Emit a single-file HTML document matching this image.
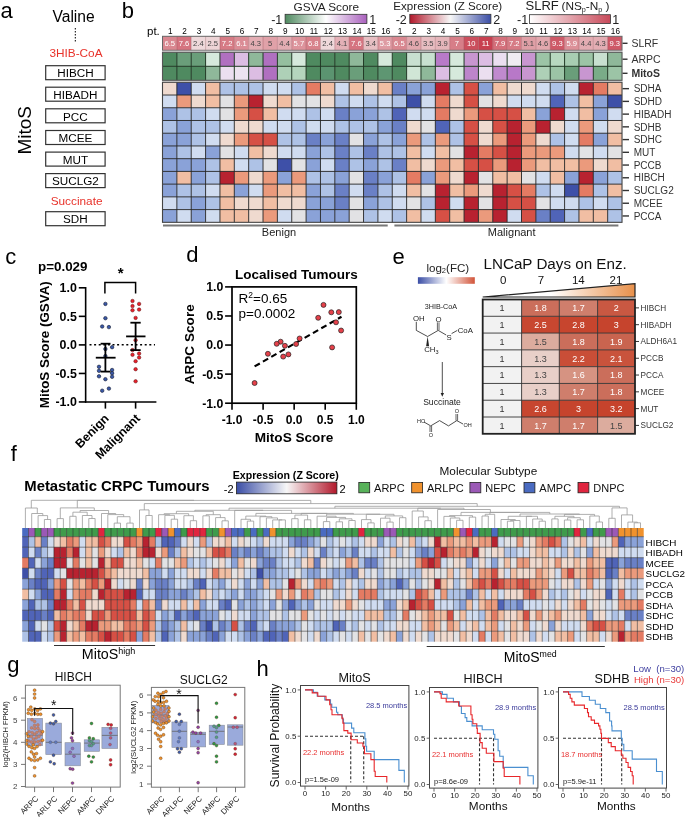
<!DOCTYPE html>
<html><head><meta charset="utf-8"><style>
html,body{margin:0;padding:0;background:#fff;}
svg{display:block;font-family:"Liberation Sans", sans-serif;will-change:transform;}
</style></head><body>
<svg width="685" height="817" viewBox="0 0 685 817">
<rect width="685" height="817" fill="#fff"/>
<defs>
<linearGradient id="gGSVA"><stop offset="0" stop-color="#4f8a60"/><stop offset="0.5" stop-color="#ffffff"/><stop offset="1" stop-color="#a960bd"/></linearGradient>
<linearGradient id="gEXPb"><stop offset="0" stop-color="#b2182b"/><stop offset="0.5" stop-color="#f7f7f7"/><stop offset="1" stop-color="#3b4ea6"/></linearGradient>
<linearGradient id="gEXPf"><stop offset="0" stop-color="#3b4ea6"/><stop offset="0.5" stop-color="#f7f7f7"/><stop offset="1" stop-color="#b2182b"/></linearGradient>
<linearGradient id="gSLRF"><stop offset="0" stop-color="#ffffff"/><stop offset="1" stop-color="#c84a5a"/></linearGradient>
<linearGradient id="gFC"><stop offset="0" stop-color="#3b4ea6"/><stop offset="0.5" stop-color="#ffffff"/><stop offset="1" stop-color="#d2553a"/></linearGradient>
<linearGradient id="gWedge"><stop offset="0" stop-color="#ffffff"/><stop offset="0.45" stop-color="#ffffff"/><stop offset="1" stop-color="#e8904a"/></linearGradient>
</defs>
<text x="0.6" y="18.2" font-size="22" text-anchor="start" fill="#000" >a</text>
<text x="73.6" y="22.0" font-size="15.6" text-anchor="middle" fill="#000" >Valine</text>
<line x1="75.30" y1="28.00" x2="75.30" y2="42.00" stroke="#000" stroke-width="1" stroke-dasharray="1.5 1.5"/>
<text x="76.0" y="56.9" font-size="11.8" text-anchor="middle" fill="#e8322a" >3HIB-CoA</text>
<rect x="45.70" y="65.70" width="59.40" height="14.00" fill="#fff" stroke="#333" stroke-width="1.2" />
<text x="75.4" y="77.4" font-size="11.7" text-anchor="middle" fill="#000" >HIBCH</text>
<rect x="45.70" y="87.20" width="59.40" height="14.00" fill="#fff" stroke="#333" stroke-width="1.2" />
<text x="75.4" y="98.9" font-size="11.7" text-anchor="middle" fill="#000" >HIBADH</text>
<rect x="45.70" y="108.80" width="59.40" height="14.00" fill="#fff" stroke="#333" stroke-width="1.2" />
<text x="75.4" y="120.5" font-size="11.7" text-anchor="middle" fill="#000" >PCC</text>
<rect x="45.70" y="130.50" width="59.40" height="14.00" fill="#fff" stroke="#333" stroke-width="1.2" />
<text x="75.4" y="142.2" font-size="11.7" text-anchor="middle" fill="#000" >MCEE</text>
<rect x="45.70" y="152.10" width="59.40" height="14.00" fill="#fff" stroke="#333" stroke-width="1.2" />
<text x="75.4" y="163.8" font-size="11.7" text-anchor="middle" fill="#000" >MUT</text>
<rect x="45.70" y="173.60" width="59.40" height="14.00" fill="#fff" stroke="#333" stroke-width="1.2" />
<text x="75.4" y="185.3" font-size="11.7" text-anchor="middle" fill="#000" >SUCLG2</text>
<rect x="45.70" y="211.70" width="59.40" height="14.00" fill="#fff" stroke="#333" stroke-width="1.2" />
<text x="75.4" y="223.4" font-size="11.7" text-anchor="middle" fill="#000" >SDH</text>
<text x="76.6" y="204.8" font-size="11.8" text-anchor="middle" fill="#e8322a" >Succinate</text>
<text x="0" y="0" font-size="19" text-anchor="middle" transform="translate(31.2,130.3) rotate(-90)">MitoS</text>
<text x="121.8" y="18.1" font-size="22" text-anchor="start" fill="#000" >b</text>
<text x="147.0" y="34.5" font-size="11.5" text-anchor="start" fill="#000" >pt.</text>
<text x="170.3" y="33.8" font-size="8.2" text-anchor="middle" fill="#000" >1</text>
<text x="184.6" y="33.8" font-size="8.2" text-anchor="middle" fill="#000" >2</text>
<text x="199.0" y="33.8" font-size="8.2" text-anchor="middle" fill="#000" >3</text>
<text x="213.4" y="33.8" font-size="8.2" text-anchor="middle" fill="#000" >4</text>
<text x="227.7" y="33.8" font-size="8.2" text-anchor="middle" fill="#000" >5</text>
<text x="242.1" y="33.8" font-size="8.2" text-anchor="middle" fill="#000" >6</text>
<text x="256.4" y="33.8" font-size="8.2" text-anchor="middle" fill="#000" >7</text>
<text x="270.8" y="33.8" font-size="8.2" text-anchor="middle" fill="#000" >8</text>
<text x="285.2" y="33.8" font-size="8.2" text-anchor="middle" fill="#000" >9</text>
<text x="299.5" y="33.8" font-size="8.2" text-anchor="middle" fill="#000" >10</text>
<text x="313.9" y="33.8" font-size="8.2" text-anchor="middle" fill="#000" >11</text>
<text x="328.2" y="33.8" font-size="8.2" text-anchor="middle" fill="#000" >12</text>
<text x="342.6" y="33.8" font-size="8.2" text-anchor="middle" fill="#000" >13</text>
<text x="357.0" y="33.8" font-size="8.2" text-anchor="middle" fill="#000" >14</text>
<text x="371.3" y="33.8" font-size="8.2" text-anchor="middle" fill="#000" >15</text>
<text x="385.7" y="33.8" font-size="8.2" text-anchor="middle" fill="#000" >16</text>
<text x="400.0" y="33.8" font-size="8.2" text-anchor="middle" fill="#000" >1</text>
<text x="414.4" y="33.8" font-size="8.2" text-anchor="middle" fill="#000" >2</text>
<text x="428.8" y="33.8" font-size="8.2" text-anchor="middle" fill="#000" >3</text>
<text x="443.1" y="33.8" font-size="8.2" text-anchor="middle" fill="#000" >4</text>
<text x="457.5" y="33.8" font-size="8.2" text-anchor="middle" fill="#000" >5</text>
<text x="471.8" y="33.8" font-size="8.2" text-anchor="middle" fill="#000" >6</text>
<text x="486.2" y="33.8" font-size="8.2" text-anchor="middle" fill="#000" >7</text>
<text x="500.6" y="33.8" font-size="8.2" text-anchor="middle" fill="#000" >8</text>
<text x="514.9" y="33.8" font-size="8.2" text-anchor="middle" fill="#000" >9</text>
<text x="529.3" y="33.8" font-size="8.2" text-anchor="middle" fill="#000" >10</text>
<text x="543.6" y="33.8" font-size="8.2" text-anchor="middle" fill="#000" >11</text>
<text x="558.0" y="33.8" font-size="8.2" text-anchor="middle" fill="#000" >12</text>
<text x="572.4" y="33.8" font-size="8.2" text-anchor="middle" fill="#000" >13</text>
<text x="586.7" y="33.8" font-size="8.2" text-anchor="middle" fill="#000" >14</text>
<text x="601.1" y="33.8" font-size="8.2" text-anchor="middle" fill="#000" >15</text>
<text x="615.4" y="33.8" font-size="8.2" text-anchor="middle" fill="#000" >16</text>
<rect x="162.50" y="36.30" width="14.36" height="14.00" fill="#d98790" />
<text x="169.7" y="46.2" font-size="7.6" text-anchor="middle" fill="#fff" >6.5</text>
<rect x="176.86" y="36.30" width="14.36" height="14.00" fill="#d57480" />
<text x="184.0" y="46.2" font-size="7.6" text-anchor="middle" fill="#fff" >7.6</text>
<rect x="191.22" y="36.30" width="14.36" height="14.00" fill="#eed8da" />
<text x="198.4" y="46.2" font-size="7.6" text-anchor="middle" fill="#444" >2.4</text>
<rect x="205.58" y="36.30" width="14.36" height="14.00" fill="#edd4d6" />
<text x="212.8" y="46.2" font-size="7.6" text-anchor="middle" fill="#444" >2.5</text>
<rect x="219.94" y="36.30" width="14.36" height="14.00" fill="#d67b85" />
<text x="227.1" y="46.2" font-size="7.6" text-anchor="middle" fill="#fff" >7.2</text>
<rect x="234.30" y="36.30" width="14.36" height="14.00" fill="#db8d96" />
<text x="241.5" y="46.2" font-size="7.6" text-anchor="middle" fill="#fff" >6.1</text>
<rect x="248.66" y="36.30" width="14.36" height="14.00" fill="#e3adb3" />
<text x="255.8" y="46.2" font-size="7.6" text-anchor="middle" fill="#444" >4.3</text>
<rect x="263.02" y="36.30" width="14.36" height="14.00" fill="#e0a1a8" />
<text x="270.2" y="46.2" font-size="7.6" text-anchor="middle" fill="#444" >5</text>
<rect x="277.38" y="36.30" width="14.36" height="14.00" fill="#e3acb2" />
<text x="284.6" y="46.2" font-size="7.6" text-anchor="middle" fill="#444" >4.4</text>
<rect x="291.74" y="36.30" width="14.36" height="14.00" fill="#dd949c" />
<text x="298.9" y="46.2" font-size="7.6" text-anchor="middle" fill="#fff" >5.7</text>
<rect x="306.10" y="36.30" width="14.36" height="14.00" fill="#d8828b" />
<text x="313.3" y="46.2" font-size="7.6" text-anchor="middle" fill="#fff" >6.8</text>
<rect x="320.46" y="36.30" width="14.36" height="14.00" fill="#eed8da" />
<text x="327.6" y="46.2" font-size="7.6" text-anchor="middle" fill="#444" >2.4</text>
<rect x="334.82" y="36.30" width="14.36" height="14.00" fill="#e4b1b7" />
<text x="342.0" y="46.2" font-size="7.6" text-anchor="middle" fill="#444" >4.1</text>
<rect x="349.18" y="36.30" width="14.36" height="14.00" fill="#d57480" />
<text x="356.4" y="46.2" font-size="7.6" text-anchor="middle" fill="#fff" >7.6</text>
<rect x="363.54" y="36.30" width="14.36" height="14.00" fill="#e7bfc3" />
<text x="370.7" y="46.2" font-size="7.6" text-anchor="middle" fill="#444" >3.4</text>
<rect x="377.90" y="36.30" width="14.36" height="14.00" fill="#de9ba3" />
<text x="385.1" y="46.2" font-size="7.6" text-anchor="middle" fill="#fff" >5.3</text>
<rect x="392.26" y="36.30" width="14.36" height="14.00" fill="#d98790" />
<text x="399.4" y="46.2" font-size="7.6" text-anchor="middle" fill="#fff" >6.5</text>
<rect x="406.62" y="36.30" width="14.36" height="14.00" fill="#e2a8ae" />
<text x="413.8" y="46.2" font-size="7.6" text-anchor="middle" fill="#444" >4.6</text>
<rect x="420.98" y="36.30" width="14.36" height="14.00" fill="#e7bdc1" />
<text x="428.2" y="46.2" font-size="7.6" text-anchor="middle" fill="#444" >3.5</text>
<rect x="435.34" y="36.30" width="14.36" height="14.00" fill="#e5b5ba" />
<text x="442.5" y="46.2" font-size="7.6" text-anchor="middle" fill="#444" >3.9</text>
<rect x="449.70" y="36.30" width="14.36" height="14.00" fill="#d77e88" />
<text x="456.9" y="46.2" font-size="7.6" text-anchor="middle" fill="#fff" >7</text>
<rect x="464.06" y="36.30" width="14.36" height="14.00" fill="#cb4f5d" />
<text x="471.2" y="46.2" font-size="7.6" text-anchor="middle" fill="#fff" >10</text>
<rect x="478.42" y="36.30" width="14.36" height="14.00" fill="#c84050" />
<text x="485.6" y="46.2" font-size="7.6" text-anchor="middle" fill="#fff" >11</text>
<rect x="492.78" y="36.30" width="14.36" height="14.00" fill="#d4707b" />
<text x="500.0" y="46.2" font-size="7.6" text-anchor="middle" fill="#fff" >7.9</text>
<rect x="507.14" y="36.30" width="14.36" height="14.00" fill="#d67b85" />
<text x="514.3" y="46.2" font-size="7.6" text-anchor="middle" fill="#fff" >7.2</text>
<rect x="521.50" y="36.30" width="14.36" height="14.00" fill="#df9fa6" />
<text x="528.7" y="46.2" font-size="7.6" text-anchor="middle" fill="#444" >5.1</text>
<rect x="535.86" y="36.30" width="14.36" height="14.00" fill="#e2a8ae" />
<text x="543.0" y="46.2" font-size="7.6" text-anchor="middle" fill="#444" >4.6</text>
<rect x="550.22" y="36.30" width="14.36" height="14.00" fill="#ce5967" />
<text x="557.4" y="46.2" font-size="7.6" text-anchor="middle" fill="#fff" >9.3</text>
<rect x="564.58" y="36.30" width="14.36" height="14.00" fill="#dc9199" />
<text x="571.8" y="46.2" font-size="7.6" text-anchor="middle" fill="#fff" >5.9</text>
<rect x="578.94" y="36.30" width="14.36" height="14.00" fill="#e3acb2" />
<text x="586.1" y="46.2" font-size="7.6" text-anchor="middle" fill="#444" >4.4</text>
<rect x="593.30" y="36.30" width="14.36" height="14.00" fill="#e3adb3" />
<text x="600.5" y="46.2" font-size="7.6" text-anchor="middle" fill="#444" >4.3</text>
<rect x="607.66" y="36.30" width="14.36" height="14.00" fill="#ce5967" />
<text x="614.8" y="46.2" font-size="7.6" text-anchor="middle" fill="#fff" >9.3</text>
<line x1="176.86" y1="36.30" x2="176.86" y2="50.30" stroke="rgba(120,40,50,0.35)" stroke-width="0.8" />
<line x1="191.22" y1="36.30" x2="191.22" y2="50.30" stroke="rgba(120,40,50,0.35)" stroke-width="0.8" />
<line x1="205.58" y1="36.30" x2="205.58" y2="50.30" stroke="rgba(120,40,50,0.35)" stroke-width="0.8" />
<line x1="219.94" y1="36.30" x2="219.94" y2="50.30" stroke="rgba(120,40,50,0.35)" stroke-width="0.8" />
<line x1="234.30" y1="36.30" x2="234.30" y2="50.30" stroke="rgba(120,40,50,0.35)" stroke-width="0.8" />
<line x1="248.66" y1="36.30" x2="248.66" y2="50.30" stroke="rgba(120,40,50,0.35)" stroke-width="0.8" />
<line x1="263.02" y1="36.30" x2="263.02" y2="50.30" stroke="rgba(120,40,50,0.35)" stroke-width="0.8" />
<line x1="277.38" y1="36.30" x2="277.38" y2="50.30" stroke="rgba(120,40,50,0.35)" stroke-width="0.8" />
<line x1="291.74" y1="36.30" x2="291.74" y2="50.30" stroke="rgba(120,40,50,0.35)" stroke-width="0.8" />
<line x1="306.10" y1="36.30" x2="306.10" y2="50.30" stroke="rgba(120,40,50,0.35)" stroke-width="0.8" />
<line x1="320.46" y1="36.30" x2="320.46" y2="50.30" stroke="rgba(120,40,50,0.35)" stroke-width="0.8" />
<line x1="334.82" y1="36.30" x2="334.82" y2="50.30" stroke="rgba(120,40,50,0.35)" stroke-width="0.8" />
<line x1="349.18" y1="36.30" x2="349.18" y2="50.30" stroke="rgba(120,40,50,0.35)" stroke-width="0.8" />
<line x1="363.54" y1="36.30" x2="363.54" y2="50.30" stroke="rgba(120,40,50,0.35)" stroke-width="0.8" />
<line x1="377.90" y1="36.30" x2="377.90" y2="50.30" stroke="rgba(120,40,50,0.35)" stroke-width="0.8" />
<line x1="392.26" y1="36.30" x2="392.26" y2="50.30" stroke="rgba(120,40,50,0.35)" stroke-width="0.8" />
<line x1="406.62" y1="36.30" x2="406.62" y2="50.30" stroke="rgba(120,40,50,0.35)" stroke-width="0.8" />
<line x1="420.98" y1="36.30" x2="420.98" y2="50.30" stroke="rgba(120,40,50,0.35)" stroke-width="0.8" />
<line x1="435.34" y1="36.30" x2="435.34" y2="50.30" stroke="rgba(120,40,50,0.35)" stroke-width="0.8" />
<line x1="449.70" y1="36.30" x2="449.70" y2="50.30" stroke="rgba(120,40,50,0.35)" stroke-width="0.8" />
<line x1="464.06" y1="36.30" x2="464.06" y2="50.30" stroke="rgba(120,40,50,0.35)" stroke-width="0.8" />
<line x1="478.42" y1="36.30" x2="478.42" y2="50.30" stroke="rgba(120,40,50,0.35)" stroke-width="0.8" />
<line x1="492.78" y1="36.30" x2="492.78" y2="50.30" stroke="rgba(120,40,50,0.35)" stroke-width="0.8" />
<line x1="507.14" y1="36.30" x2="507.14" y2="50.30" stroke="rgba(120,40,50,0.35)" stroke-width="0.8" />
<line x1="521.50" y1="36.30" x2="521.50" y2="50.30" stroke="rgba(120,40,50,0.35)" stroke-width="0.8" />
<line x1="535.86" y1="36.30" x2="535.86" y2="50.30" stroke="rgba(120,40,50,0.35)" stroke-width="0.8" />
<line x1="550.22" y1="36.30" x2="550.22" y2="50.30" stroke="rgba(120,40,50,0.35)" stroke-width="0.8" />
<line x1="564.58" y1="36.30" x2="564.58" y2="50.30" stroke="rgba(120,40,50,0.35)" stroke-width="0.8" />
<line x1="578.94" y1="36.30" x2="578.94" y2="50.30" stroke="rgba(120,40,50,0.35)" stroke-width="0.8" />
<line x1="593.30" y1="36.30" x2="593.30" y2="50.30" stroke="rgba(120,40,50,0.35)" stroke-width="0.8" />
<line x1="607.66" y1="36.30" x2="607.66" y2="50.30" stroke="rgba(120,40,50,0.35)" stroke-width="0.8" />
<rect x="162.50" y="36.30" width="459.52" height="14.00" fill="none" stroke="#666" stroke-width="1" />
<rect x="162.00" y="50.80" width="460.52" height="1.10" fill="#dcdcdc" />
<rect x="162.00" y="80.60" width="460.52" height="1.10" fill="#dcdcdc" />
<rect x="162.50" y="52.30" width="14.36" height="14.00" fill="#4f8a60" />
<rect x="162.50" y="66.30" width="14.36" height="14.00" fill="#4f8a60" />
<rect x="176.86" y="52.30" width="14.36" height="14.00" fill="#6a9e7a" />
<rect x="176.86" y="66.30" width="14.36" height="14.00" fill="#4f8a60" />
<rect x="191.22" y="52.30" width="14.36" height="14.00" fill="#6a9e7a" />
<rect x="191.22" y="66.30" width="14.36" height="14.00" fill="#4f8a60" />
<rect x="205.58" y="52.30" width="14.36" height="14.00" fill="#d6e9dc" />
<rect x="205.58" y="66.30" width="14.36" height="14.00" fill="#8fb89a" />
<rect x="219.94" y="52.30" width="14.36" height="14.00" fill="#b070c0" />
<rect x="219.94" y="66.30" width="14.36" height="14.00" fill="#ebdff0" />
<rect x="234.30" y="52.30" width="14.36" height="14.00" fill="#dcbde3" />
<rect x="234.30" y="66.30" width="14.36" height="14.00" fill="#ece3f0" />
<rect x="248.66" y="52.30" width="14.36" height="14.00" fill="#8fb89a" />
<rect x="248.66" y="66.30" width="14.36" height="14.00" fill="#dcbde3" />
<rect x="263.02" y="52.30" width="14.36" height="14.00" fill="#b070c0" />
<rect x="263.02" y="66.30" width="14.36" height="14.00" fill="#b070c0" />
<rect x="277.38" y="52.30" width="14.36" height="14.00" fill="#95bf9f" />
<rect x="277.38" y="66.30" width="14.36" height="14.00" fill="#aed0b7" />
<rect x="291.74" y="52.30" width="14.36" height="14.00" fill="#d6e9dc" />
<rect x="291.74" y="66.30" width="14.36" height="14.00" fill="#b5d5bd" />
<rect x="306.10" y="52.30" width="14.36" height="14.00" fill="#4f8a60" />
<rect x="306.10" y="66.30" width="14.36" height="14.00" fill="#4f8a60" />
<rect x="320.46" y="52.30" width="14.36" height="14.00" fill="#4f8a60" />
<rect x="320.46" y="66.30" width="14.36" height="14.00" fill="#5b9470" />
<rect x="334.82" y="52.30" width="14.36" height="14.00" fill="#4f8a60" />
<rect x="334.82" y="66.30" width="14.36" height="14.00" fill="#4f8a60" />
<rect x="349.18" y="52.30" width="14.36" height="14.00" fill="#8fb89a" />
<rect x="349.18" y="66.30" width="14.36" height="14.00" fill="#6a9e7a" />
<rect x="363.54" y="52.30" width="14.36" height="14.00" fill="#4f8a60" />
<rect x="363.54" y="66.30" width="14.36" height="14.00" fill="#4f8a60" />
<rect x="377.90" y="52.30" width="14.36" height="14.00" fill="#d6e9dc" />
<rect x="377.90" y="66.30" width="14.36" height="14.00" fill="#5e9672" />
<rect x="392.26" y="52.30" width="14.36" height="14.00" fill="#4f8a60" />
<rect x="392.26" y="66.30" width="14.36" height="14.00" fill="#4f8a60" />
<rect x="406.62" y="52.30" width="14.36" height="14.00" fill="#c8e0d0" />
<rect x="406.62" y="66.30" width="14.36" height="14.00" fill="#d0e6d6" />
<rect x="420.98" y="52.30" width="14.36" height="14.00" fill="#c8e0d0" />
<rect x="420.98" y="66.30" width="14.36" height="14.00" fill="#8fb89a" />
<rect x="435.34" y="52.30" width="14.36" height="14.00" fill="#b87ac8" />
<rect x="435.34" y="66.30" width="14.36" height="14.00" fill="#dcbde3" />
<rect x="449.70" y="52.30" width="14.36" height="14.00" fill="#d6e9dc" />
<rect x="449.70" y="66.30" width="14.36" height="14.00" fill="#d6e9dc" />
<rect x="464.06" y="52.30" width="14.36" height="14.00" fill="#c896d0" />
<rect x="464.06" y="66.30" width="14.36" height="14.00" fill="#bd85cb" />
<rect x="478.42" y="52.30" width="14.36" height="14.00" fill="#dcbde3" />
<rect x="478.42" y="66.30" width="14.36" height="14.00" fill="#ebdff0" />
<rect x="492.78" y="52.30" width="14.36" height="14.00" fill="#ebdff0" />
<rect x="492.78" y="66.30" width="14.36" height="14.00" fill="#c08ace" />
<rect x="507.14" y="52.30" width="14.36" height="14.00" fill="#f0ecf2" />
<rect x="507.14" y="66.30" width="14.36" height="14.00" fill="#b878c8" />
<rect x="521.50" y="52.30" width="14.36" height="14.00" fill="#c896d0" />
<rect x="521.50" y="66.30" width="14.36" height="14.00" fill="#c896d0" />
<rect x="535.86" y="52.30" width="14.36" height="14.00" fill="#9cc4a6" />
<rect x="535.86" y="66.30" width="14.36" height="14.00" fill="#aed0b7" />
<rect x="550.22" y="52.30" width="14.36" height="14.00" fill="#b8d8c0" />
<rect x="550.22" y="66.30" width="14.36" height="14.00" fill="#9cc4a6" />
<rect x="564.58" y="52.30" width="14.36" height="14.00" fill="#a8cdb2" />
<rect x="564.58" y="66.30" width="14.36" height="14.00" fill="#6a9e7a" />
<rect x="578.94" y="52.30" width="14.36" height="14.00" fill="#9cc4a6" />
<rect x="578.94" y="66.30" width="14.36" height="14.00" fill="#c896d0" />
<rect x="593.30" y="52.30" width="14.36" height="14.00" fill="#c8e0d0" />
<rect x="593.30" y="66.30" width="14.36" height="14.00" fill="#7aac88" />
<rect x="607.66" y="52.30" width="14.36" height="14.00" fill="#8fb89a" />
<rect x="607.66" y="66.30" width="14.36" height="14.00" fill="#9cc4a6" />
<line x1="176.86" y1="52.30" x2="176.86" y2="80.30" stroke="#203824" stroke-width="1" />
<line x1="191.22" y1="52.30" x2="191.22" y2="80.30" stroke="#203824" stroke-width="1" />
<line x1="205.58" y1="52.30" x2="205.58" y2="80.30" stroke="#203824" stroke-width="1" />
<line x1="219.94" y1="52.30" x2="219.94" y2="80.30" stroke="#203824" stroke-width="1" />
<line x1="234.30" y1="52.30" x2="234.30" y2="80.30" stroke="#203824" stroke-width="1" />
<line x1="248.66" y1="52.30" x2="248.66" y2="80.30" stroke="#203824" stroke-width="1" />
<line x1="263.02" y1="52.30" x2="263.02" y2="80.30" stroke="#203824" stroke-width="1" />
<line x1="277.38" y1="52.30" x2="277.38" y2="80.30" stroke="#203824" stroke-width="1" />
<line x1="291.74" y1="52.30" x2="291.74" y2="80.30" stroke="#203824" stroke-width="1" />
<line x1="306.10" y1="52.30" x2="306.10" y2="80.30" stroke="#203824" stroke-width="1" />
<line x1="320.46" y1="52.30" x2="320.46" y2="80.30" stroke="#203824" stroke-width="1" />
<line x1="334.82" y1="52.30" x2="334.82" y2="80.30" stroke="#203824" stroke-width="1" />
<line x1="349.18" y1="52.30" x2="349.18" y2="80.30" stroke="#203824" stroke-width="1" />
<line x1="363.54" y1="52.30" x2="363.54" y2="80.30" stroke="#203824" stroke-width="1" />
<line x1="377.90" y1="52.30" x2="377.90" y2="80.30" stroke="#203824" stroke-width="1" />
<line x1="392.26" y1="52.30" x2="392.26" y2="80.30" stroke="#203824" stroke-width="1" />
<line x1="406.62" y1="52.30" x2="406.62" y2="80.30" stroke="#203824" stroke-width="1" />
<line x1="420.98" y1="52.30" x2="420.98" y2="80.30" stroke="#203824" stroke-width="1" />
<line x1="435.34" y1="52.30" x2="435.34" y2="80.30" stroke="#203824" stroke-width="1" />
<line x1="449.70" y1="52.30" x2="449.70" y2="80.30" stroke="#203824" stroke-width="1" />
<line x1="464.06" y1="52.30" x2="464.06" y2="80.30" stroke="#203824" stroke-width="1" />
<line x1="478.42" y1="52.30" x2="478.42" y2="80.30" stroke="#203824" stroke-width="1" />
<line x1="492.78" y1="52.30" x2="492.78" y2="80.30" stroke="#203824" stroke-width="1" />
<line x1="507.14" y1="52.30" x2="507.14" y2="80.30" stroke="#203824" stroke-width="1" />
<line x1="521.50" y1="52.30" x2="521.50" y2="80.30" stroke="#203824" stroke-width="1" />
<line x1="535.86" y1="52.30" x2="535.86" y2="80.30" stroke="#203824" stroke-width="1" />
<line x1="550.22" y1="52.30" x2="550.22" y2="80.30" stroke="#203824" stroke-width="1" />
<line x1="564.58" y1="52.30" x2="564.58" y2="80.30" stroke="#203824" stroke-width="1" />
<line x1="578.94" y1="52.30" x2="578.94" y2="80.30" stroke="#203824" stroke-width="1" />
<line x1="593.30" y1="52.30" x2="593.30" y2="80.30" stroke="#203824" stroke-width="1" />
<line x1="607.66" y1="52.30" x2="607.66" y2="80.30" stroke="#203824" stroke-width="1" />
<line x1="162.50" y1="66.30" x2="622.02" y2="66.30" stroke="#203824" stroke-width="1" />
<rect x="162.50" y="52.30" width="459.52" height="28.00" fill="none" stroke="#555" stroke-width="1.1" />
<rect x="162.50" y="82.30" width="14.36" height="12.73" fill="#efdacf" />
<rect x="176.86" y="82.30" width="14.36" height="12.73" fill="#3e50a8" />
<rect x="191.22" y="82.30" width="14.36" height="12.73" fill="#d0dcf0" />
<rect x="205.58" y="82.30" width="14.36" height="12.73" fill="#f1bea3" />
<rect x="219.94" y="82.30" width="14.36" height="12.73" fill="#aec2e6" />
<rect x="234.30" y="82.30" width="14.36" height="12.73" fill="#aec2e6" />
<rect x="248.66" y="82.30" width="14.36" height="12.73" fill="#aec2e6" />
<rect x="263.02" y="82.30" width="14.36" height="12.73" fill="#d0dcf0" />
<rect x="277.38" y="82.30" width="14.36" height="12.73" fill="#d0dcf0" />
<rect x="291.74" y="82.30" width="14.36" height="12.73" fill="#aec2e6" />
<rect x="306.10" y="82.30" width="14.36" height="12.73" fill="#e47b63" />
<rect x="320.46" y="82.30" width="14.36" height="12.73" fill="#f1bea3" />
<rect x="334.82" y="82.30" width="14.36" height="12.73" fill="#d0dcf0" />
<rect x="349.18" y="82.30" width="14.36" height="12.73" fill="#f1bea3" />
<rect x="363.54" y="82.30" width="14.36" height="12.73" fill="#efdacf" />
<rect x="377.90" y="82.30" width="14.36" height="12.73" fill="#f1bea3" />
<rect x="392.26" y="82.30" width="14.36" height="12.73" fill="#6a80c6" />
<rect x="406.62" y="82.30" width="14.36" height="12.73" fill="#8aa2d8" />
<rect x="420.98" y="82.30" width="14.36" height="12.73" fill="#8aa2d8" />
<rect x="435.34" y="82.30" width="14.36" height="12.73" fill="#b82230" />
<rect x="449.70" y="82.30" width="14.36" height="12.73" fill="#aec2e6" />
<rect x="464.06" y="82.30" width="14.36" height="12.73" fill="#d65045" />
<rect x="478.42" y="82.30" width="14.36" height="12.73" fill="#8aa2d8" />
<rect x="492.78" y="82.30" width="14.36" height="12.73" fill="#f1bea3" />
<rect x="507.14" y="82.30" width="14.36" height="12.73" fill="#efdacf" />
<rect x="521.50" y="82.30" width="14.36" height="12.73" fill="#efdacf" />
<rect x="535.86" y="82.30" width="14.36" height="12.73" fill="#d0dcf0" />
<rect x="550.22" y="82.30" width="14.36" height="12.73" fill="#aec2e6" />
<rect x="564.58" y="82.30" width="14.36" height="12.73" fill="#d0dcf0" />
<rect x="578.94" y="82.30" width="14.36" height="12.73" fill="#b82230" />
<rect x="593.30" y="82.30" width="14.36" height="12.73" fill="#e47b63" />
<rect x="607.66" y="82.30" width="14.36" height="12.73" fill="#f1bea3" />
<rect x="162.50" y="95.03" width="14.36" height="12.73" fill="#d0dcf0" />
<rect x="176.86" y="95.03" width="14.36" height="12.73" fill="#eb9a7c" />
<rect x="191.22" y="95.03" width="14.36" height="12.73" fill="#efdacf" />
<rect x="205.58" y="95.03" width="14.36" height="12.73" fill="#f1bea3" />
<rect x="219.94" y="95.03" width="14.36" height="12.73" fill="#e2e2e4" />
<rect x="234.30" y="95.03" width="14.36" height="12.73" fill="#eb9a7c" />
<rect x="248.66" y="95.03" width="14.36" height="12.73" fill="#b82230" />
<rect x="263.02" y="95.03" width="14.36" height="12.73" fill="#efdacf" />
<rect x="277.38" y="95.03" width="14.36" height="12.73" fill="#f1bea3" />
<rect x="291.74" y="95.03" width="14.36" height="12.73" fill="#e2e2e4" />
<rect x="306.10" y="95.03" width="14.36" height="12.73" fill="#e2e2e4" />
<rect x="320.46" y="95.03" width="14.36" height="12.73" fill="#efdacf" />
<rect x="334.82" y="95.03" width="14.36" height="12.73" fill="#aec2e6" />
<rect x="349.18" y="95.03" width="14.36" height="12.73" fill="#d0dcf0" />
<rect x="363.54" y="95.03" width="14.36" height="12.73" fill="#aec2e6" />
<rect x="377.90" y="95.03" width="14.36" height="12.73" fill="#d0dcf0" />
<rect x="392.26" y="95.03" width="14.36" height="12.73" fill="#aec2e6" />
<rect x="406.62" y="95.03" width="14.36" height="12.73" fill="#3e50a8" />
<rect x="420.98" y="95.03" width="14.36" height="12.73" fill="#d0dcf0" />
<rect x="435.34" y="95.03" width="14.36" height="12.73" fill="#e47b63" />
<rect x="449.70" y="95.03" width="14.36" height="12.73" fill="#efdacf" />
<rect x="464.06" y="95.03" width="14.36" height="12.73" fill="#d65045" />
<rect x="478.42" y="95.03" width="14.36" height="12.73" fill="#e2e2e4" />
<rect x="492.78" y="95.03" width="14.36" height="12.73" fill="#efdacf" />
<rect x="507.14" y="95.03" width="14.36" height="12.73" fill="#d0dcf0" />
<rect x="521.50" y="95.03" width="14.36" height="12.73" fill="#d0dcf0" />
<rect x="535.86" y="95.03" width="14.36" height="12.73" fill="#d0dcf0" />
<rect x="550.22" y="95.03" width="14.36" height="12.73" fill="#5064b8" />
<rect x="564.58" y="95.03" width="14.36" height="12.73" fill="#aec2e6" />
<rect x="578.94" y="95.03" width="14.36" height="12.73" fill="#f1bea3" />
<rect x="593.30" y="95.03" width="14.36" height="12.73" fill="#8aa2d8" />
<rect x="607.66" y="95.03" width="14.36" height="12.73" fill="#3e50a8" />
<rect x="162.50" y="107.76" width="14.36" height="12.73" fill="#8aa2d8" />
<rect x="176.86" y="107.76" width="14.36" height="12.73" fill="#aec2e6" />
<rect x="191.22" y="107.76" width="14.36" height="12.73" fill="#aec2e6" />
<rect x="205.58" y="107.76" width="14.36" height="12.73" fill="#d0dcf0" />
<rect x="219.94" y="107.76" width="14.36" height="12.73" fill="#e2e2e4" />
<rect x="234.30" y="107.76" width="14.36" height="12.73" fill="#eb9a7c" />
<rect x="248.66" y="107.76" width="14.36" height="12.73" fill="#d65045" />
<rect x="263.02" y="107.76" width="14.36" height="12.73" fill="#f1bea3" />
<rect x="277.38" y="107.76" width="14.36" height="12.73" fill="#d0dcf0" />
<rect x="291.74" y="107.76" width="14.36" height="12.73" fill="#d0dcf0" />
<rect x="306.10" y="107.76" width="14.36" height="12.73" fill="#aec2e6" />
<rect x="320.46" y="107.76" width="14.36" height="12.73" fill="#d0dcf0" />
<rect x="334.82" y="107.76" width="14.36" height="12.73" fill="#6a80c6" />
<rect x="349.18" y="107.76" width="14.36" height="12.73" fill="#8aa2d8" />
<rect x="363.54" y="107.76" width="14.36" height="12.73" fill="#8aa2d8" />
<rect x="377.90" y="107.76" width="14.36" height="12.73" fill="#aec2e6" />
<rect x="392.26" y="107.76" width="14.36" height="12.73" fill="#5064b8" />
<rect x="406.62" y="107.76" width="14.36" height="12.73" fill="#d0dcf0" />
<rect x="420.98" y="107.76" width="14.36" height="12.73" fill="#d0dcf0" />
<rect x="435.34" y="107.76" width="14.36" height="12.73" fill="#e47b63" />
<rect x="449.70" y="107.76" width="14.36" height="12.73" fill="#efdacf" />
<rect x="464.06" y="107.76" width="14.36" height="12.73" fill="#eb9a7c" />
<rect x="478.42" y="107.76" width="14.36" height="12.73" fill="#d65045" />
<rect x="492.78" y="107.76" width="14.36" height="12.73" fill="#d65045" />
<rect x="507.14" y="107.76" width="14.36" height="12.73" fill="#d65045" />
<rect x="521.50" y="107.76" width="14.36" height="12.73" fill="#f1bea3" />
<rect x="535.86" y="107.76" width="14.36" height="12.73" fill="#8aa2d8" />
<rect x="550.22" y="107.76" width="14.36" height="12.73" fill="#b82230" />
<rect x="564.58" y="107.76" width="14.36" height="12.73" fill="#d0dcf0" />
<rect x="578.94" y="107.76" width="14.36" height="12.73" fill="#f1bea3" />
<rect x="593.30" y="107.76" width="14.36" height="12.73" fill="#8aa2d8" />
<rect x="607.66" y="107.76" width="14.36" height="12.73" fill="#d0dcf0" />
<rect x="162.50" y="120.49" width="14.36" height="12.73" fill="#aec2e6" />
<rect x="176.86" y="120.49" width="14.36" height="12.73" fill="#8aa2d8" />
<rect x="191.22" y="120.49" width="14.36" height="12.73" fill="#aec2e6" />
<rect x="205.58" y="120.49" width="14.36" height="12.73" fill="#aec2e6" />
<rect x="219.94" y="120.49" width="14.36" height="12.73" fill="#d0dcf0" />
<rect x="234.30" y="120.49" width="14.36" height="12.73" fill="#efdacf" />
<rect x="248.66" y="120.49" width="14.36" height="12.73" fill="#efdacf" />
<rect x="263.02" y="120.49" width="14.36" height="12.73" fill="#d0dcf0" />
<rect x="277.38" y="120.49" width="14.36" height="12.73" fill="#d0dcf0" />
<rect x="291.74" y="120.49" width="14.36" height="12.73" fill="#aec2e6" />
<rect x="306.10" y="120.49" width="14.36" height="12.73" fill="#d0dcf0" />
<rect x="320.46" y="120.49" width="14.36" height="12.73" fill="#d0dcf0" />
<rect x="334.82" y="120.49" width="14.36" height="12.73" fill="#aec2e6" />
<rect x="349.18" y="120.49" width="14.36" height="12.73" fill="#aec2e6" />
<rect x="363.54" y="120.49" width="14.36" height="12.73" fill="#aec2e6" />
<rect x="377.90" y="120.49" width="14.36" height="12.73" fill="#8aa2d8" />
<rect x="392.26" y="120.49" width="14.36" height="12.73" fill="#6a80c6" />
<rect x="406.62" y="120.49" width="14.36" height="12.73" fill="#efdacf" />
<rect x="420.98" y="120.49" width="14.36" height="12.73" fill="#e2e2e4" />
<rect x="435.34" y="120.49" width="14.36" height="12.73" fill="#5064b8" />
<rect x="449.70" y="120.49" width="14.36" height="12.73" fill="#aec2e6" />
<rect x="464.06" y="120.49" width="14.36" height="12.73" fill="#d65045" />
<rect x="478.42" y="120.49" width="14.36" height="12.73" fill="#efdacf" />
<rect x="492.78" y="120.49" width="14.36" height="12.73" fill="#d65045" />
<rect x="507.14" y="120.49" width="14.36" height="12.73" fill="#b82230" />
<rect x="521.50" y="120.49" width="14.36" height="12.73" fill="#eb9a7c" />
<rect x="535.86" y="120.49" width="14.36" height="12.73" fill="#b82230" />
<rect x="550.22" y="120.49" width="14.36" height="12.73" fill="#efdacf" />
<rect x="564.58" y="120.49" width="14.36" height="12.73" fill="#d0dcf0" />
<rect x="578.94" y="120.49" width="14.36" height="12.73" fill="#eb9a7c" />
<rect x="593.30" y="120.49" width="14.36" height="12.73" fill="#d0dcf0" />
<rect x="607.66" y="120.49" width="14.36" height="12.73" fill="#efdacf" />
<rect x="162.50" y="133.22" width="14.36" height="12.73" fill="#8aa2d8" />
<rect x="176.86" y="133.22" width="14.36" height="12.73" fill="#8aa2d8" />
<rect x="191.22" y="133.22" width="14.36" height="12.73" fill="#aec2e6" />
<rect x="205.58" y="133.22" width="14.36" height="12.73" fill="#d0dcf0" />
<rect x="219.94" y="133.22" width="14.36" height="12.73" fill="#efdacf" />
<rect x="234.30" y="133.22" width="14.36" height="12.73" fill="#eb9a7c" />
<rect x="248.66" y="133.22" width="14.36" height="12.73" fill="#d65045" />
<rect x="263.02" y="133.22" width="14.36" height="12.73" fill="#d65045" />
<rect x="277.38" y="133.22" width="14.36" height="12.73" fill="#aec2e6" />
<rect x="291.74" y="133.22" width="14.36" height="12.73" fill="#aec2e6" />
<rect x="306.10" y="133.22" width="14.36" height="12.73" fill="#6a80c6" />
<rect x="320.46" y="133.22" width="14.36" height="12.73" fill="#8aa2d8" />
<rect x="334.82" y="133.22" width="14.36" height="12.73" fill="#6a80c6" />
<rect x="349.18" y="133.22" width="14.36" height="12.73" fill="#e2e2e4" />
<rect x="363.54" y="133.22" width="14.36" height="12.73" fill="#8aa2d8" />
<rect x="377.90" y="133.22" width="14.36" height="12.73" fill="#aec2e6" />
<rect x="392.26" y="133.22" width="14.36" height="12.73" fill="#8aa2d8" />
<rect x="406.62" y="133.22" width="14.36" height="12.73" fill="#eb9a7c" />
<rect x="420.98" y="133.22" width="14.36" height="12.73" fill="#aec2e6" />
<rect x="435.34" y="133.22" width="14.36" height="12.73" fill="#eb9a7c" />
<rect x="449.70" y="133.22" width="14.36" height="12.73" fill="#aec2e6" />
<rect x="464.06" y="133.22" width="14.36" height="12.73" fill="#d65045" />
<rect x="478.42" y="133.22" width="14.36" height="12.73" fill="#efdacf" />
<rect x="492.78" y="133.22" width="14.36" height="12.73" fill="#eb9a7c" />
<rect x="507.14" y="133.22" width="14.36" height="12.73" fill="#b82230" />
<rect x="521.50" y="133.22" width="14.36" height="12.73" fill="#eb9a7c" />
<rect x="535.86" y="133.22" width="14.36" height="12.73" fill="#efdacf" />
<rect x="550.22" y="133.22" width="14.36" height="12.73" fill="#aec2e6" />
<rect x="564.58" y="133.22" width="14.36" height="12.73" fill="#d0dcf0" />
<rect x="578.94" y="133.22" width="14.36" height="12.73" fill="#e47b63" />
<rect x="593.30" y="133.22" width="14.36" height="12.73" fill="#8aa2d8" />
<rect x="607.66" y="133.22" width="14.36" height="12.73" fill="#f1bea3" />
<rect x="162.50" y="145.95" width="14.36" height="12.73" fill="#8aa2d8" />
<rect x="176.86" y="145.95" width="14.36" height="12.73" fill="#aec2e6" />
<rect x="191.22" y="145.95" width="14.36" height="12.73" fill="#d0dcf0" />
<rect x="205.58" y="145.95" width="14.36" height="12.73" fill="#8aa2d8" />
<rect x="219.94" y="145.95" width="14.36" height="12.73" fill="#e2e2e4" />
<rect x="234.30" y="145.95" width="14.36" height="12.73" fill="#d0dcf0" />
<rect x="248.66" y="145.95" width="14.36" height="12.73" fill="#f1bea3" />
<rect x="263.02" y="145.95" width="14.36" height="12.73" fill="#efdacf" />
<rect x="277.38" y="145.95" width="14.36" height="12.73" fill="#d0dcf0" />
<rect x="291.74" y="145.95" width="14.36" height="12.73" fill="#d0dcf0" />
<rect x="306.10" y="145.95" width="14.36" height="12.73" fill="#8aa2d8" />
<rect x="320.46" y="145.95" width="14.36" height="12.73" fill="#aec2e6" />
<rect x="334.82" y="145.95" width="14.36" height="12.73" fill="#6a80c6" />
<rect x="349.18" y="145.95" width="14.36" height="12.73" fill="#aec2e6" />
<rect x="363.54" y="145.95" width="14.36" height="12.73" fill="#6a80c6" />
<rect x="377.90" y="145.95" width="14.36" height="12.73" fill="#aec2e6" />
<rect x="392.26" y="145.95" width="14.36" height="12.73" fill="#aec2e6" />
<rect x="406.62" y="145.95" width="14.36" height="12.73" fill="#f1bea3" />
<rect x="420.98" y="145.95" width="14.36" height="12.73" fill="#d0dcf0" />
<rect x="435.34" y="145.95" width="14.36" height="12.73" fill="#f1bea3" />
<rect x="449.70" y="145.95" width="14.36" height="12.73" fill="#e2e2e4" />
<rect x="464.06" y="145.95" width="14.36" height="12.73" fill="#b82230" />
<rect x="478.42" y="145.95" width="14.36" height="12.73" fill="#e47b63" />
<rect x="492.78" y="145.95" width="14.36" height="12.73" fill="#d65045" />
<rect x="507.14" y="145.95" width="14.36" height="12.73" fill="#b82230" />
<rect x="521.50" y="145.95" width="14.36" height="12.73" fill="#eb9a7c" />
<rect x="535.86" y="145.95" width="14.36" height="12.73" fill="#eb9a7c" />
<rect x="550.22" y="145.95" width="14.36" height="12.73" fill="#eb9a7c" />
<rect x="564.58" y="145.95" width="14.36" height="12.73" fill="#d0dcf0" />
<rect x="578.94" y="145.95" width="14.36" height="12.73" fill="#e2e2e4" />
<rect x="593.30" y="145.95" width="14.36" height="12.73" fill="#d0dcf0" />
<rect x="607.66" y="145.95" width="14.36" height="12.73" fill="#e2e2e4" />
<rect x="162.50" y="158.68" width="14.36" height="12.73" fill="#8aa2d8" />
<rect x="176.86" y="158.68" width="14.36" height="12.73" fill="#8aa2d8" />
<rect x="191.22" y="158.68" width="14.36" height="12.73" fill="#8aa2d8" />
<rect x="205.58" y="158.68" width="14.36" height="12.73" fill="#aec2e6" />
<rect x="219.94" y="158.68" width="14.36" height="12.73" fill="#f1bea3" />
<rect x="234.30" y="158.68" width="14.36" height="12.73" fill="#d0dcf0" />
<rect x="248.66" y="158.68" width="14.36" height="12.73" fill="#aec2e6" />
<rect x="263.02" y="158.68" width="14.36" height="12.73" fill="#e2e2e4" />
<rect x="277.38" y="158.68" width="14.36" height="12.73" fill="#3e50a8" />
<rect x="291.74" y="158.68" width="14.36" height="12.73" fill="#e2e2e4" />
<rect x="306.10" y="158.68" width="14.36" height="12.73" fill="#8aa2d8" />
<rect x="320.46" y="158.68" width="14.36" height="12.73" fill="#d0dcf0" />
<rect x="334.82" y="158.68" width="14.36" height="12.73" fill="#6a80c6" />
<rect x="349.18" y="158.68" width="14.36" height="12.73" fill="#aec2e6" />
<rect x="363.54" y="158.68" width="14.36" height="12.73" fill="#8aa2d8" />
<rect x="377.90" y="158.68" width="14.36" height="12.73" fill="#aec2e6" />
<rect x="392.26" y="158.68" width="14.36" height="12.73" fill="#6a80c6" />
<rect x="406.62" y="158.68" width="14.36" height="12.73" fill="#f1bea3" />
<rect x="420.98" y="158.68" width="14.36" height="12.73" fill="#efdacf" />
<rect x="435.34" y="158.68" width="14.36" height="12.73" fill="#eb9a7c" />
<rect x="449.70" y="158.68" width="14.36" height="12.73" fill="#f1bea3" />
<rect x="464.06" y="158.68" width="14.36" height="12.73" fill="#d65045" />
<rect x="478.42" y="158.68" width="14.36" height="12.73" fill="#d65045" />
<rect x="492.78" y="158.68" width="14.36" height="12.73" fill="#eb9a7c" />
<rect x="507.14" y="158.68" width="14.36" height="12.73" fill="#b82230" />
<rect x="521.50" y="158.68" width="14.36" height="12.73" fill="#eb9a7c" />
<rect x="535.86" y="158.68" width="14.36" height="12.73" fill="#f1bea3" />
<rect x="550.22" y="158.68" width="14.36" height="12.73" fill="#f1bea3" />
<rect x="564.58" y="158.68" width="14.36" height="12.73" fill="#f1bea3" />
<rect x="578.94" y="158.68" width="14.36" height="12.73" fill="#eb9a7c" />
<rect x="593.30" y="158.68" width="14.36" height="12.73" fill="#efdacf" />
<rect x="607.66" y="158.68" width="14.36" height="12.73" fill="#f1bea3" />
<rect x="162.50" y="171.41" width="14.36" height="12.73" fill="#8aa2d8" />
<rect x="176.86" y="171.41" width="14.36" height="12.73" fill="#f1bea3" />
<rect x="191.22" y="171.41" width="14.36" height="12.73" fill="#8aa2d8" />
<rect x="205.58" y="171.41" width="14.36" height="12.73" fill="#aec2e6" />
<rect x="219.94" y="171.41" width="14.36" height="12.73" fill="#b82230" />
<rect x="234.30" y="171.41" width="14.36" height="12.73" fill="#eb9a7c" />
<rect x="248.66" y="171.41" width="14.36" height="12.73" fill="#efdacf" />
<rect x="263.02" y="171.41" width="14.36" height="12.73" fill="#eb9a7c" />
<rect x="277.38" y="171.41" width="14.36" height="12.73" fill="#8aa2d8" />
<rect x="291.74" y="171.41" width="14.36" height="12.73" fill="#eb9a7c" />
<rect x="306.10" y="171.41" width="14.36" height="12.73" fill="#aec2e6" />
<rect x="320.46" y="171.41" width="14.36" height="12.73" fill="#aec2e6" />
<rect x="334.82" y="171.41" width="14.36" height="12.73" fill="#8aa2d8" />
<rect x="349.18" y="171.41" width="14.36" height="12.73" fill="#e2e2e4" />
<rect x="363.54" y="171.41" width="14.36" height="12.73" fill="#6a80c6" />
<rect x="377.90" y="171.41" width="14.36" height="12.73" fill="#8aa2d8" />
<rect x="392.26" y="171.41" width="14.36" height="12.73" fill="#aec2e6" />
<rect x="406.62" y="171.41" width="14.36" height="12.73" fill="#e47b63" />
<rect x="420.98" y="171.41" width="14.36" height="12.73" fill="#8aa2d8" />
<rect x="435.34" y="171.41" width="14.36" height="12.73" fill="#eb9a7c" />
<rect x="449.70" y="171.41" width="14.36" height="12.73" fill="#efdacf" />
<rect x="464.06" y="171.41" width="14.36" height="12.73" fill="#b82230" />
<rect x="478.42" y="171.41" width="14.36" height="12.73" fill="#e2e2e4" />
<rect x="492.78" y="171.41" width="14.36" height="12.73" fill="#f1bea3" />
<rect x="507.14" y="171.41" width="14.36" height="12.73" fill="#f1bea3" />
<rect x="521.50" y="171.41" width="14.36" height="12.73" fill="#e2e2e4" />
<rect x="535.86" y="171.41" width="14.36" height="12.73" fill="#d0dcf0" />
<rect x="550.22" y="171.41" width="14.36" height="12.73" fill="#f1bea3" />
<rect x="564.58" y="171.41" width="14.36" height="12.73" fill="#8aa2d8" />
<rect x="578.94" y="171.41" width="14.36" height="12.73" fill="#b82230" />
<rect x="593.30" y="171.41" width="14.36" height="12.73" fill="#8aa2d8" />
<rect x="607.66" y="171.41" width="14.36" height="12.73" fill="#aec2e6" />
<rect x="162.50" y="184.14" width="14.36" height="12.73" fill="#8aa2d8" />
<rect x="176.86" y="184.14" width="14.36" height="12.73" fill="#aec2e6" />
<rect x="191.22" y="184.14" width="14.36" height="12.73" fill="#aec2e6" />
<rect x="205.58" y="184.14" width="14.36" height="12.73" fill="#d0dcf0" />
<rect x="219.94" y="184.14" width="14.36" height="12.73" fill="#f1bea3" />
<rect x="234.30" y="184.14" width="14.36" height="12.73" fill="#8aa2d8" />
<rect x="248.66" y="184.14" width="14.36" height="12.73" fill="#d0dcf0" />
<rect x="263.02" y="184.14" width="14.36" height="12.73" fill="#eb9a7c" />
<rect x="277.38" y="184.14" width="14.36" height="12.73" fill="#f1bea3" />
<rect x="291.74" y="184.14" width="14.36" height="12.73" fill="#f1bea3" />
<rect x="306.10" y="184.14" width="14.36" height="12.73" fill="#8aa2d8" />
<rect x="320.46" y="184.14" width="14.36" height="12.73" fill="#aec2e6" />
<rect x="334.82" y="184.14" width="14.36" height="12.73" fill="#6a80c6" />
<rect x="349.18" y="184.14" width="14.36" height="12.73" fill="#d0dcf0" />
<rect x="363.54" y="184.14" width="14.36" height="12.73" fill="#6a80c6" />
<rect x="377.90" y="184.14" width="14.36" height="12.73" fill="#aec2e6" />
<rect x="392.26" y="184.14" width="14.36" height="12.73" fill="#d0dcf0" />
<rect x="406.62" y="184.14" width="14.36" height="12.73" fill="#f1bea3" />
<rect x="420.98" y="184.14" width="14.36" height="12.73" fill="#e2e2e4" />
<rect x="435.34" y="184.14" width="14.36" height="12.73" fill="#b82230" />
<rect x="449.70" y="184.14" width="14.36" height="12.73" fill="#f1bea3" />
<rect x="464.06" y="184.14" width="14.36" height="12.73" fill="#eb9a7c" />
<rect x="478.42" y="184.14" width="14.36" height="12.73" fill="#efdacf" />
<rect x="492.78" y="184.14" width="14.36" height="12.73" fill="#b82230" />
<rect x="507.14" y="184.14" width="14.36" height="12.73" fill="#d65045" />
<rect x="521.50" y="184.14" width="14.36" height="12.73" fill="#e47b63" />
<rect x="535.86" y="184.14" width="14.36" height="12.73" fill="#aec2e6" />
<rect x="550.22" y="184.14" width="14.36" height="12.73" fill="#d0dcf0" />
<rect x="564.58" y="184.14" width="14.36" height="12.73" fill="#3e50a8" />
<rect x="578.94" y="184.14" width="14.36" height="12.73" fill="#e47b63" />
<rect x="593.30" y="184.14" width="14.36" height="12.73" fill="#aec2e6" />
<rect x="607.66" y="184.14" width="14.36" height="12.73" fill="#f1bea3" />
<rect x="162.50" y="196.87" width="14.36" height="12.73" fill="#d0dcf0" />
<rect x="176.86" y="196.87" width="14.36" height="12.73" fill="#aec2e6" />
<rect x="191.22" y="196.87" width="14.36" height="12.73" fill="#8aa2d8" />
<rect x="205.58" y="196.87" width="14.36" height="12.73" fill="#aec2e6" />
<rect x="219.94" y="196.87" width="14.36" height="12.73" fill="#f1bea3" />
<rect x="234.30" y="196.87" width="14.36" height="12.73" fill="#efdacf" />
<rect x="248.66" y="196.87" width="14.36" height="12.73" fill="#efdacf" />
<rect x="263.02" y="196.87" width="14.36" height="12.73" fill="#f1bea3" />
<rect x="277.38" y="196.87" width="14.36" height="12.73" fill="#efdacf" />
<rect x="291.74" y="196.87" width="14.36" height="12.73" fill="#efdacf" />
<rect x="306.10" y="196.87" width="14.36" height="12.73" fill="#8aa2d8" />
<rect x="320.46" y="196.87" width="14.36" height="12.73" fill="#8aa2d8" />
<rect x="334.82" y="196.87" width="14.36" height="12.73" fill="#6a80c6" />
<rect x="349.18" y="196.87" width="14.36" height="12.73" fill="#e2e2e4" />
<rect x="363.54" y="196.87" width="14.36" height="12.73" fill="#8aa2d8" />
<rect x="377.90" y="196.87" width="14.36" height="12.73" fill="#aec2e6" />
<rect x="392.26" y="196.87" width="14.36" height="12.73" fill="#d0dcf0" />
<rect x="406.62" y="196.87" width="14.36" height="12.73" fill="#e2e2e4" />
<rect x="420.98" y="196.87" width="14.36" height="12.73" fill="#aec2e6" />
<rect x="435.34" y="196.87" width="14.36" height="12.73" fill="#b82230" />
<rect x="449.70" y="196.87" width="14.36" height="12.73" fill="#d0dcf0" />
<rect x="464.06" y="196.87" width="14.36" height="12.73" fill="#b82230" />
<rect x="478.42" y="196.87" width="14.36" height="12.73" fill="#e2e2e4" />
<rect x="492.78" y="196.87" width="14.36" height="12.73" fill="#b82230" />
<rect x="507.14" y="196.87" width="14.36" height="12.73" fill="#d65045" />
<rect x="521.50" y="196.87" width="14.36" height="12.73" fill="#d65045" />
<rect x="535.86" y="196.87" width="14.36" height="12.73" fill="#e2e2e4" />
<rect x="550.22" y="196.87" width="14.36" height="12.73" fill="#d0dcf0" />
<rect x="564.58" y="196.87" width="14.36" height="12.73" fill="#d0dcf0" />
<rect x="578.94" y="196.87" width="14.36" height="12.73" fill="#aec2e6" />
<rect x="593.30" y="196.87" width="14.36" height="12.73" fill="#d0dcf0" />
<rect x="607.66" y="196.87" width="14.36" height="12.73" fill="#aec2e6" />
<rect x="162.50" y="209.60" width="14.36" height="12.73" fill="#8aa2d8" />
<rect x="176.86" y="209.60" width="14.36" height="12.73" fill="#d0dcf0" />
<rect x="191.22" y="209.60" width="14.36" height="12.73" fill="#8aa2d8" />
<rect x="205.58" y="209.60" width="14.36" height="12.73" fill="#d0dcf0" />
<rect x="219.94" y="209.60" width="14.36" height="12.73" fill="#f1bea3" />
<rect x="234.30" y="209.60" width="14.36" height="12.73" fill="#f1bea3" />
<rect x="248.66" y="209.60" width="14.36" height="12.73" fill="#efdacf" />
<rect x="263.02" y="209.60" width="14.36" height="12.73" fill="#eb9a7c" />
<rect x="277.38" y="209.60" width="14.36" height="12.73" fill="#d0dcf0" />
<rect x="291.74" y="209.60" width="14.36" height="12.73" fill="#e2e2e4" />
<rect x="306.10" y="209.60" width="14.36" height="12.73" fill="#8aa2d8" />
<rect x="320.46" y="209.60" width="14.36" height="12.73" fill="#8aa2d8" />
<rect x="334.82" y="209.60" width="14.36" height="12.73" fill="#8aa2d8" />
<rect x="349.18" y="209.60" width="14.36" height="12.73" fill="#e2e2e4" />
<rect x="363.54" y="209.60" width="14.36" height="12.73" fill="#aec2e6" />
<rect x="377.90" y="209.60" width="14.36" height="12.73" fill="#d0dcf0" />
<rect x="392.26" y="209.60" width="14.36" height="12.73" fill="#aec2e6" />
<rect x="406.62" y="209.60" width="14.36" height="12.73" fill="#f1bea3" />
<rect x="420.98" y="209.60" width="14.36" height="12.73" fill="#d0dcf0" />
<rect x="435.34" y="209.60" width="14.36" height="12.73" fill="#d65045" />
<rect x="449.70" y="209.60" width="14.36" height="12.73" fill="#f1bea3" />
<rect x="464.06" y="209.60" width="14.36" height="12.73" fill="#b82230" />
<rect x="478.42" y="209.60" width="14.36" height="12.73" fill="#eb9a7c" />
<rect x="492.78" y="209.60" width="14.36" height="12.73" fill="#b82230" />
<rect x="507.14" y="209.60" width="14.36" height="12.73" fill="#d0dcf0" />
<rect x="521.50" y="209.60" width="14.36" height="12.73" fill="#d65045" />
<rect x="535.86" y="209.60" width="14.36" height="12.73" fill="#6a80c6" />
<rect x="550.22" y="209.60" width="14.36" height="12.73" fill="#5064b8" />
<rect x="564.58" y="209.60" width="14.36" height="12.73" fill="#aec2e6" />
<rect x="578.94" y="209.60" width="14.36" height="12.73" fill="#f1bea3" />
<rect x="593.30" y="209.60" width="14.36" height="12.73" fill="#f1bea3" />
<rect x="607.66" y="209.60" width="14.36" height="12.73" fill="#aec2e6" />
<line x1="176.86" y1="82.30" x2="176.86" y2="222.33" stroke="#222" stroke-width="0.9" />
<line x1="191.22" y1="82.30" x2="191.22" y2="222.33" stroke="#222" stroke-width="0.9" />
<line x1="205.58" y1="82.30" x2="205.58" y2="222.33" stroke="#222" stroke-width="0.9" />
<line x1="219.94" y1="82.30" x2="219.94" y2="222.33" stroke="#222" stroke-width="0.9" />
<line x1="234.30" y1="82.30" x2="234.30" y2="222.33" stroke="#222" stroke-width="0.9" />
<line x1="248.66" y1="82.30" x2="248.66" y2="222.33" stroke="#222" stroke-width="0.9" />
<line x1="263.02" y1="82.30" x2="263.02" y2="222.33" stroke="#222" stroke-width="0.9" />
<line x1="277.38" y1="82.30" x2="277.38" y2="222.33" stroke="#222" stroke-width="0.9" />
<line x1="291.74" y1="82.30" x2="291.74" y2="222.33" stroke="#222" stroke-width="0.9" />
<line x1="306.10" y1="82.30" x2="306.10" y2="222.33" stroke="#222" stroke-width="0.9" />
<line x1="320.46" y1="82.30" x2="320.46" y2="222.33" stroke="#222" stroke-width="0.9" />
<line x1="334.82" y1="82.30" x2="334.82" y2="222.33" stroke="#222" stroke-width="0.9" />
<line x1="349.18" y1="82.30" x2="349.18" y2="222.33" stroke="#222" stroke-width="0.9" />
<line x1="363.54" y1="82.30" x2="363.54" y2="222.33" stroke="#222" stroke-width="0.9" />
<line x1="377.90" y1="82.30" x2="377.90" y2="222.33" stroke="#222" stroke-width="0.9" />
<line x1="392.26" y1="82.30" x2="392.26" y2="222.33" stroke="#222" stroke-width="0.9" />
<line x1="406.62" y1="82.30" x2="406.62" y2="222.33" stroke="#222" stroke-width="0.9" />
<line x1="420.98" y1="82.30" x2="420.98" y2="222.33" stroke="#222" stroke-width="0.9" />
<line x1="435.34" y1="82.30" x2="435.34" y2="222.33" stroke="#222" stroke-width="0.9" />
<line x1="449.70" y1="82.30" x2="449.70" y2="222.33" stroke="#222" stroke-width="0.9" />
<line x1="464.06" y1="82.30" x2="464.06" y2="222.33" stroke="#222" stroke-width="0.9" />
<line x1="478.42" y1="82.30" x2="478.42" y2="222.33" stroke="#222" stroke-width="0.9" />
<line x1="492.78" y1="82.30" x2="492.78" y2="222.33" stroke="#222" stroke-width="0.9" />
<line x1="507.14" y1="82.30" x2="507.14" y2="222.33" stroke="#222" stroke-width="0.9" />
<line x1="521.50" y1="82.30" x2="521.50" y2="222.33" stroke="#222" stroke-width="0.9" />
<line x1="535.86" y1="82.30" x2="535.86" y2="222.33" stroke="#222" stroke-width="0.9" />
<line x1="550.22" y1="82.30" x2="550.22" y2="222.33" stroke="#222" stroke-width="0.9" />
<line x1="564.58" y1="82.30" x2="564.58" y2="222.33" stroke="#222" stroke-width="0.9" />
<line x1="578.94" y1="82.30" x2="578.94" y2="222.33" stroke="#222" stroke-width="0.9" />
<line x1="593.30" y1="82.30" x2="593.30" y2="222.33" stroke="#222" stroke-width="0.9" />
<line x1="607.66" y1="82.30" x2="607.66" y2="222.33" stroke="#222" stroke-width="0.9" />
<line x1="162.50" y1="95.03" x2="622.02" y2="95.03" stroke="#222" stroke-width="0.9" />
<line x1="162.50" y1="107.76" x2="622.02" y2="107.76" stroke="#222" stroke-width="0.9" />
<line x1="162.50" y1="120.49" x2="622.02" y2="120.49" stroke="#222" stroke-width="0.9" />
<line x1="162.50" y1="133.22" x2="622.02" y2="133.22" stroke="#222" stroke-width="0.9" />
<line x1="162.50" y1="145.95" x2="622.02" y2="145.95" stroke="#222" stroke-width="0.9" />
<line x1="162.50" y1="158.68" x2="622.02" y2="158.68" stroke="#222" stroke-width="0.9" />
<line x1="162.50" y1="171.41" x2="622.02" y2="171.41" stroke="#222" stroke-width="0.9" />
<line x1="162.50" y1="184.14" x2="622.02" y2="184.14" stroke="#222" stroke-width="0.9" />
<line x1="162.50" y1="196.87" x2="622.02" y2="196.87" stroke="#222" stroke-width="0.9" />
<line x1="162.50" y1="209.60" x2="622.02" y2="209.60" stroke="#222" stroke-width="0.9" />
<rect x="162.50" y="82.30" width="459.52" height="140.03" fill="none" stroke="#444" stroke-width="1.1" />
<line x1="622.52" y1="43.30" x2="627.52" y2="43.30" stroke="#333" stroke-width="1.4" />
<text x="631.4" y="46.9" font-size="10.5" text-anchor="start" fill="#333" >SLRF</text>
<line x1="622.52" y1="59.20" x2="627.52" y2="59.20" stroke="#333" stroke-width="1.4" />
<text x="631.4" y="62.8" font-size="10.5" text-anchor="start" fill="#333" >ARPC</text>
<line x1="622.52" y1="73.30" x2="627.52" y2="73.30" stroke="#333" stroke-width="1.4" />
<text x="631.4" y="76.9" font-size="10.5" text-anchor="start" font-weight="bold" fill="#333" >MitoS</text>
<line x1="622.52" y1="88.66" x2="629.02" y2="88.66" stroke="#333" stroke-width="1.4" />
<text x="633.7" y="92.3" font-size="10" text-anchor="start" fill="#333" >SDHA</text>
<line x1="622.52" y1="101.39" x2="629.02" y2="101.39" stroke="#333" stroke-width="1.4" />
<text x="633.7" y="105.0" font-size="10" text-anchor="start" fill="#333" >SDHD</text>
<line x1="622.52" y1="114.12" x2="629.02" y2="114.12" stroke="#333" stroke-width="1.4" />
<text x="633.7" y="117.7" font-size="10" text-anchor="start" fill="#333" >HIBADH</text>
<line x1="622.52" y1="126.85" x2="629.02" y2="126.85" stroke="#333" stroke-width="1.4" />
<text x="633.7" y="130.5" font-size="10" text-anchor="start" fill="#333" >SDHB</text>
<line x1="622.52" y1="139.59" x2="629.02" y2="139.59" stroke="#333" stroke-width="1.4" />
<text x="633.7" y="143.2" font-size="10" text-anchor="start" fill="#333" >SDHC</text>
<line x1="622.52" y1="152.31" x2="629.02" y2="152.31" stroke="#333" stroke-width="1.4" />
<text x="633.7" y="155.9" font-size="10" text-anchor="start" fill="#333" >MUT</text>
<line x1="622.52" y1="165.05" x2="629.02" y2="165.05" stroke="#333" stroke-width="1.4" />
<text x="633.7" y="168.6" font-size="10" text-anchor="start" fill="#333" >PCCB</text>
<line x1="622.52" y1="177.78" x2="629.02" y2="177.78" stroke="#333" stroke-width="1.4" />
<text x="633.7" y="181.4" font-size="10" text-anchor="start" fill="#333" >HIBCH</text>
<line x1="622.52" y1="190.50" x2="629.02" y2="190.50" stroke="#333" stroke-width="1.4" />
<text x="633.7" y="194.1" font-size="10" text-anchor="start" fill="#333" >SUCLG2</text>
<line x1="622.52" y1="203.24" x2="629.02" y2="203.24" stroke="#333" stroke-width="1.4" />
<text x="633.7" y="206.8" font-size="10" text-anchor="start" fill="#333" >MCEE</text>
<line x1="622.52" y1="215.96" x2="629.02" y2="215.96" stroke="#333" stroke-width="1.4" />
<text x="633.7" y="219.6" font-size="10" text-anchor="start" fill="#333" >PCCA</text>
<rect x="163.00" y="224.50" width="224.70" height="2.00" fill="#777" />
<rect x="394.40" y="224.50" width="224.00" height="2.00" fill="#777" />
<text x="279.0" y="236.3" font-size="11" text-anchor="middle" fill="#222" >Benign</text>
<text x="511.7" y="236.3" font-size="11" text-anchor="middle" fill="#222" >Malignant</text>
<text x="326.3" y="10.8" font-size="11.8" text-anchor="middle" fill="#222" >GSVA Score</text>
<rect x="285.10" y="14.30" width="81.80" height="9.20" fill="url(#gGSVA)" stroke="#333" stroke-width="0.8" />
<text x="282.3" y="23.6" font-size="12.5" text-anchor="end" fill="#222" >-1</text>
<text x="369.2" y="23.6" font-size="12.5" text-anchor="start" fill="#222" >1</text>
<text x="447.8" y="9.8" font-size="11.6" text-anchor="middle" fill="#222" >Expression (Z Score)</text>
<rect x="409.80" y="14.30" width="81.10" height="9.20" fill="url(#gEXPb)" stroke="#333" stroke-width="0.8" />
<text x="406.8" y="23.6" font-size="12.5" text-anchor="end" fill="#222" >-2</text>
<text x="493.3" y="23.6" font-size="12.5" text-anchor="start" fill="#222" >2</text>
<text x="525.5" y="10.2" font-size="13" text-anchor="start" fill="#222" >SLRF</text>
<text x="561.5" y="10.2" font-size="11.8" fill="#222">(NS<tspan font-size="7.2" dy="2">p</tspan><tspan dy="-2">-N</tspan><tspan font-size="7.2" dy="2">p</tspan><tspan dy="-2"> )</tspan></text>
<rect x="529.60" y="14.70" width="80.80" height="8.80" fill="url(#gSLRF)" stroke="#333" stroke-width="0.8" />
<text x="528.2" y="23.6" font-size="12.5" text-anchor="end" fill="#222" >-1</text>
<text x="612.3" y="23.6" font-size="12.5" text-anchor="start" fill="#222" >1</text>
<text x="5.2" y="264.1" font-size="22" text-anchor="start" fill="#000" >c</text>
<text x="38.0" y="270.6" font-size="13.4" text-anchor="start" font-weight="bold" fill="#000" >p=0.029</text>
<line x1="85.65" y1="287.00" x2="85.65" y2="402.70" stroke="#000" stroke-width="1.6" />
<line x1="85.00" y1="401.95" x2="156.40" y2="401.95" stroke="#000" stroke-width="1.6" />
<line x1="78.80" y1="287.80" x2="85.65" y2="287.80" stroke="#000" stroke-width="1.6" />
<text x="76.8" y="292.2" font-size="12.4" text-anchor="end" font-weight="bold" fill="#000" >1.0</text>
<line x1="78.80" y1="316.35" x2="85.65" y2="316.35" stroke="#000" stroke-width="1.6" />
<text x="76.8" y="320.8" font-size="12.4" text-anchor="end" font-weight="bold" fill="#000" >0.5</text>
<line x1="78.80" y1="344.90" x2="85.65" y2="344.90" stroke="#000" stroke-width="1.6" />
<text x="76.8" y="349.3" font-size="12.4" text-anchor="end" font-weight="bold" fill="#000" >0.0</text>
<line x1="78.80" y1="373.45" x2="85.65" y2="373.45" stroke="#000" stroke-width="1.6" />
<text x="76.8" y="377.8" font-size="12.4" text-anchor="end" font-weight="bold" fill="#000" >-0.5</text>
<line x1="78.80" y1="401.95" x2="85.65" y2="401.95" stroke="#000" stroke-width="1.6" />
<text x="76.8" y="406.3" font-size="12.4" text-anchor="end" font-weight="bold" fill="#000" >-1.0</text>
<line x1="105.40" y1="401.95" x2="105.40" y2="408.60" stroke="#000" stroke-width="1.6" />
<line x1="135.60" y1="401.95" x2="135.60" y2="408.60" stroke="#000" stroke-width="1.6" />
<text x="0" y="0" font-size="13.4" font-weight="bold" text-anchor="middle" transform="translate(49.2,344.7) rotate(-90)">MitoS Score (GSVA)</text>
<line x1="89.50" y1="344.80" x2="155.00" y2="344.80" stroke="#000" stroke-width="1.5" stroke-dasharray="2 2.6"/>
<path d="M104.9 293.5 V282.4 H135.6 V293.5" stroke="#000" stroke-width="1.5" fill="none" />
<text x="120.6" y="277.8" font-size="15" text-anchor="middle" font-weight="bold" fill="#000" >*</text>
<circle cx="105.4" cy="303.9" r="1.75" fill="#3a58a8" stroke="#161c30" stroke-width="0.6"/>
<circle cx="105.4" cy="318.2" r="1.75" fill="#3a58a8" stroke="#161c30" stroke-width="0.6"/>
<circle cx="102.2" cy="326.5" r="1.75" fill="#3a58a8" stroke="#161c30" stroke-width="0.6"/>
<circle cx="108.9" cy="327.1" r="1.75" fill="#3a58a8" stroke="#161c30" stroke-width="0.6"/>
<circle cx="105.4" cy="349.0" r="1.75" fill="#3a58a8" stroke="#161c30" stroke-width="0.6"/>
<circle cx="112.1" cy="347.2" r="1.75" fill="#3a58a8" stroke="#161c30" stroke-width="0.6"/>
<circle cx="105.4" cy="356.1" r="1.75" fill="#3a58a8" stroke="#161c30" stroke-width="0.6"/>
<circle cx="99.0" cy="366.8" r="1.75" fill="#3a58a8" stroke="#161c30" stroke-width="0.6"/>
<circle cx="99.0" cy="370.8" r="1.75" fill="#3a58a8" stroke="#161c30" stroke-width="0.6"/>
<circle cx="112.1" cy="370.0" r="1.75" fill="#3a58a8" stroke="#161c30" stroke-width="0.6"/>
<circle cx="112.1" cy="373.2" r="1.75" fill="#3a58a8" stroke="#161c30" stroke-width="0.6"/>
<circle cx="99.0" cy="376.3" r="1.75" fill="#3a58a8" stroke="#161c30" stroke-width="0.6"/>
<circle cx="112.1" cy="376.8" r="1.75" fill="#3a58a8" stroke="#161c30" stroke-width="0.6"/>
<circle cx="105.4" cy="379.2" r="1.75" fill="#3a58a8" stroke="#161c30" stroke-width="0.6"/>
<circle cx="108.9" cy="388.6" r="1.75" fill="#3a58a8" stroke="#161c30" stroke-width="0.6"/>
<circle cx="102.2" cy="390.7" r="1.75" fill="#3a58a8" stroke="#161c30" stroke-width="0.6"/>
<circle cx="132.5" cy="301.0" r="1.75" fill="#e8222c" stroke="#5a1010" stroke-width="0.5"/>
<circle cx="132.5" cy="306.1" r="1.75" fill="#e8222c" stroke="#5a1010" stroke-width="0.5"/>
<circle cx="139.1" cy="303.9" r="1.75" fill="#e8222c" stroke="#5a1010" stroke-width="0.5"/>
<circle cx="132.5" cy="310.3" r="1.75" fill="#e8222c" stroke="#5a1010" stroke-width="0.5"/>
<circle cx="139.1" cy="309.6" r="1.75" fill="#e8222c" stroke="#5a1010" stroke-width="0.5"/>
<circle cx="135.6" cy="317.9" r="1.75" fill="#e8222c" stroke="#5a1010" stroke-width="0.5"/>
<circle cx="135.6" cy="340.2" r="1.75" fill="#e8222c" stroke="#5a1010" stroke-width="0.5"/>
<circle cx="132.5" cy="350.1" r="1.75" fill="#e8222c" stroke="#5a1010" stroke-width="0.5"/>
<circle cx="139.1" cy="353.6" r="1.75" fill="#e8222c" stroke="#5a1010" stroke-width="0.5"/>
<circle cx="132.5" cy="354.8" r="1.75" fill="#e8222c" stroke="#5a1010" stroke-width="0.5"/>
<circle cx="139.1" cy="357.5" r="1.75" fill="#e8222c" stroke="#5a1010" stroke-width="0.5"/>
<circle cx="135.6" cy="361.2" r="1.75" fill="#e8222c" stroke="#5a1010" stroke-width="0.5"/>
<circle cx="135.6" cy="369.2" r="1.75" fill="#e8222c" stroke="#5a1010" stroke-width="0.5"/>
<circle cx="135.6" cy="381.3" r="1.75" fill="#e8222c" stroke="#5a1010" stroke-width="0.5"/>
<line x1="95.80" y1="357.70" x2="115.60" y2="357.70" stroke="#000" stroke-width="1.8" />
<line x1="100.60" y1="343.70" x2="110.50" y2="343.70" stroke="#000" stroke-width="1.8" />
<line x1="100.60" y1="371.60" x2="110.50" y2="371.60" stroke="#000" stroke-width="1.8" />
<line x1="105.40" y1="343.70" x2="105.40" y2="371.60" stroke="#000" stroke-width="1.8" />
<line x1="126.10" y1="336.40" x2="145.50" y2="336.40" stroke="#000" stroke-width="1.8" />
<line x1="130.40" y1="322.70" x2="140.70" y2="322.70" stroke="#000" stroke-width="1.8" />
<line x1="130.40" y1="350.10" x2="140.70" y2="350.10" stroke="#000" stroke-width="1.8" />
<line x1="135.60" y1="322.70" x2="135.60" y2="350.10" stroke="#000" stroke-width="1.8" />
<text x="0" y="0" font-size="12.3" font-weight="bold" text-anchor="end" transform="translate(109.6,419.2) rotate(-45)">Benign</text>
<text x="0" y="0" font-size="12.3" font-weight="bold" text-anchor="end" transform="translate(140.8,419.1) rotate(-45)">Malignant</text>
<text x="186.2" y="262.1" font-size="22" text-anchor="start" fill="#000" >d</text>
<text x="296.3" y="278.5" font-size="13.5" text-anchor="middle" font-weight="bold" fill="#000" >Localised Tumours</text>
<rect x="232.00" y="286.90" width="124.30" height="116.30" fill="none" stroke="#000" stroke-width="1.7" />
<line x1="225.10" y1="286.90" x2="232.00" y2="286.90" stroke="#000" stroke-width="1.6" />
<text x="223.4" y="291.3" font-size="12.3" text-anchor="end" font-weight="bold" fill="#000" >1.0</text>
<line x1="225.10" y1="315.98" x2="232.00" y2="315.98" stroke="#000" stroke-width="1.6" />
<text x="223.4" y="320.4" font-size="12.3" text-anchor="end" font-weight="bold" fill="#000" >0.5</text>
<line x1="225.10" y1="345.05" x2="232.00" y2="345.05" stroke="#000" stroke-width="1.6" />
<text x="223.4" y="349.4" font-size="12.3" text-anchor="end" font-weight="bold" fill="#000" >0.0</text>
<line x1="225.10" y1="374.13" x2="232.00" y2="374.13" stroke="#000" stroke-width="1.6" />
<text x="223.4" y="378.5" font-size="12.3" text-anchor="end" font-weight="bold" fill="#000" >-0.5</text>
<line x1="225.10" y1="403.20" x2="232.00" y2="403.20" stroke="#000" stroke-width="1.6" />
<text x="223.4" y="407.6" font-size="12.3" text-anchor="end" font-weight="bold" fill="#000" >-1.0</text>
<line x1="232.00" y1="403.20" x2="232.00" y2="409.80" stroke="#000" stroke-width="1.6" />
<text x="232.0" y="423.9" font-size="12" text-anchor="middle" font-weight="bold" fill="#000" >-1.0</text>
<line x1="263.10" y1="403.20" x2="263.10" y2="409.80" stroke="#000" stroke-width="1.6" />
<text x="263.1" y="423.9" font-size="12" text-anchor="middle" font-weight="bold" fill="#000" >-0.5</text>
<line x1="294.15" y1="403.20" x2="294.15" y2="409.80" stroke="#000" stroke-width="1.6" />
<text x="294.1" y="423.9" font-size="12" text-anchor="middle" font-weight="bold" fill="#000" >0.0</text>
<line x1="325.20" y1="403.20" x2="325.20" y2="409.80" stroke="#000" stroke-width="1.6" />
<text x="325.2" y="423.9" font-size="12" text-anchor="middle" font-weight="bold" fill="#000" >0.5</text>
<line x1="356.30" y1="403.20" x2="356.30" y2="409.80" stroke="#000" stroke-width="1.6" />
<text x="356.3" y="423.9" font-size="12" text-anchor="middle" font-weight="bold" fill="#000" >1.0</text>
<text x="0" y="0" font-size="13.6" font-weight="bold" text-anchor="middle" transform="translate(194.4,344.3) rotate(-90)">ARPC Score</text>
<text x="294.0" y="441.9" font-size="13.6" text-anchor="middle" font-weight="bold" fill="#000" >MitoS Score</text>
<text x="238.6" y="302.9" font-size="13.5">R<tspan font-size="8.5" dy="-5">2</tspan><tspan dy="5">=0.65</tspan></text>
<text x="238.6" y="317.8" font-size="13.5" text-anchor="start" fill="#000" >p=0.0002</text>
<line x1="254.60" y1="366.40" x2="341.50" y2="316.80" stroke="#000" stroke-width="2.2" stroke-dasharray="6 3.6"/>
<circle cx="323.5" cy="304.9" r="2.5" fill="#e5414a" stroke="#222" stroke-width="0.7"/>
<circle cx="318.2" cy="317.8" r="2.5" fill="#e5414a" stroke="#222" stroke-width="0.7"/>
<circle cx="331.3" cy="312.3" r="2.5" fill="#e5414a" stroke="#222" stroke-width="0.7"/>
<circle cx="338.8" cy="312.1" r="2.5" fill="#e5414a" stroke="#222" stroke-width="0.7"/>
<circle cx="336.0" cy="322.3" r="2.5" fill="#e5414a" stroke="#222" stroke-width="0.7"/>
<circle cx="341.1" cy="330.5" r="2.5" fill="#e5414a" stroke="#222" stroke-width="0.7"/>
<circle cx="332.1" cy="347.4" r="2.5" fill="#e5414a" stroke="#222" stroke-width="0.7"/>
<circle cx="299.6" cy="338.5" r="2.5" fill="#e5414a" stroke="#222" stroke-width="0.7"/>
<circle cx="296.1" cy="344.0" r="2.5" fill="#e5414a" stroke="#222" stroke-width="0.7"/>
<circle cx="280.6" cy="341.7" r="2.5" fill="#e5414a" stroke="#222" stroke-width="0.7"/>
<circle cx="276.7" cy="343.8" r="2.5" fill="#e5414a" stroke="#222" stroke-width="0.7"/>
<circle cx="284.9" cy="345.8" r="2.5" fill="#e5414a" stroke="#222" stroke-width="0.7"/>
<circle cx="267.9" cy="353.8" r="2.5" fill="#e5414a" stroke="#222" stroke-width="0.7"/>
<circle cx="288.4" cy="354.4" r="2.5" fill="#e5414a" stroke="#222" stroke-width="0.7"/>
<circle cx="283.2" cy="356.6" r="2.5" fill="#e5414a" stroke="#222" stroke-width="0.7"/>
<circle cx="254.6" cy="383.0" r="2.5" fill="#e5414a" stroke="#222" stroke-width="0.7"/>
<text x="392.6" y="263.8" font-size="22" text-anchor="start" fill="#000" >e</text>
<text x="447.8" y="271.7" font-size="11.6" text-anchor="middle" fill="#222">log<tspan font-size="7.5" dy="1.2">2</tspan><tspan dy="-1.2">(FC)</tspan></text>
<rect x="417.90" y="277.20" width="56.90" height="6.60" fill="url(#gFC)" />
<text x="483.5" y="268.5" font-size="15.2" text-anchor="start" fill="#111" >LNCaP Days on Enz.</text>
<text x="503.2" y="283.8" font-size="11.5" text-anchor="middle" fill="#111" >0</text>
<text x="540.9" y="283.8" font-size="11.5" text-anchor="middle" fill="#111" >7</text>
<text x="578.3" y="283.8" font-size="11.5" text-anchor="middle" fill="#111" >14</text>
<text x="616.0" y="283.8" font-size="11.5" text-anchor="middle" fill="#111" >21</text>
<polygon points="482.7,297 635,283.6 635,297" fill="url(#gWedge)" stroke="#222" stroke-width="1.2"/>
<rect x="482.70" y="299.50" width="38.90" height="16.79" fill="#f2f2f2" />
<text x="502.1" y="311.1" font-size="9" text-anchor="middle" fill="#333" >1</text>
<rect x="521.60" y="299.50" width="37.70" height="16.79" fill="#cb6e5b" />
<text x="540.5" y="311.1" font-size="9" text-anchor="middle" fill="#fff" >1.8</text>
<rect x="559.30" y="299.50" width="38.30" height="16.79" fill="#cf7e6c" />
<text x="578.5" y="311.1" font-size="9" text-anchor="middle" fill="#fff" >1.7</text>
<rect x="597.60" y="299.50" width="37.40" height="16.79" fill="#c95842" />
<text x="616.3" y="311.1" font-size="9" text-anchor="middle" fill="#fff" >2</text>
<line x1="635.00" y1="307.89" x2="639.00" y2="307.89" stroke="#333" stroke-width="1" />
<text x="640.6" y="310.8" font-size="8.2" text-anchor="start" fill="#333" >HIBCH</text>
<rect x="482.70" y="316.29" width="38.90" height="16.79" fill="#f2f2f2" />
<text x="502.1" y="327.9" font-size="9" text-anchor="middle" fill="#333" >1</text>
<rect x="521.60" y="316.29" width="37.70" height="16.79" fill="#c84730" />
<text x="540.5" y="327.9" font-size="9" text-anchor="middle" fill="#fff" >2.5</text>
<rect x="559.30" y="316.29" width="38.30" height="16.79" fill="#c7452e" />
<text x="578.5" y="327.9" font-size="9" text-anchor="middle" fill="#fff" >2.8</text>
<rect x="597.60" y="316.29" width="37.40" height="16.79" fill="#c6442d" />
<text x="616.3" y="327.9" font-size="9" text-anchor="middle" fill="#fff" >3</text>
<line x1="635.00" y1="324.68" x2="639.00" y2="324.68" stroke="#333" stroke-width="1" />
<text x="640.6" y="327.6" font-size="8.2" text-anchor="start" fill="#333" >HIBADH</text>
<rect x="482.70" y="333.07" width="38.90" height="16.79" fill="#f2f2f2" />
<text x="502.1" y="344.7" font-size="9" text-anchor="middle" fill="#333" >1</text>
<rect x="521.60" y="333.07" width="37.70" height="16.79" fill="#dcac9e" />
<text x="540.5" y="344.7" font-size="9" text-anchor="middle" fill="#444" >1.5</text>
<rect x="559.30" y="333.07" width="38.30" height="16.79" fill="#cb6e5b" />
<text x="578.5" y="344.7" font-size="9" text-anchor="middle" fill="#fff" >1.8</text>
<rect x="597.60" y="333.07" width="37.40" height="16.79" fill="#c9644f" />
<text x="616.3" y="344.7" font-size="9" text-anchor="middle" fill="#fff" >1.9</text>
<line x1="635.00" y1="341.47" x2="639.00" y2="341.47" stroke="#333" stroke-width="1" />
<text x="640.6" y="344.4" font-size="8.2" text-anchor="start" fill="#333" >ALDH6A1</text>
<rect x="482.70" y="349.86" width="38.90" height="16.79" fill="#f2f2f2" />
<text x="502.1" y="361.5" font-size="9" text-anchor="middle" fill="#333" >1</text>
<rect x="521.60" y="349.86" width="37.70" height="16.79" fill="#e8cfc8" />
<text x="540.5" y="361.5" font-size="9" text-anchor="middle" fill="#444" >1.3</text>
<rect x="559.30" y="349.86" width="38.30" height="16.79" fill="#c94e37" />
<text x="578.5" y="361.5" font-size="9" text-anchor="middle" fill="#fff" >2.2</text>
<rect x="597.60" y="349.86" width="37.40" height="16.79" fill="#c9533c" />
<text x="616.3" y="361.5" font-size="9" text-anchor="middle" fill="#fff" >2.1</text>
<line x1="635.00" y1="358.26" x2="639.00" y2="358.26" stroke="#333" stroke-width="1" />
<text x="640.6" y="361.2" font-size="8.2" text-anchor="start" fill="#333" >PCCB</text>
<rect x="482.70" y="366.65" width="38.90" height="16.79" fill="#f2f2f2" />
<text x="502.1" y="378.2" font-size="9" text-anchor="middle" fill="#333" >1</text>
<rect x="521.60" y="366.65" width="37.70" height="16.79" fill="#e8cfc8" />
<text x="540.5" y="378.2" font-size="9" text-anchor="middle" fill="#444" >1.3</text>
<rect x="559.30" y="366.65" width="38.30" height="16.79" fill="#d69382" />
<text x="578.5" y="378.2" font-size="9" text-anchor="middle" fill="#fff" >1.6</text>
<rect x="597.60" y="366.65" width="37.40" height="16.79" fill="#cb6e5b" />
<text x="616.3" y="378.2" font-size="9" text-anchor="middle" fill="#fff" >1.8</text>
<line x1="635.00" y1="375.04" x2="639.00" y2="375.04" stroke="#333" stroke-width="1" />
<text x="640.6" y="377.9" font-size="8.2" text-anchor="start" fill="#333" >PCCA</text>
<rect x="482.70" y="383.44" width="38.90" height="16.79" fill="#f2f2f2" />
<text x="502.1" y="395.0" font-size="9" text-anchor="middle" fill="#333" >1</text>
<rect x="521.60" y="383.44" width="37.70" height="16.79" fill="#e8cfc8" />
<text x="540.5" y="395.0" font-size="9" text-anchor="middle" fill="#444" >1.3</text>
<rect x="559.30" y="383.44" width="38.30" height="16.79" fill="#cf7e6c" />
<text x="578.5" y="395.0" font-size="9" text-anchor="middle" fill="#fff" >1.7</text>
<rect x="597.60" y="383.44" width="37.40" height="16.79" fill="#cb6e5b" />
<text x="616.3" y="395.0" font-size="9" text-anchor="middle" fill="#fff" >1.8</text>
<line x1="635.00" y1="391.83" x2="639.00" y2="391.83" stroke="#333" stroke-width="1" />
<text x="640.6" y="394.7" font-size="8.2" text-anchor="start" fill="#333" >MCEE</text>
<rect x="482.70" y="400.23" width="38.90" height="16.79" fill="#f2f2f2" />
<text x="502.1" y="411.8" font-size="9" text-anchor="middle" fill="#333" >1</text>
<rect x="521.60" y="400.23" width="37.70" height="16.79" fill="#c7462f" />
<text x="540.5" y="411.8" font-size="9" text-anchor="middle" fill="#fff" >2.6</text>
<rect x="559.30" y="400.23" width="38.30" height="16.79" fill="#c6442d" />
<text x="578.5" y="411.8" font-size="9" text-anchor="middle" fill="#fff" >3</text>
<rect x="597.60" y="400.23" width="37.40" height="16.79" fill="#c6432c" />
<text x="616.3" y="411.8" font-size="9" text-anchor="middle" fill="#fff" >3.2</text>
<line x1="635.00" y1="408.62" x2="639.00" y2="408.62" stroke="#333" stroke-width="1" />
<text x="640.6" y="411.5" font-size="8.2" text-anchor="start" fill="#333" >MUT</text>
<rect x="482.70" y="417.01" width="38.90" height="16.79" fill="#f2f2f2" />
<text x="502.1" y="428.6" font-size="9" text-anchor="middle" fill="#333" >1</text>
<rect x="521.60" y="417.01" width="37.70" height="16.79" fill="#cf7e6c" />
<text x="540.5" y="428.6" font-size="9" text-anchor="middle" fill="#fff" >1.7</text>
<rect x="559.30" y="417.01" width="38.30" height="16.79" fill="#cf7e6c" />
<text x="578.5" y="428.6" font-size="9" text-anchor="middle" fill="#fff" >1.7</text>
<rect x="597.60" y="417.01" width="37.40" height="16.79" fill="#dcac9e" />
<text x="616.3" y="428.6" font-size="9" text-anchor="middle" fill="#444" >1.5</text>
<line x1="635.00" y1="425.41" x2="639.00" y2="425.41" stroke="#333" stroke-width="1" />
<text x="640.6" y="428.3" font-size="8.2" text-anchor="start" fill="#333" >SUCLG2</text>
<line x1="482.70" y1="316.29" x2="635.00" y2="316.29" stroke="#333" stroke-width="0.9" />
<line x1="482.70" y1="333.07" x2="635.00" y2="333.07" stroke="#333" stroke-width="0.9" />
<line x1="482.70" y1="349.86" x2="635.00" y2="349.86" stroke="#333" stroke-width="0.9" />
<line x1="482.70" y1="366.65" x2="635.00" y2="366.65" stroke="#333" stroke-width="0.9" />
<line x1="482.70" y1="383.44" x2="635.00" y2="383.44" stroke="#333" stroke-width="0.9" />
<line x1="482.70" y1="400.23" x2="635.00" y2="400.23" stroke="#333" stroke-width="0.9" />
<line x1="482.70" y1="417.01" x2="635.00" y2="417.01" stroke="#333" stroke-width="0.9" />
<line x1="521.60" y1="299.50" x2="521.60" y2="433.80" stroke="#333" stroke-width="0.9" />
<line x1="559.30" y1="299.50" x2="559.30" y2="433.80" stroke="#333" stroke-width="0.9" />
<line x1="597.60" y1="299.50" x2="597.60" y2="433.80" stroke="#333" stroke-width="0.9" />
<rect x="482.70" y="299.50" width="152.30" height="134.30" fill="none" stroke="#222" stroke-width="1.8" />
<text x="440.9" y="309.2" font-size="7.2" text-anchor="middle" fill="#222" >3HIB-CoA</text>
<text x="413.0" y="320.6" font-size="7.8" text-anchor="start" fill="#222" >OH</text>
<path d="M416.3 321.8 V330.4 L427.6 336.5 L438.2 330.4 L446.2 335.0 M451.6 333.6 L457.3 330.4" stroke="#222" stroke-width="0.8" fill="none" />
<path d="M437.4 330.2 V322.3 M439.0 330.2 V322.3" stroke="#222" stroke-width="0.7" fill="none" />
<text x="438.6" y="321.6" font-size="7.8" text-anchor="middle" fill="#222" >O</text>
<text x="449.0" y="339.9" font-size="7.8" text-anchor="middle" fill="#222" >S</text>
<text x="457.7" y="333.2" font-size="7.8" text-anchor="start" fill="#222" >CoA</text>
<polygon points="427.6,336.5 426.1,346.3 429.1,346.3" fill="#222"/>
<text x="424.2" y="352.2" font-size="7.8" fill="#222">CH<tspan font-size="5.5" dy="1.5">3</tspan></text>
<line x1="442.30" y1="362.00" x2="442.30" y2="394.00" stroke="#222" stroke-width="0.8" />
<polygon points="440.6,393 444,393 442.3,396.8" fill="#222"/>
<text x="442.0" y="404.5" font-size="8.6" text-anchor="middle" fill="#222" >Succinate</text>
<text x="417.0" y="423.0" font-size="5.5" text-anchor="start" fill="#222" >HO</text>
<path d="M424 422 L430.7 425.9 L439.6 420.6 L448.5 425.9 L456.8 420.6 L463 424" stroke="#222" stroke-width="0.8" fill="none" />
<path d="M430 426 L430 432 M431.6 426 L431.6 432" stroke="#222" stroke-width="0.7" fill="none" />
<path d="M456 420.6 L456 414 M457.6 420.6 L457.6 414" stroke="#222" stroke-width="0.7" fill="none" />
<text x="430.8" y="437.3" font-size="5.5" text-anchor="middle" fill="#222" >O</text>
<text x="456.8" y="413.2" font-size="5.5" text-anchor="middle" fill="#222" >O</text>
<text x="463.5" y="427.0" font-size="5.5" text-anchor="start" fill="#222" >OH</text>
<text x="10.7" y="460.5" font-size="22" text-anchor="start" fill="#000" >f</text>
<text x="24.3" y="491.1" font-size="14.85" text-anchor="start" font-weight="bold" fill="#000" >Metastatic CRPC Tumours</text>
<text x="232.8" y="479.2" font-size="10.6" text-anchor="start" font-weight="bold" fill="#000" >Expression (Z Score)</text>
<rect x="236.50" y="482.10" width="100.40" height="11.70" fill="url(#gEXPf)" stroke="#222" stroke-width="0.8" />
<text x="233.6" y="493.0" font-size="11" text-anchor="end" fill="#000" >-2</text>
<text x="339.4" y="493.0" font-size="11" text-anchor="start" fill="#000" >2</text>
<text x="439.5" y="475.0" font-size="11.8" text-anchor="start" fill="#111" >Molecular Subtype</text>
<rect x="358.80" y="482.40" width="10.90" height="10.40" fill="#58b25a" stroke="#222" stroke-width="0.8" />
<text x="374.1" y="491.6" font-size="11" text-anchor="start" fill="#111" >ARPC</text>
<rect x="411.70" y="482.40" width="10.90" height="10.40" fill="#f0922e" stroke="#222" stroke-width="0.8" />
<text x="427.0" y="491.6" font-size="11" text-anchor="start" fill="#111" >ARLPC</text>
<rect x="469.90" y="482.40" width="10.90" height="10.40" fill="#9b59b6" stroke="#222" stroke-width="0.8" />
<text x="485.2" y="491.6" font-size="11" text-anchor="start" fill="#111" >NEPC</text>
<rect x="524.00" y="482.40" width="10.90" height="10.40" fill="#4a6bc1" stroke="#222" stroke-width="0.8" />
<text x="539.3" y="491.6" font-size="11" text-anchor="start" fill="#111" >AMPC</text>
<rect x="578.00" y="482.40" width="10.90" height="10.40" fill="#e0253f" stroke="#222" stroke-width="0.8" />
<text x="593.3" y="491.6" font-size="11" text-anchor="start" fill="#111" >DNPC</text>
<rect x="22.20" y="528.00" width="6.34" height="8.70" fill="#4a6bc1" />
<rect x="28.54" y="528.00" width="6.34" height="8.70" fill="#9b59b6" />
<rect x="34.88" y="528.00" width="6.34" height="8.70" fill="#3f9b4b" />
<rect x="41.23" y="528.00" width="6.34" height="8.70" fill="#9b59b6" />
<rect x="47.57" y="528.00" width="6.34" height="8.70" fill="#9b59b6" />
<rect x="53.91" y="528.00" width="6.34" height="8.70" fill="#3f9b4b" />
<rect x="60.25" y="528.00" width="6.34" height="8.70" fill="#3f9b4b" />
<rect x="66.59" y="528.00" width="6.34" height="8.70" fill="#3f9b4b" />
<rect x="72.94" y="528.00" width="6.34" height="8.70" fill="#3f9b4b" />
<rect x="79.28" y="528.00" width="6.34" height="8.70" fill="#3f9b4b" />
<rect x="85.62" y="528.00" width="6.34" height="8.70" fill="#3f9b4b" />
<rect x="91.96" y="528.00" width="6.34" height="8.70" fill="#3f9b4b" />
<rect x="98.30" y="528.00" width="6.34" height="8.70" fill="#e0253f" />
<rect x="104.65" y="528.00" width="6.34" height="8.70" fill="#3f9b4b" />
<rect x="110.99" y="528.00" width="6.34" height="8.70" fill="#3f9b4b" />
<rect x="117.33" y="528.00" width="6.34" height="8.70" fill="#3f9b4b" />
<rect x="123.67" y="528.00" width="6.34" height="8.70" fill="#3f9b4b" />
<rect x="130.01" y="528.00" width="6.34" height="8.70" fill="#3f9b4b" />
<rect x="136.36" y="528.00" width="6.34" height="8.70" fill="#f0922e" />
<rect x="142.70" y="528.00" width="6.34" height="8.70" fill="#3f9b4b" />
<rect x="149.04" y="528.00" width="6.34" height="8.70" fill="#3f9b4b" />
<rect x="155.38" y="528.00" width="6.34" height="8.70" fill="#e0253f" />
<rect x="161.72" y="528.00" width="6.34" height="8.70" fill="#9b59b6" />
<rect x="168.07" y="528.00" width="6.34" height="8.70" fill="#f0922e" />
<rect x="174.41" y="528.00" width="6.34" height="8.70" fill="#4a6bc1" />
<rect x="180.75" y="528.00" width="6.34" height="8.70" fill="#3f9b4b" />
<rect x="187.09" y="528.00" width="6.34" height="8.70" fill="#e0253f" />
<rect x="193.43" y="528.00" width="6.34" height="8.70" fill="#e0253f" />
<rect x="199.78" y="528.00" width="6.34" height="8.70" fill="#e0253f" />
<rect x="206.12" y="528.00" width="6.34" height="8.70" fill="#3f9b4b" />
<rect x="212.46" y="528.00" width="6.34" height="8.70" fill="#3f9b4b" />
<rect x="218.80" y="528.00" width="6.34" height="8.70" fill="#f0922e" />
<rect x="225.14" y="528.00" width="6.34" height="8.70" fill="#9b59b6" />
<rect x="231.49" y="528.00" width="6.34" height="8.70" fill="#4a6bc1" />
<rect x="237.83" y="528.00" width="6.34" height="8.70" fill="#4a6bc1" />
<rect x="244.17" y="528.00" width="6.34" height="8.70" fill="#3f9b4b" />
<rect x="250.51" y="528.00" width="6.34" height="8.70" fill="#4a6bc1" />
<rect x="256.85" y="528.00" width="6.34" height="8.70" fill="#3f9b4b" />
<rect x="263.20" y="528.00" width="6.34" height="8.70" fill="#4a6bc1" />
<rect x="269.54" y="528.00" width="6.34" height="8.70" fill="#f0922e" />
<rect x="275.88" y="528.00" width="6.34" height="8.70" fill="#3f9b4b" />
<rect x="282.22" y="528.00" width="6.34" height="8.70" fill="#3f9b4b" />
<rect x="288.56" y="528.00" width="6.34" height="8.70" fill="#3f9b4b" />
<rect x="294.91" y="528.00" width="6.34" height="8.70" fill="#3f9b4b" />
<rect x="301.25" y="528.00" width="6.34" height="8.70" fill="#3f9b4b" />
<rect x="307.59" y="528.00" width="6.34" height="8.70" fill="#3f9b4b" />
<rect x="313.93" y="528.00" width="6.34" height="8.70" fill="#3f9b4b" />
<rect x="320.27" y="528.00" width="6.34" height="8.70" fill="#4a6bc1" />
<rect x="326.62" y="528.00" width="6.34" height="8.70" fill="#4a6bc1" />
<rect x="332.96" y="528.00" width="6.34" height="8.70" fill="#3f9b4b" />
<rect x="339.30" y="528.00" width="6.34" height="8.70" fill="#3f9b4b" />
<rect x="345.64" y="528.00" width="6.34" height="8.70" fill="#3f9b4b" />
<rect x="351.98" y="528.00" width="6.34" height="8.70" fill="#3f9b4b" />
<rect x="358.33" y="528.00" width="6.34" height="8.70" fill="#e0253f" />
<rect x="364.67" y="528.00" width="6.34" height="8.70" fill="#3f9b4b" />
<rect x="371.01" y="528.00" width="6.34" height="8.70" fill="#3f9b4b" />
<rect x="377.35" y="528.00" width="6.34" height="8.70" fill="#3f9b4b" />
<rect x="383.69" y="528.00" width="6.34" height="8.70" fill="#9b59b6" />
<rect x="390.04" y="528.00" width="6.34" height="8.70" fill="#9b59b6" />
<rect x="396.38" y="528.00" width="6.34" height="8.70" fill="#3f9b4b" />
<rect x="402.72" y="528.00" width="6.34" height="8.70" fill="#3f9b4b" />
<rect x="409.06" y="528.00" width="6.34" height="8.70" fill="#3f9b4b" />
<rect x="415.40" y="528.00" width="6.34" height="8.70" fill="#3f9b4b" />
<rect x="421.75" y="528.00" width="6.34" height="8.70" fill="#3f9b4b" />
<rect x="428.09" y="528.00" width="6.34" height="8.70" fill="#3f9b4b" />
<rect x="434.43" y="528.00" width="6.34" height="8.70" fill="#3f9b4b" />
<rect x="440.77" y="528.00" width="6.34" height="8.70" fill="#3f9b4b" />
<rect x="447.11" y="528.00" width="6.34" height="8.70" fill="#3f9b4b" />
<rect x="453.46" y="528.00" width="6.34" height="8.70" fill="#f0922e" />
<rect x="459.80" y="528.00" width="6.34" height="8.70" fill="#9b59b6" />
<rect x="466.14" y="528.00" width="6.34" height="8.70" fill="#e0253f" />
<rect x="472.48" y="528.00" width="6.34" height="8.70" fill="#4a6bc1" />
<rect x="478.82" y="528.00" width="6.34" height="8.70" fill="#3f9b4b" />
<rect x="485.17" y="528.00" width="6.34" height="8.70" fill="#3f9b4b" />
<rect x="491.51" y="528.00" width="6.34" height="8.70" fill="#4a6bc1" />
<rect x="497.85" y="528.00" width="6.34" height="8.70" fill="#3f9b4b" />
<rect x="504.19" y="528.00" width="6.34" height="8.70" fill="#3f9b4b" />
<rect x="510.53" y="528.00" width="6.34" height="8.70" fill="#3f9b4b" />
<rect x="516.88" y="528.00" width="6.34" height="8.70" fill="#3f9b4b" />
<rect x="523.22" y="528.00" width="6.34" height="8.70" fill="#3f9b4b" />
<rect x="529.56" y="528.00" width="6.34" height="8.70" fill="#3f9b4b" />
<rect x="535.90" y="528.00" width="6.34" height="8.70" fill="#3f9b4b" />
<rect x="542.24" y="528.00" width="6.34" height="8.70" fill="#3f9b4b" />
<rect x="548.59" y="528.00" width="6.34" height="8.70" fill="#3f9b4b" />
<rect x="554.93" y="528.00" width="6.34" height="8.70" fill="#3f9b4b" />
<rect x="561.27" y="528.00" width="6.34" height="8.70" fill="#3f9b4b" />
<rect x="567.61" y="528.00" width="6.34" height="8.70" fill="#3f9b4b" />
<rect x="573.95" y="528.00" width="6.34" height="8.70" fill="#e0253f" />
<rect x="580.30" y="528.00" width="6.34" height="8.70" fill="#3f9b4b" />
<rect x="586.64" y="528.00" width="6.34" height="8.70" fill="#4a6bc1" />
<rect x="592.98" y="528.00" width="6.34" height="8.70" fill="#3f9b4b" />
<rect x="599.32" y="528.00" width="6.34" height="8.70" fill="#3f9b4b" />
<rect x="605.66" y="528.00" width="6.34" height="8.70" fill="#9b59b6" />
<rect x="612.01" y="528.00" width="6.34" height="8.70" fill="#9b59b6" />
<rect x="618.35" y="528.00" width="6.34" height="8.70" fill="#f0922e" />
<rect x="624.69" y="528.00" width="6.34" height="8.70" fill="#f0922e" />
<rect x="631.03" y="528.00" width="6.34" height="8.70" fill="#f0922e" />
<rect x="637.37" y="528.00" width="6.34" height="8.70" fill="#f0922e" />
<rect x="22.20" y="536.70" width="6.34" height="10.50" fill="#5064b8" />
<rect x="28.54" y="536.70" width="6.34" height="10.50" fill="#aec2e6" />
<rect x="34.88" y="536.70" width="6.34" height="10.50" fill="#f1bea3" />
<rect x="41.23" y="536.70" width="6.34" height="10.50" fill="#6a80c6" />
<rect x="47.57" y="536.70" width="6.34" height="10.50" fill="#d0dcf0" />
<rect x="53.91" y="536.70" width="6.34" height="10.50" fill="#efdacf" />
<rect x="60.25" y="536.70" width="6.34" height="10.50" fill="#f1bea3" />
<rect x="66.59" y="536.70" width="6.34" height="10.50" fill="#e47b63" />
<rect x="72.94" y="536.70" width="6.34" height="10.50" fill="#eb9a7c" />
<rect x="79.28" y="536.70" width="6.34" height="10.50" fill="#d0dcf0" />
<rect x="85.62" y="536.70" width="6.34" height="10.50" fill="#f1bea3" />
<rect x="91.96" y="536.70" width="6.34" height="10.50" fill="#f1bea3" />
<rect x="98.30" y="536.70" width="6.34" height="10.50" fill="#d65045" />
<rect x="104.65" y="536.70" width="6.34" height="10.50" fill="#e47b63" />
<rect x="110.99" y="536.70" width="6.34" height="10.50" fill="#efdacf" />
<rect x="117.33" y="536.70" width="6.34" height="10.50" fill="#efdacf" />
<rect x="123.67" y="536.70" width="6.34" height="10.50" fill="#d65045" />
<rect x="130.01" y="536.70" width="6.34" height="10.50" fill="#e47b63" />
<rect x="136.36" y="536.70" width="6.34" height="10.50" fill="#eb9a7c" />
<rect x="142.70" y="536.70" width="6.34" height="10.50" fill="#b82230" />
<rect x="149.04" y="536.70" width="6.34" height="10.50" fill="#e47b63" />
<rect x="155.38" y="536.70" width="6.34" height="10.50" fill="#aec2e6" />
<rect x="161.72" y="536.70" width="6.34" height="10.50" fill="#5064b8" />
<rect x="168.07" y="536.70" width="6.34" height="10.50" fill="#5064b8" />
<rect x="174.41" y="536.70" width="6.34" height="10.50" fill="#6a80c6" />
<rect x="180.75" y="536.70" width="6.34" height="10.50" fill="#d0dcf0" />
<rect x="187.09" y="536.70" width="6.34" height="10.50" fill="#efdacf" />
<rect x="193.43" y="536.70" width="6.34" height="10.50" fill="#d0dcf0" />
<rect x="199.78" y="536.70" width="6.34" height="10.50" fill="#eb9a7c" />
<rect x="206.12" y="536.70" width="6.34" height="10.50" fill="#aec2e6" />
<rect x="212.46" y="536.70" width="6.34" height="10.50" fill="#efdacf" />
<rect x="218.80" y="536.70" width="6.34" height="10.50" fill="#efdacf" />
<rect x="225.14" y="536.70" width="6.34" height="10.50" fill="#f1bea3" />
<rect x="231.49" y="536.70" width="6.34" height="10.50" fill="#d0dcf0" />
<rect x="237.83" y="536.70" width="6.34" height="10.50" fill="#efdacf" />
<rect x="244.17" y="536.70" width="6.34" height="10.50" fill="#e2e2e4" />
<rect x="250.51" y="536.70" width="6.34" height="10.50" fill="#d0dcf0" />
<rect x="256.85" y="536.70" width="6.34" height="10.50" fill="#aec2e6" />
<rect x="263.20" y="536.70" width="6.34" height="10.50" fill="#efdacf" />
<rect x="269.54" y="536.70" width="6.34" height="10.50" fill="#d0dcf0" />
<rect x="275.88" y="536.70" width="6.34" height="10.50" fill="#d0dcf0" />
<rect x="282.22" y="536.70" width="6.34" height="10.50" fill="#d0dcf0" />
<rect x="288.56" y="536.70" width="6.34" height="10.50" fill="#8aa2d8" />
<rect x="294.91" y="536.70" width="6.34" height="10.50" fill="#6a80c6" />
<rect x="301.25" y="536.70" width="6.34" height="10.50" fill="#6a80c6" />
<rect x="307.59" y="536.70" width="6.34" height="10.50" fill="#8aa2d8" />
<rect x="313.93" y="536.70" width="6.34" height="10.50" fill="#aec2e6" />
<rect x="320.27" y="536.70" width="6.34" height="10.50" fill="#e2e2e4" />
<rect x="326.62" y="536.70" width="6.34" height="10.50" fill="#aec2e6" />
<rect x="332.96" y="536.70" width="6.34" height="10.50" fill="#d0dcf0" />
<rect x="339.30" y="536.70" width="6.34" height="10.50" fill="#e2e2e4" />
<rect x="345.64" y="536.70" width="6.34" height="10.50" fill="#d0dcf0" />
<rect x="351.98" y="536.70" width="6.34" height="10.50" fill="#aec2e6" />
<rect x="358.33" y="536.70" width="6.34" height="10.50" fill="#d0dcf0" />
<rect x="364.67" y="536.70" width="6.34" height="10.50" fill="#efdacf" />
<rect x="371.01" y="536.70" width="6.34" height="10.50" fill="#efdacf" />
<rect x="377.35" y="536.70" width="6.34" height="10.50" fill="#8aa2d8" />
<rect x="383.69" y="536.70" width="6.34" height="10.50" fill="#d0dcf0" />
<rect x="390.04" y="536.70" width="6.34" height="10.50" fill="#aec2e6" />
<rect x="396.38" y="536.70" width="6.34" height="10.50" fill="#efdacf" />
<rect x="402.72" y="536.70" width="6.34" height="10.50" fill="#e2e2e4" />
<rect x="409.06" y="536.70" width="6.34" height="10.50" fill="#f1bea3" />
<rect x="415.40" y="536.70" width="6.34" height="10.50" fill="#aec2e6" />
<rect x="421.75" y="536.70" width="6.34" height="10.50" fill="#d0dcf0" />
<rect x="428.09" y="536.70" width="6.34" height="10.50" fill="#efdacf" />
<rect x="434.43" y="536.70" width="6.34" height="10.50" fill="#b82230" />
<rect x="440.77" y="536.70" width="6.34" height="10.50" fill="#f1bea3" />
<rect x="447.11" y="536.70" width="6.34" height="10.50" fill="#eb9a7c" />
<rect x="453.46" y="536.70" width="6.34" height="10.50" fill="#f1bea3" />
<rect x="459.80" y="536.70" width="6.34" height="10.50" fill="#f1bea3" />
<rect x="466.14" y="536.70" width="6.34" height="10.50" fill="#eb9a7c" />
<rect x="472.48" y="536.70" width="6.34" height="10.50" fill="#f1bea3" />
<rect x="478.82" y="536.70" width="6.34" height="10.50" fill="#eb9a7c" />
<rect x="485.17" y="536.70" width="6.34" height="10.50" fill="#eb9a7c" />
<rect x="491.51" y="536.70" width="6.34" height="10.50" fill="#b82230" />
<rect x="497.85" y="536.70" width="6.34" height="10.50" fill="#d0dcf0" />
<rect x="504.19" y="536.70" width="6.34" height="10.50" fill="#e2e2e4" />
<rect x="510.53" y="536.70" width="6.34" height="10.50" fill="#e2e2e4" />
<rect x="516.88" y="536.70" width="6.34" height="10.50" fill="#eb9a7c" />
<rect x="523.22" y="536.70" width="6.34" height="10.50" fill="#e2e2e4" />
<rect x="529.56" y="536.70" width="6.34" height="10.50" fill="#efdacf" />
<rect x="535.90" y="536.70" width="6.34" height="10.50" fill="#eb9a7c" />
<rect x="542.24" y="536.70" width="6.34" height="10.50" fill="#e47b63" />
<rect x="548.59" y="536.70" width="6.34" height="10.50" fill="#d65045" />
<rect x="554.93" y="536.70" width="6.34" height="10.50" fill="#e47b63" />
<rect x="561.27" y="536.70" width="6.34" height="10.50" fill="#aec2e6" />
<rect x="567.61" y="536.70" width="6.34" height="10.50" fill="#e2e2e4" />
<rect x="573.95" y="536.70" width="6.34" height="10.50" fill="#efdacf" />
<rect x="580.30" y="536.70" width="6.34" height="10.50" fill="#f1bea3" />
<rect x="586.64" y="536.70" width="6.34" height="10.50" fill="#d0dcf0" />
<rect x="592.98" y="536.70" width="6.34" height="10.50" fill="#efdacf" />
<rect x="599.32" y="536.70" width="6.34" height="10.50" fill="#e2e2e4" />
<rect x="605.66" y="536.70" width="6.34" height="10.50" fill="#e2e2e4" />
<rect x="612.01" y="536.70" width="6.34" height="10.50" fill="#eb9a7c" />
<rect x="618.35" y="536.70" width="6.34" height="10.50" fill="#5064b8" />
<rect x="624.69" y="536.70" width="6.34" height="10.50" fill="#8aa2d8" />
<rect x="631.03" y="536.70" width="6.34" height="10.50" fill="#8aa2d8" />
<rect x="637.37" y="536.70" width="6.34" height="10.50" fill="#8aa2d8" />
<rect x="22.20" y="547.20" width="6.34" height="10.50" fill="#5064b8" />
<rect x="28.54" y="547.20" width="6.34" height="10.50" fill="#d0dcf0" />
<rect x="34.88" y="547.20" width="6.34" height="10.50" fill="#6a80c6" />
<rect x="41.23" y="547.20" width="6.34" height="10.50" fill="#aec2e6" />
<rect x="47.57" y="547.20" width="6.34" height="10.50" fill="#d0dcf0" />
<rect x="53.91" y="547.20" width="6.34" height="10.50" fill="#b82230" />
<rect x="60.25" y="547.20" width="6.34" height="10.50" fill="#b82230" />
<rect x="66.59" y="547.20" width="6.34" height="10.50" fill="#e47b63" />
<rect x="72.94" y="547.20" width="6.34" height="10.50" fill="#b82230" />
<rect x="79.28" y="547.20" width="6.34" height="10.50" fill="#d0dcf0" />
<rect x="85.62" y="547.20" width="6.34" height="10.50" fill="#f1bea3" />
<rect x="91.96" y="547.20" width="6.34" height="10.50" fill="#e2e2e4" />
<rect x="98.30" y="547.20" width="6.34" height="10.50" fill="#eb9a7c" />
<rect x="104.65" y="547.20" width="6.34" height="10.50" fill="#efdacf" />
<rect x="110.99" y="547.20" width="6.34" height="10.50" fill="#d0dcf0" />
<rect x="117.33" y="547.20" width="6.34" height="10.50" fill="#aec2e6" />
<rect x="123.67" y="547.20" width="6.34" height="10.50" fill="#f1bea3" />
<rect x="130.01" y="547.20" width="6.34" height="10.50" fill="#efdacf" />
<rect x="136.36" y="547.20" width="6.34" height="10.50" fill="#e47b63" />
<rect x="142.70" y="547.20" width="6.34" height="10.50" fill="#b82230" />
<rect x="149.04" y="547.20" width="6.34" height="10.50" fill="#b82230" />
<rect x="155.38" y="547.20" width="6.34" height="10.50" fill="#efdacf" />
<rect x="161.72" y="547.20" width="6.34" height="10.50" fill="#eb9a7c" />
<rect x="168.07" y="547.20" width="6.34" height="10.50" fill="#6a80c6" />
<rect x="174.41" y="547.20" width="6.34" height="10.50" fill="#aec2e6" />
<rect x="180.75" y="547.20" width="6.34" height="10.50" fill="#f1bea3" />
<rect x="187.09" y="547.20" width="6.34" height="10.50" fill="#efdacf" />
<rect x="193.43" y="547.20" width="6.34" height="10.50" fill="#e2e2e4" />
<rect x="199.78" y="547.20" width="6.34" height="10.50" fill="#e2e2e4" />
<rect x="206.12" y="547.20" width="6.34" height="10.50" fill="#f1bea3" />
<rect x="212.46" y="547.20" width="6.34" height="10.50" fill="#d65045" />
<rect x="218.80" y="547.20" width="6.34" height="10.50" fill="#d65045" />
<rect x="225.14" y="547.20" width="6.34" height="10.50" fill="#e47b63" />
<rect x="231.49" y="547.20" width="6.34" height="10.50" fill="#6a80c6" />
<rect x="237.83" y="547.20" width="6.34" height="10.50" fill="#8aa2d8" />
<rect x="244.17" y="547.20" width="6.34" height="10.50" fill="#6a80c6" />
<rect x="250.51" y="547.20" width="6.34" height="10.50" fill="#8aa2d8" />
<rect x="256.85" y="547.20" width="6.34" height="10.50" fill="#6a80c6" />
<rect x="263.20" y="547.20" width="6.34" height="10.50" fill="#8aa2d8" />
<rect x="269.54" y="547.20" width="6.34" height="10.50" fill="#aec2e6" />
<rect x="275.88" y="547.20" width="6.34" height="10.50" fill="#aec2e6" />
<rect x="282.22" y="547.20" width="6.34" height="10.50" fill="#d0dcf0" />
<rect x="288.56" y="547.20" width="6.34" height="10.50" fill="#efdacf" />
<rect x="294.91" y="547.20" width="6.34" height="10.50" fill="#d0dcf0" />
<rect x="301.25" y="547.20" width="6.34" height="10.50" fill="#aec2e6" />
<rect x="307.59" y="547.20" width="6.34" height="10.50" fill="#efdacf" />
<rect x="313.93" y="547.20" width="6.34" height="10.50" fill="#d0dcf0" />
<rect x="320.27" y="547.20" width="6.34" height="10.50" fill="#6a80c6" />
<rect x="326.62" y="547.20" width="6.34" height="10.50" fill="#aec2e6" />
<rect x="332.96" y="547.20" width="6.34" height="10.50" fill="#d0dcf0" />
<rect x="339.30" y="547.20" width="6.34" height="10.50" fill="#8aa2d8" />
<rect x="345.64" y="547.20" width="6.34" height="10.50" fill="#aec2e6" />
<rect x="351.98" y="547.20" width="6.34" height="10.50" fill="#6a80c6" />
<rect x="358.33" y="547.20" width="6.34" height="10.50" fill="#d0dcf0" />
<rect x="364.67" y="547.20" width="6.34" height="10.50" fill="#d0dcf0" />
<rect x="371.01" y="547.20" width="6.34" height="10.50" fill="#aec2e6" />
<rect x="377.35" y="547.20" width="6.34" height="10.50" fill="#d0dcf0" />
<rect x="383.69" y="547.20" width="6.34" height="10.50" fill="#d0dcf0" />
<rect x="390.04" y="547.20" width="6.34" height="10.50" fill="#f1bea3" />
<rect x="396.38" y="547.20" width="6.34" height="10.50" fill="#aec2e6" />
<rect x="402.72" y="547.20" width="6.34" height="10.50" fill="#e2e2e4" />
<rect x="409.06" y="547.20" width="6.34" height="10.50" fill="#d0dcf0" />
<rect x="415.40" y="547.20" width="6.34" height="10.50" fill="#8aa2d8" />
<rect x="421.75" y="547.20" width="6.34" height="10.50" fill="#6a80c6" />
<rect x="428.09" y="547.20" width="6.34" height="10.50" fill="#8aa2d8" />
<rect x="434.43" y="547.20" width="6.34" height="10.50" fill="#d65045" />
<rect x="440.77" y="547.20" width="6.34" height="10.50" fill="#b82230" />
<rect x="447.11" y="547.20" width="6.34" height="10.50" fill="#e47b63" />
<rect x="453.46" y="547.20" width="6.34" height="10.50" fill="#eb9a7c" />
<rect x="459.80" y="547.20" width="6.34" height="10.50" fill="#e47b63" />
<rect x="466.14" y="547.20" width="6.34" height="10.50" fill="#eb9a7c" />
<rect x="472.48" y="547.20" width="6.34" height="10.50" fill="#b82230" />
<rect x="478.82" y="547.20" width="6.34" height="10.50" fill="#efdacf" />
<rect x="485.17" y="547.20" width="6.34" height="10.50" fill="#e2e2e4" />
<rect x="491.51" y="547.20" width="6.34" height="10.50" fill="#efdacf" />
<rect x="497.85" y="547.20" width="6.34" height="10.50" fill="#efdacf" />
<rect x="504.19" y="547.20" width="6.34" height="10.50" fill="#aec2e6" />
<rect x="510.53" y="547.20" width="6.34" height="10.50" fill="#aec2e6" />
<rect x="516.88" y="547.20" width="6.34" height="10.50" fill="#d0dcf0" />
<rect x="523.22" y="547.20" width="6.34" height="10.50" fill="#d0dcf0" />
<rect x="529.56" y="547.20" width="6.34" height="10.50" fill="#efdacf" />
<rect x="535.90" y="547.20" width="6.34" height="10.50" fill="#f1bea3" />
<rect x="542.24" y="547.20" width="6.34" height="10.50" fill="#f1bea3" />
<rect x="548.59" y="547.20" width="6.34" height="10.50" fill="#d0dcf0" />
<rect x="554.93" y="547.20" width="6.34" height="10.50" fill="#d0dcf0" />
<rect x="561.27" y="547.20" width="6.34" height="10.50" fill="#aec2e6" />
<rect x="567.61" y="547.20" width="6.34" height="10.50" fill="#efdacf" />
<rect x="573.95" y="547.20" width="6.34" height="10.50" fill="#aec2e6" />
<rect x="580.30" y="547.20" width="6.34" height="10.50" fill="#e2e2e4" />
<rect x="586.64" y="547.20" width="6.34" height="10.50" fill="#8aa2d8" />
<rect x="592.98" y="547.20" width="6.34" height="10.50" fill="#f1bea3" />
<rect x="599.32" y="547.20" width="6.34" height="10.50" fill="#efdacf" />
<rect x="605.66" y="547.20" width="6.34" height="10.50" fill="#efdacf" />
<rect x="612.01" y="547.20" width="6.34" height="10.50" fill="#efdacf" />
<rect x="618.35" y="547.20" width="6.34" height="10.50" fill="#d0dcf0" />
<rect x="624.69" y="547.20" width="6.34" height="10.50" fill="#d0dcf0" />
<rect x="631.03" y="547.20" width="6.34" height="10.50" fill="#d0dcf0" />
<rect x="637.37" y="547.20" width="6.34" height="10.50" fill="#d0dcf0" />
<rect x="22.20" y="557.70" width="6.34" height="10.50" fill="#e47b63" />
<rect x="28.54" y="557.70" width="6.34" height="10.50" fill="#5064b8" />
<rect x="34.88" y="557.70" width="6.34" height="10.50" fill="#d0dcf0" />
<rect x="41.23" y="557.70" width="6.34" height="10.50" fill="#8aa2d8" />
<rect x="47.57" y="557.70" width="6.34" height="10.50" fill="#6a80c6" />
<rect x="53.91" y="557.70" width="6.34" height="10.50" fill="#b82230" />
<rect x="60.25" y="557.70" width="6.34" height="10.50" fill="#b82230" />
<rect x="66.59" y="557.70" width="6.34" height="10.50" fill="#e2e2e4" />
<rect x="72.94" y="557.70" width="6.34" height="10.50" fill="#e47b63" />
<rect x="79.28" y="557.70" width="6.34" height="10.50" fill="#e2e2e4" />
<rect x="85.62" y="557.70" width="6.34" height="10.50" fill="#f1bea3" />
<rect x="91.96" y="557.70" width="6.34" height="10.50" fill="#e2e2e4" />
<rect x="98.30" y="557.70" width="6.34" height="10.50" fill="#b82230" />
<rect x="104.65" y="557.70" width="6.34" height="10.50" fill="#f1bea3" />
<rect x="110.99" y="557.70" width="6.34" height="10.50" fill="#d65045" />
<rect x="117.33" y="557.70" width="6.34" height="10.50" fill="#d65045" />
<rect x="123.67" y="557.70" width="6.34" height="10.50" fill="#efdacf" />
<rect x="130.01" y="557.70" width="6.34" height="10.50" fill="#efdacf" />
<rect x="136.36" y="557.70" width="6.34" height="10.50" fill="#f1bea3" />
<rect x="142.70" y="557.70" width="6.34" height="10.50" fill="#e2e2e4" />
<rect x="149.04" y="557.70" width="6.34" height="10.50" fill="#d0dcf0" />
<rect x="155.38" y="557.70" width="6.34" height="10.50" fill="#e47b63" />
<rect x="161.72" y="557.70" width="6.34" height="10.50" fill="#e2e2e4" />
<rect x="168.07" y="557.70" width="6.34" height="10.50" fill="#e2e2e4" />
<rect x="174.41" y="557.70" width="6.34" height="10.50" fill="#f1bea3" />
<rect x="180.75" y="557.70" width="6.34" height="10.50" fill="#eb9a7c" />
<rect x="187.09" y="557.70" width="6.34" height="10.50" fill="#aec2e6" />
<rect x="193.43" y="557.70" width="6.34" height="10.50" fill="#d0dcf0" />
<rect x="199.78" y="557.70" width="6.34" height="10.50" fill="#aec2e6" />
<rect x="206.12" y="557.70" width="6.34" height="10.50" fill="#d0dcf0" />
<rect x="212.46" y="557.70" width="6.34" height="10.50" fill="#e2e2e4" />
<rect x="218.80" y="557.70" width="6.34" height="10.50" fill="#efdacf" />
<rect x="225.14" y="557.70" width="6.34" height="10.50" fill="#d0dcf0" />
<rect x="231.49" y="557.70" width="6.34" height="10.50" fill="#8aa2d8" />
<rect x="237.83" y="557.70" width="6.34" height="10.50" fill="#f1bea3" />
<rect x="244.17" y="557.70" width="6.34" height="10.50" fill="#e2e2e4" />
<rect x="250.51" y="557.70" width="6.34" height="10.50" fill="#efdacf" />
<rect x="256.85" y="557.70" width="6.34" height="10.50" fill="#8aa2d8" />
<rect x="263.20" y="557.70" width="6.34" height="10.50" fill="#6a80c6" />
<rect x="269.54" y="557.70" width="6.34" height="10.50" fill="#6a80c6" />
<rect x="275.88" y="557.70" width="6.34" height="10.50" fill="#aec2e6" />
<rect x="282.22" y="557.70" width="6.34" height="10.50" fill="#d0dcf0" />
<rect x="288.56" y="557.70" width="6.34" height="10.50" fill="#d0dcf0" />
<rect x="294.91" y="557.70" width="6.34" height="10.50" fill="#aec2e6" />
<rect x="301.25" y="557.70" width="6.34" height="10.50" fill="#efdacf" />
<rect x="307.59" y="557.70" width="6.34" height="10.50" fill="#f1bea3" />
<rect x="313.93" y="557.70" width="6.34" height="10.50" fill="#6a80c6" />
<rect x="320.27" y="557.70" width="6.34" height="10.50" fill="#efdacf" />
<rect x="326.62" y="557.70" width="6.34" height="10.50" fill="#e2e2e4" />
<rect x="332.96" y="557.70" width="6.34" height="10.50" fill="#d0dcf0" />
<rect x="339.30" y="557.70" width="6.34" height="10.50" fill="#e2e2e4" />
<rect x="345.64" y="557.70" width="6.34" height="10.50" fill="#eb9a7c" />
<rect x="351.98" y="557.70" width="6.34" height="10.50" fill="#f1bea3" />
<rect x="358.33" y="557.70" width="6.34" height="10.50" fill="#aec2e6" />
<rect x="364.67" y="557.70" width="6.34" height="10.50" fill="#6a80c6" />
<rect x="371.01" y="557.70" width="6.34" height="10.50" fill="#6a80c6" />
<rect x="377.35" y="557.70" width="6.34" height="10.50" fill="#aec2e6" />
<rect x="383.69" y="557.70" width="6.34" height="10.50" fill="#e2e2e4" />
<rect x="390.04" y="557.70" width="6.34" height="10.50" fill="#e2e2e4" />
<rect x="396.38" y="557.70" width="6.34" height="10.50" fill="#e2e2e4" />
<rect x="402.72" y="557.70" width="6.34" height="10.50" fill="#e2e2e4" />
<rect x="409.06" y="557.70" width="6.34" height="10.50" fill="#d0dcf0" />
<rect x="415.40" y="557.70" width="6.34" height="10.50" fill="#eb9a7c" />
<rect x="421.75" y="557.70" width="6.34" height="10.50" fill="#d65045" />
<rect x="428.09" y="557.70" width="6.34" height="10.50" fill="#b82230" />
<rect x="434.43" y="557.70" width="6.34" height="10.50" fill="#d65045" />
<rect x="440.77" y="557.70" width="6.34" height="10.50" fill="#d0dcf0" />
<rect x="447.11" y="557.70" width="6.34" height="10.50" fill="#e2e2e4" />
<rect x="453.46" y="557.70" width="6.34" height="10.50" fill="#efdacf" />
<rect x="459.80" y="557.70" width="6.34" height="10.50" fill="#efdacf" />
<rect x="466.14" y="557.70" width="6.34" height="10.50" fill="#8aa2d8" />
<rect x="472.48" y="557.70" width="6.34" height="10.50" fill="#d0dcf0" />
<rect x="478.82" y="557.70" width="6.34" height="10.50" fill="#efdacf" />
<rect x="485.17" y="557.70" width="6.34" height="10.50" fill="#d0dcf0" />
<rect x="491.51" y="557.70" width="6.34" height="10.50" fill="#8aa2d8" />
<rect x="497.85" y="557.70" width="6.34" height="10.50" fill="#e2e2e4" />
<rect x="504.19" y="557.70" width="6.34" height="10.50" fill="#f1bea3" />
<rect x="510.53" y="557.70" width="6.34" height="10.50" fill="#e2e2e4" />
<rect x="516.88" y="557.70" width="6.34" height="10.50" fill="#eb9a7c" />
<rect x="523.22" y="557.70" width="6.34" height="10.50" fill="#eb9a7c" />
<rect x="529.56" y="557.70" width="6.34" height="10.50" fill="#efdacf" />
<rect x="535.90" y="557.70" width="6.34" height="10.50" fill="#efdacf" />
<rect x="542.24" y="557.70" width="6.34" height="10.50" fill="#f1bea3" />
<rect x="548.59" y="557.70" width="6.34" height="10.50" fill="#efdacf" />
<rect x="554.93" y="557.70" width="6.34" height="10.50" fill="#eb9a7c" />
<rect x="561.27" y="557.70" width="6.34" height="10.50" fill="#efdacf" />
<rect x="567.61" y="557.70" width="6.34" height="10.50" fill="#efdacf" />
<rect x="573.95" y="557.70" width="6.34" height="10.50" fill="#f1bea3" />
<rect x="580.30" y="557.70" width="6.34" height="10.50" fill="#efdacf" />
<rect x="586.64" y="557.70" width="6.34" height="10.50" fill="#eb9a7c" />
<rect x="592.98" y="557.70" width="6.34" height="10.50" fill="#f1bea3" />
<rect x="599.32" y="557.70" width="6.34" height="10.50" fill="#f1bea3" />
<rect x="605.66" y="557.70" width="6.34" height="10.50" fill="#5064b8" />
<rect x="612.01" y="557.70" width="6.34" height="10.50" fill="#5064b8" />
<rect x="618.35" y="557.70" width="6.34" height="10.50" fill="#8aa2d8" />
<rect x="624.69" y="557.70" width="6.34" height="10.50" fill="#6a80c6" />
<rect x="631.03" y="557.70" width="6.34" height="10.50" fill="#6a80c6" />
<rect x="637.37" y="557.70" width="6.34" height="10.50" fill="#6a80c6" />
<rect x="22.20" y="568.20" width="6.34" height="10.50" fill="#3e50a8" />
<rect x="28.54" y="568.20" width="6.34" height="10.50" fill="#d0dcf0" />
<rect x="34.88" y="568.20" width="6.34" height="10.50" fill="#6a80c6" />
<rect x="41.23" y="568.20" width="6.34" height="10.50" fill="#5064b8" />
<rect x="47.57" y="568.20" width="6.34" height="10.50" fill="#5064b8" />
<rect x="53.91" y="568.20" width="6.34" height="10.50" fill="#d0dcf0" />
<rect x="60.25" y="568.20" width="6.34" height="10.50" fill="#e2e2e4" />
<rect x="66.59" y="568.20" width="6.34" height="10.50" fill="#b82230" />
<rect x="72.94" y="568.20" width="6.34" height="10.50" fill="#b82230" />
<rect x="79.28" y="568.20" width="6.34" height="10.50" fill="#b82230" />
<rect x="85.62" y="568.20" width="6.34" height="10.50" fill="#b82230" />
<rect x="91.96" y="568.20" width="6.34" height="10.50" fill="#b82230" />
<rect x="98.30" y="568.20" width="6.34" height="10.50" fill="#d65045" />
<rect x="104.65" y="568.20" width="6.34" height="10.50" fill="#eb9a7c" />
<rect x="110.99" y="568.20" width="6.34" height="10.50" fill="#f1bea3" />
<rect x="117.33" y="568.20" width="6.34" height="10.50" fill="#efdacf" />
<rect x="123.67" y="568.20" width="6.34" height="10.50" fill="#efdacf" />
<rect x="130.01" y="568.20" width="6.34" height="10.50" fill="#efdacf" />
<rect x="136.36" y="568.20" width="6.34" height="10.50" fill="#efdacf" />
<rect x="142.70" y="568.20" width="6.34" height="10.50" fill="#f1bea3" />
<rect x="149.04" y="568.20" width="6.34" height="10.50" fill="#8aa2d8" />
<rect x="155.38" y="568.20" width="6.34" height="10.50" fill="#8aa2d8" />
<rect x="161.72" y="568.20" width="6.34" height="10.50" fill="#d0dcf0" />
<rect x="168.07" y="568.20" width="6.34" height="10.50" fill="#8aa2d8" />
<rect x="174.41" y="568.20" width="6.34" height="10.50" fill="#d0dcf0" />
<rect x="180.75" y="568.20" width="6.34" height="10.50" fill="#d0dcf0" />
<rect x="187.09" y="568.20" width="6.34" height="10.50" fill="#efdacf" />
<rect x="193.43" y="568.20" width="6.34" height="10.50" fill="#efdacf" />
<rect x="199.78" y="568.20" width="6.34" height="10.50" fill="#d0dcf0" />
<rect x="206.12" y="568.20" width="6.34" height="10.50" fill="#efdacf" />
<rect x="212.46" y="568.20" width="6.34" height="10.50" fill="#e47b63" />
<rect x="218.80" y="568.20" width="6.34" height="10.50" fill="#f1bea3" />
<rect x="225.14" y="568.20" width="6.34" height="10.50" fill="#f1bea3" />
<rect x="231.49" y="568.20" width="6.34" height="10.50" fill="#e2e2e4" />
<rect x="237.83" y="568.20" width="6.34" height="10.50" fill="#efdacf" />
<rect x="244.17" y="568.20" width="6.34" height="10.50" fill="#d0dcf0" />
<rect x="250.51" y="568.20" width="6.34" height="10.50" fill="#aec2e6" />
<rect x="256.85" y="568.20" width="6.34" height="10.50" fill="#3e50a8" />
<rect x="263.20" y="568.20" width="6.34" height="10.50" fill="#8aa2d8" />
<rect x="269.54" y="568.20" width="6.34" height="10.50" fill="#8aa2d8" />
<rect x="275.88" y="568.20" width="6.34" height="10.50" fill="#aec2e6" />
<rect x="282.22" y="568.20" width="6.34" height="10.50" fill="#aec2e6" />
<rect x="288.56" y="568.20" width="6.34" height="10.50" fill="#d0dcf0" />
<rect x="294.91" y="568.20" width="6.34" height="10.50" fill="#e2e2e4" />
<rect x="301.25" y="568.20" width="6.34" height="10.50" fill="#aec2e6" />
<rect x="307.59" y="568.20" width="6.34" height="10.50" fill="#8aa2d8" />
<rect x="313.93" y="568.20" width="6.34" height="10.50" fill="#8aa2d8" />
<rect x="320.27" y="568.20" width="6.34" height="10.50" fill="#d0dcf0" />
<rect x="326.62" y="568.20" width="6.34" height="10.50" fill="#aec2e6" />
<rect x="332.96" y="568.20" width="6.34" height="10.50" fill="#8aa2d8" />
<rect x="339.30" y="568.20" width="6.34" height="10.50" fill="#aec2e6" />
<rect x="345.64" y="568.20" width="6.34" height="10.50" fill="#8aa2d8" />
<rect x="351.98" y="568.20" width="6.34" height="10.50" fill="#6a80c6" />
<rect x="358.33" y="568.20" width="6.34" height="10.50" fill="#efdacf" />
<rect x="364.67" y="568.20" width="6.34" height="10.50" fill="#d0dcf0" />
<rect x="371.01" y="568.20" width="6.34" height="10.50" fill="#e2e2e4" />
<rect x="377.35" y="568.20" width="6.34" height="10.50" fill="#aec2e6" />
<rect x="383.69" y="568.20" width="6.34" height="10.50" fill="#e2e2e4" />
<rect x="390.04" y="568.20" width="6.34" height="10.50" fill="#e2e2e4" />
<rect x="396.38" y="568.20" width="6.34" height="10.50" fill="#aec2e6" />
<rect x="402.72" y="568.20" width="6.34" height="10.50" fill="#d0dcf0" />
<rect x="409.06" y="568.20" width="6.34" height="10.50" fill="#aec2e6" />
<rect x="415.40" y="568.20" width="6.34" height="10.50" fill="#aec2e6" />
<rect x="421.75" y="568.20" width="6.34" height="10.50" fill="#efdacf" />
<rect x="428.09" y="568.20" width="6.34" height="10.50" fill="#efdacf" />
<rect x="434.43" y="568.20" width="6.34" height="10.50" fill="#e2e2e4" />
<rect x="440.77" y="568.20" width="6.34" height="10.50" fill="#e2e2e4" />
<rect x="447.11" y="568.20" width="6.34" height="10.50" fill="#f1bea3" />
<rect x="453.46" y="568.20" width="6.34" height="10.50" fill="#d0dcf0" />
<rect x="459.80" y="568.20" width="6.34" height="10.50" fill="#efdacf" />
<rect x="466.14" y="568.20" width="6.34" height="10.50" fill="#f1bea3" />
<rect x="472.48" y="568.20" width="6.34" height="10.50" fill="#d0dcf0" />
<rect x="478.82" y="568.20" width="6.34" height="10.50" fill="#eb9a7c" />
<rect x="485.17" y="568.20" width="6.34" height="10.50" fill="#eb9a7c" />
<rect x="491.51" y="568.20" width="6.34" height="10.50" fill="#d65045" />
<rect x="497.85" y="568.20" width="6.34" height="10.50" fill="#efdacf" />
<rect x="504.19" y="568.20" width="6.34" height="10.50" fill="#d0dcf0" />
<rect x="510.53" y="568.20" width="6.34" height="10.50" fill="#f1bea3" />
<rect x="516.88" y="568.20" width="6.34" height="10.50" fill="#efdacf" />
<rect x="523.22" y="568.20" width="6.34" height="10.50" fill="#efdacf" />
<rect x="529.56" y="568.20" width="6.34" height="10.50" fill="#efdacf" />
<rect x="535.90" y="568.20" width="6.34" height="10.50" fill="#eb9a7c" />
<rect x="542.24" y="568.20" width="6.34" height="10.50" fill="#f1bea3" />
<rect x="548.59" y="568.20" width="6.34" height="10.50" fill="#efdacf" />
<rect x="554.93" y="568.20" width="6.34" height="10.50" fill="#d0dcf0" />
<rect x="561.27" y="568.20" width="6.34" height="10.50" fill="#eb9a7c" />
<rect x="567.61" y="568.20" width="6.34" height="10.50" fill="#d65045" />
<rect x="573.95" y="568.20" width="6.34" height="10.50" fill="#f1bea3" />
<rect x="580.30" y="568.20" width="6.34" height="10.50" fill="#f1bea3" />
<rect x="586.64" y="568.20" width="6.34" height="10.50" fill="#e47b63" />
<rect x="592.98" y="568.20" width="6.34" height="10.50" fill="#eb9a7c" />
<rect x="599.32" y="568.20" width="6.34" height="10.50" fill="#f1bea3" />
<rect x="605.66" y="568.20" width="6.34" height="10.50" fill="#5064b8" />
<rect x="612.01" y="568.20" width="6.34" height="10.50" fill="#6a80c6" />
<rect x="618.35" y="568.20" width="6.34" height="10.50" fill="#f1bea3" />
<rect x="624.69" y="568.20" width="6.34" height="10.50" fill="#eb9a7c" />
<rect x="631.03" y="568.20" width="6.34" height="10.50" fill="#eb9a7c" />
<rect x="637.37" y="568.20" width="6.34" height="10.50" fill="#eb9a7c" />
<rect x="22.20" y="578.70" width="6.34" height="10.50" fill="#8aa2d8" />
<rect x="28.54" y="578.70" width="6.34" height="10.50" fill="#6a80c6" />
<rect x="34.88" y="578.70" width="6.34" height="10.50" fill="#5064b8" />
<rect x="41.23" y="578.70" width="6.34" height="10.50" fill="#5064b8" />
<rect x="47.57" y="578.70" width="6.34" height="10.50" fill="#8aa2d8" />
<rect x="53.91" y="578.70" width="6.34" height="10.50" fill="#eb9a7c" />
<rect x="60.25" y="578.70" width="6.34" height="10.50" fill="#d65045" />
<rect x="66.59" y="578.70" width="6.34" height="10.50" fill="#e2e2e4" />
<rect x="72.94" y="578.70" width="6.34" height="10.50" fill="#eb9a7c" />
<rect x="79.28" y="578.70" width="6.34" height="10.50" fill="#f1bea3" />
<rect x="85.62" y="578.70" width="6.34" height="10.50" fill="#e47b63" />
<rect x="91.96" y="578.70" width="6.34" height="10.50" fill="#d65045" />
<rect x="98.30" y="578.70" width="6.34" height="10.50" fill="#eb9a7c" />
<rect x="104.65" y="578.70" width="6.34" height="10.50" fill="#b82230" />
<rect x="110.99" y="578.70" width="6.34" height="10.50" fill="#efdacf" />
<rect x="117.33" y="578.70" width="6.34" height="10.50" fill="#d0dcf0" />
<rect x="123.67" y="578.70" width="6.34" height="10.50" fill="#e2e2e4" />
<rect x="130.01" y="578.70" width="6.34" height="10.50" fill="#efdacf" />
<rect x="136.36" y="578.70" width="6.34" height="10.50" fill="#6a80c6" />
<rect x="142.70" y="578.70" width="6.34" height="10.50" fill="#efdacf" />
<rect x="149.04" y="578.70" width="6.34" height="10.50" fill="#8aa2d8" />
<rect x="155.38" y="578.70" width="6.34" height="10.50" fill="#6a80c6" />
<rect x="161.72" y="578.70" width="6.34" height="10.50" fill="#6a80c6" />
<rect x="168.07" y="578.70" width="6.34" height="10.50" fill="#8aa2d8" />
<rect x="174.41" y="578.70" width="6.34" height="10.50" fill="#d0dcf0" />
<rect x="180.75" y="578.70" width="6.34" height="10.50" fill="#d0dcf0" />
<rect x="187.09" y="578.70" width="6.34" height="10.50" fill="#aec2e6" />
<rect x="193.43" y="578.70" width="6.34" height="10.50" fill="#6a80c6" />
<rect x="199.78" y="578.70" width="6.34" height="10.50" fill="#5064b8" />
<rect x="206.12" y="578.70" width="6.34" height="10.50" fill="#d0dcf0" />
<rect x="212.46" y="578.70" width="6.34" height="10.50" fill="#aec2e6" />
<rect x="218.80" y="578.70" width="6.34" height="10.50" fill="#8aa2d8" />
<rect x="225.14" y="578.70" width="6.34" height="10.50" fill="#d0dcf0" />
<rect x="231.49" y="578.70" width="6.34" height="10.50" fill="#efdacf" />
<rect x="237.83" y="578.70" width="6.34" height="10.50" fill="#d0dcf0" />
<rect x="244.17" y="578.70" width="6.34" height="10.50" fill="#8aa2d8" />
<rect x="250.51" y="578.70" width="6.34" height="10.50" fill="#d0dcf0" />
<rect x="256.85" y="578.70" width="6.34" height="10.50" fill="#8aa2d8" />
<rect x="263.20" y="578.70" width="6.34" height="10.50" fill="#f1bea3" />
<rect x="269.54" y="578.70" width="6.34" height="10.50" fill="#aec2e6" />
<rect x="275.88" y="578.70" width="6.34" height="10.50" fill="#aec2e6" />
<rect x="282.22" y="578.70" width="6.34" height="10.50" fill="#e2e2e4" />
<rect x="288.56" y="578.70" width="6.34" height="10.50" fill="#b82230" />
<rect x="294.91" y="578.70" width="6.34" height="10.50" fill="#eb9a7c" />
<rect x="301.25" y="578.70" width="6.34" height="10.50" fill="#efdacf" />
<rect x="307.59" y="578.70" width="6.34" height="10.50" fill="#d0dcf0" />
<rect x="313.93" y="578.70" width="6.34" height="10.50" fill="#eb9a7c" />
<rect x="320.27" y="578.70" width="6.34" height="10.50" fill="#e47b63" />
<rect x="326.62" y="578.70" width="6.34" height="10.50" fill="#eb9a7c" />
<rect x="332.96" y="578.70" width="6.34" height="10.50" fill="#d0dcf0" />
<rect x="339.30" y="578.70" width="6.34" height="10.50" fill="#aec2e6" />
<rect x="345.64" y="578.70" width="6.34" height="10.50" fill="#efdacf" />
<rect x="351.98" y="578.70" width="6.34" height="10.50" fill="#d0dcf0" />
<rect x="358.33" y="578.70" width="6.34" height="10.50" fill="#aec2e6" />
<rect x="364.67" y="578.70" width="6.34" height="10.50" fill="#efdacf" />
<rect x="371.01" y="578.70" width="6.34" height="10.50" fill="#efdacf" />
<rect x="377.35" y="578.70" width="6.34" height="10.50" fill="#8aa2d8" />
<rect x="383.69" y="578.70" width="6.34" height="10.50" fill="#aec2e6" />
<rect x="390.04" y="578.70" width="6.34" height="10.50" fill="#8aa2d8" />
<rect x="396.38" y="578.70" width="6.34" height="10.50" fill="#5064b8" />
<rect x="402.72" y="578.70" width="6.34" height="10.50" fill="#8aa2d8" />
<rect x="409.06" y="578.70" width="6.34" height="10.50" fill="#e2e2e4" />
<rect x="415.40" y="578.70" width="6.34" height="10.50" fill="#aec2e6" />
<rect x="421.75" y="578.70" width="6.34" height="10.50" fill="#e2e2e4" />
<rect x="428.09" y="578.70" width="6.34" height="10.50" fill="#efdacf" />
<rect x="434.43" y="578.70" width="6.34" height="10.50" fill="#b82230" />
<rect x="440.77" y="578.70" width="6.34" height="10.50" fill="#f1bea3" />
<rect x="447.11" y="578.70" width="6.34" height="10.50" fill="#efdacf" />
<rect x="453.46" y="578.70" width="6.34" height="10.50" fill="#aec2e6" />
<rect x="459.80" y="578.70" width="6.34" height="10.50" fill="#e2e2e4" />
<rect x="466.14" y="578.70" width="6.34" height="10.50" fill="#f1bea3" />
<rect x="472.48" y="578.70" width="6.34" height="10.50" fill="#e47b63" />
<rect x="478.82" y="578.70" width="6.34" height="10.50" fill="#d65045" />
<rect x="485.17" y="578.70" width="6.34" height="10.50" fill="#e47b63" />
<rect x="491.51" y="578.70" width="6.34" height="10.50" fill="#b82230" />
<rect x="497.85" y="578.70" width="6.34" height="10.50" fill="#d65045" />
<rect x="504.19" y="578.70" width="6.34" height="10.50" fill="#e47b63" />
<rect x="510.53" y="578.70" width="6.34" height="10.50" fill="#e47b63" />
<rect x="516.88" y="578.70" width="6.34" height="10.50" fill="#d65045" />
<rect x="523.22" y="578.70" width="6.34" height="10.50" fill="#d65045" />
<rect x="529.56" y="578.70" width="6.34" height="10.50" fill="#eb9a7c" />
<rect x="535.90" y="578.70" width="6.34" height="10.50" fill="#eb9a7c" />
<rect x="542.24" y="578.70" width="6.34" height="10.50" fill="#eb9a7c" />
<rect x="548.59" y="578.70" width="6.34" height="10.50" fill="#e2e2e4" />
<rect x="554.93" y="578.70" width="6.34" height="10.50" fill="#d0dcf0" />
<rect x="561.27" y="578.70" width="6.34" height="10.50" fill="#efdacf" />
<rect x="567.61" y="578.70" width="6.34" height="10.50" fill="#efdacf" />
<rect x="573.95" y="578.70" width="6.34" height="10.50" fill="#aec2e6" />
<rect x="580.30" y="578.70" width="6.34" height="10.50" fill="#efdacf" />
<rect x="586.64" y="578.70" width="6.34" height="10.50" fill="#eb9a7c" />
<rect x="592.98" y="578.70" width="6.34" height="10.50" fill="#d0dcf0" />
<rect x="599.32" y="578.70" width="6.34" height="10.50" fill="#e2e2e4" />
<rect x="605.66" y="578.70" width="6.34" height="10.50" fill="#8aa2d8" />
<rect x="612.01" y="578.70" width="6.34" height="10.50" fill="#d0dcf0" />
<rect x="618.35" y="578.70" width="6.34" height="10.50" fill="#efdacf" />
<rect x="624.69" y="578.70" width="6.34" height="10.50" fill="#d0dcf0" />
<rect x="631.03" y="578.70" width="6.34" height="10.50" fill="#aec2e6" />
<rect x="637.37" y="578.70" width="6.34" height="10.50" fill="#d0dcf0" />
<rect x="22.20" y="589.20" width="6.34" height="10.50" fill="#f1bea3" />
<rect x="28.54" y="589.20" width="6.34" height="10.50" fill="#d0dcf0" />
<rect x="34.88" y="589.20" width="6.34" height="10.50" fill="#8aa2d8" />
<rect x="41.23" y="589.20" width="6.34" height="10.50" fill="#5064b8" />
<rect x="47.57" y="589.20" width="6.34" height="10.50" fill="#5064b8" />
<rect x="53.91" y="589.20" width="6.34" height="10.50" fill="#e47b63" />
<rect x="60.25" y="589.20" width="6.34" height="10.50" fill="#b82230" />
<rect x="66.59" y="589.20" width="6.34" height="10.50" fill="#d0dcf0" />
<rect x="72.94" y="589.20" width="6.34" height="10.50" fill="#eb9a7c" />
<rect x="79.28" y="589.20" width="6.34" height="10.50" fill="#e47b63" />
<rect x="85.62" y="589.20" width="6.34" height="10.50" fill="#e47b63" />
<rect x="91.96" y="589.20" width="6.34" height="10.50" fill="#efdacf" />
<rect x="98.30" y="589.20" width="6.34" height="10.50" fill="#b82230" />
<rect x="104.65" y="589.20" width="6.34" height="10.50" fill="#d65045" />
<rect x="110.99" y="589.20" width="6.34" height="10.50" fill="#d65045" />
<rect x="117.33" y="589.20" width="6.34" height="10.50" fill="#d65045" />
<rect x="123.67" y="589.20" width="6.34" height="10.50" fill="#b82230" />
<rect x="130.01" y="589.20" width="6.34" height="10.50" fill="#b82230" />
<rect x="136.36" y="589.20" width="6.34" height="10.50" fill="#5064b8" />
<rect x="142.70" y="589.20" width="6.34" height="10.50" fill="#d0dcf0" />
<rect x="149.04" y="589.20" width="6.34" height="10.50" fill="#d0dcf0" />
<rect x="155.38" y="589.20" width="6.34" height="10.50" fill="#6a80c6" />
<rect x="161.72" y="589.20" width="6.34" height="10.50" fill="#6a80c6" />
<rect x="168.07" y="589.20" width="6.34" height="10.50" fill="#8aa2d8" />
<rect x="174.41" y="589.20" width="6.34" height="10.50" fill="#8aa2d8" />
<rect x="180.75" y="589.20" width="6.34" height="10.50" fill="#6a80c6" />
<rect x="187.09" y="589.20" width="6.34" height="10.50" fill="#8aa2d8" />
<rect x="193.43" y="589.20" width="6.34" height="10.50" fill="#aec2e6" />
<rect x="199.78" y="589.20" width="6.34" height="10.50" fill="#f1bea3" />
<rect x="206.12" y="589.20" width="6.34" height="10.50" fill="#efdacf" />
<rect x="212.46" y="589.20" width="6.34" height="10.50" fill="#aec2e6" />
<rect x="218.80" y="589.20" width="6.34" height="10.50" fill="#d0dcf0" />
<rect x="225.14" y="589.20" width="6.34" height="10.50" fill="#aec2e6" />
<rect x="231.49" y="589.20" width="6.34" height="10.50" fill="#8aa2d8" />
<rect x="237.83" y="589.20" width="6.34" height="10.50" fill="#d0dcf0" />
<rect x="244.17" y="589.20" width="6.34" height="10.50" fill="#8aa2d8" />
<rect x="250.51" y="589.20" width="6.34" height="10.50" fill="#8aa2d8" />
<rect x="256.85" y="589.20" width="6.34" height="10.50" fill="#aec2e6" />
<rect x="263.20" y="589.20" width="6.34" height="10.50" fill="#d0dcf0" />
<rect x="269.54" y="589.20" width="6.34" height="10.50" fill="#e2e2e4" />
<rect x="275.88" y="589.20" width="6.34" height="10.50" fill="#eb9a7c" />
<rect x="282.22" y="589.20" width="6.34" height="10.50" fill="#efdacf" />
<rect x="288.56" y="589.20" width="6.34" height="10.50" fill="#eb9a7c" />
<rect x="294.91" y="589.20" width="6.34" height="10.50" fill="#e2e2e4" />
<rect x="301.25" y="589.20" width="6.34" height="10.50" fill="#e47b63" />
<rect x="307.59" y="589.20" width="6.34" height="10.50" fill="#eb9a7c" />
<rect x="313.93" y="589.20" width="6.34" height="10.50" fill="#aec2e6" />
<rect x="320.27" y="589.20" width="6.34" height="10.50" fill="#e2e2e4" />
<rect x="326.62" y="589.20" width="6.34" height="10.50" fill="#e2e2e4" />
<rect x="332.96" y="589.20" width="6.34" height="10.50" fill="#aec2e6" />
<rect x="339.30" y="589.20" width="6.34" height="10.50" fill="#d0dcf0" />
<rect x="345.64" y="589.20" width="6.34" height="10.50" fill="#efdacf" />
<rect x="351.98" y="589.20" width="6.34" height="10.50" fill="#d0dcf0" />
<rect x="358.33" y="589.20" width="6.34" height="10.50" fill="#e47b63" />
<rect x="364.67" y="589.20" width="6.34" height="10.50" fill="#e47b63" />
<rect x="371.01" y="589.20" width="6.34" height="10.50" fill="#e47b63" />
<rect x="377.35" y="589.20" width="6.34" height="10.50" fill="#aec2e6" />
<rect x="383.69" y="589.20" width="6.34" height="10.50" fill="#d0dcf0" />
<rect x="390.04" y="589.20" width="6.34" height="10.50" fill="#d0dcf0" />
<rect x="396.38" y="589.20" width="6.34" height="10.50" fill="#d0dcf0" />
<rect x="402.72" y="589.20" width="6.34" height="10.50" fill="#e2e2e4" />
<rect x="409.06" y="589.20" width="6.34" height="10.50" fill="#aec2e6" />
<rect x="415.40" y="589.20" width="6.34" height="10.50" fill="#d65045" />
<rect x="421.75" y="589.20" width="6.34" height="10.50" fill="#e47b63" />
<rect x="428.09" y="589.20" width="6.34" height="10.50" fill="#f1bea3" />
<rect x="434.43" y="589.20" width="6.34" height="10.50" fill="#d0dcf0" />
<rect x="440.77" y="589.20" width="6.34" height="10.50" fill="#eb9a7c" />
<rect x="447.11" y="589.20" width="6.34" height="10.50" fill="#aec2e6" />
<rect x="453.46" y="589.20" width="6.34" height="10.50" fill="#aec2e6" />
<rect x="459.80" y="589.20" width="6.34" height="10.50" fill="#aec2e6" />
<rect x="466.14" y="589.20" width="6.34" height="10.50" fill="#6a80c6" />
<rect x="472.48" y="589.20" width="6.34" height="10.50" fill="#aec2e6" />
<rect x="478.82" y="589.20" width="6.34" height="10.50" fill="#f1bea3" />
<rect x="485.17" y="589.20" width="6.34" height="10.50" fill="#d0dcf0" />
<rect x="491.51" y="589.20" width="6.34" height="10.50" fill="#f1bea3" />
<rect x="497.85" y="589.20" width="6.34" height="10.50" fill="#d0dcf0" />
<rect x="504.19" y="589.20" width="6.34" height="10.50" fill="#efdacf" />
<rect x="510.53" y="589.20" width="6.34" height="10.50" fill="#efdacf" />
<rect x="516.88" y="589.20" width="6.34" height="10.50" fill="#efdacf" />
<rect x="523.22" y="589.20" width="6.34" height="10.50" fill="#e47b63" />
<rect x="529.56" y="589.20" width="6.34" height="10.50" fill="#d65045" />
<rect x="535.90" y="589.20" width="6.34" height="10.50" fill="#eb9a7c" />
<rect x="542.24" y="589.20" width="6.34" height="10.50" fill="#efdacf" />
<rect x="548.59" y="589.20" width="6.34" height="10.50" fill="#aec2e6" />
<rect x="554.93" y="589.20" width="6.34" height="10.50" fill="#d0dcf0" />
<rect x="561.27" y="589.20" width="6.34" height="10.50" fill="#aec2e6" />
<rect x="567.61" y="589.20" width="6.34" height="10.50" fill="#e2e2e4" />
<rect x="573.95" y="589.20" width="6.34" height="10.50" fill="#efdacf" />
<rect x="580.30" y="589.20" width="6.34" height="10.50" fill="#d0dcf0" />
<rect x="586.64" y="589.20" width="6.34" height="10.50" fill="#e2e2e4" />
<rect x="592.98" y="589.20" width="6.34" height="10.50" fill="#efdacf" />
<rect x="599.32" y="589.20" width="6.34" height="10.50" fill="#efdacf" />
<rect x="605.66" y="589.20" width="6.34" height="10.50" fill="#5064b8" />
<rect x="612.01" y="589.20" width="6.34" height="10.50" fill="#d0dcf0" />
<rect x="618.35" y="589.20" width="6.34" height="10.50" fill="#e47b63" />
<rect x="624.69" y="589.20" width="6.34" height="10.50" fill="#d0dcf0" />
<rect x="631.03" y="589.20" width="6.34" height="10.50" fill="#aec2e6" />
<rect x="637.37" y="589.20" width="6.34" height="10.50" fill="#e2e2e4" />
<rect x="22.20" y="599.70" width="6.34" height="10.50" fill="#8aa2d8" />
<rect x="28.54" y="599.70" width="6.34" height="10.50" fill="#5064b8" />
<rect x="34.88" y="599.70" width="6.34" height="10.50" fill="#aec2e6" />
<rect x="41.23" y="599.70" width="6.34" height="10.50" fill="#aec2e6" />
<rect x="47.57" y="599.70" width="6.34" height="10.50" fill="#6a80c6" />
<rect x="53.91" y="599.70" width="6.34" height="10.50" fill="#b82230" />
<rect x="60.25" y="599.70" width="6.34" height="10.50" fill="#b82230" />
<rect x="66.59" y="599.70" width="6.34" height="10.50" fill="#e47b63" />
<rect x="72.94" y="599.70" width="6.34" height="10.50" fill="#f1bea3" />
<rect x="79.28" y="599.70" width="6.34" height="10.50" fill="#d65045" />
<rect x="85.62" y="599.70" width="6.34" height="10.50" fill="#efdacf" />
<rect x="91.96" y="599.70" width="6.34" height="10.50" fill="#efdacf" />
<rect x="98.30" y="599.70" width="6.34" height="10.50" fill="#efdacf" />
<rect x="104.65" y="599.70" width="6.34" height="10.50" fill="#d65045" />
<rect x="110.99" y="599.70" width="6.34" height="10.50" fill="#d65045" />
<rect x="117.33" y="599.70" width="6.34" height="10.50" fill="#d65045" />
<rect x="123.67" y="599.70" width="6.34" height="10.50" fill="#d65045" />
<rect x="130.01" y="599.70" width="6.34" height="10.50" fill="#e47b63" />
<rect x="136.36" y="599.70" width="6.34" height="10.50" fill="#d0dcf0" />
<rect x="142.70" y="599.70" width="6.34" height="10.50" fill="#e47b63" />
<rect x="149.04" y="599.70" width="6.34" height="10.50" fill="#f1bea3" />
<rect x="155.38" y="599.70" width="6.34" height="10.50" fill="#6a80c6" />
<rect x="161.72" y="599.70" width="6.34" height="10.50" fill="#efdacf" />
<rect x="168.07" y="599.70" width="6.34" height="10.50" fill="#d0dcf0" />
<rect x="174.41" y="599.70" width="6.34" height="10.50" fill="#d0dcf0" />
<rect x="180.75" y="599.70" width="6.34" height="10.50" fill="#f1bea3" />
<rect x="187.09" y="599.70" width="6.34" height="10.50" fill="#d0dcf0" />
<rect x="193.43" y="599.70" width="6.34" height="10.50" fill="#f1bea3" />
<rect x="199.78" y="599.70" width="6.34" height="10.50" fill="#8aa2d8" />
<rect x="206.12" y="599.70" width="6.34" height="10.50" fill="#d0dcf0" />
<rect x="212.46" y="599.70" width="6.34" height="10.50" fill="#d0dcf0" />
<rect x="218.80" y="599.70" width="6.34" height="10.50" fill="#6a80c6" />
<rect x="225.14" y="599.70" width="6.34" height="10.50" fill="#5064b8" />
<rect x="231.49" y="599.70" width="6.34" height="10.50" fill="#e2e2e4" />
<rect x="237.83" y="599.70" width="6.34" height="10.50" fill="#8aa2d8" />
<rect x="244.17" y="599.70" width="6.34" height="10.50" fill="#aec2e6" />
<rect x="250.51" y="599.70" width="6.34" height="10.50" fill="#8aa2d8" />
<rect x="256.85" y="599.70" width="6.34" height="10.50" fill="#aec2e6" />
<rect x="263.20" y="599.70" width="6.34" height="10.50" fill="#d0dcf0" />
<rect x="269.54" y="599.70" width="6.34" height="10.50" fill="#8aa2d8" />
<rect x="275.88" y="599.70" width="6.34" height="10.50" fill="#e2e2e4" />
<rect x="282.22" y="599.70" width="6.34" height="10.50" fill="#8aa2d8" />
<rect x="288.56" y="599.70" width="6.34" height="10.50" fill="#5064b8" />
<rect x="294.91" y="599.70" width="6.34" height="10.50" fill="#8aa2d8" />
<rect x="301.25" y="599.70" width="6.34" height="10.50" fill="#aec2e6" />
<rect x="307.59" y="599.70" width="6.34" height="10.50" fill="#8aa2d8" />
<rect x="313.93" y="599.70" width="6.34" height="10.50" fill="#e2e2e4" />
<rect x="320.27" y="599.70" width="6.34" height="10.50" fill="#d0dcf0" />
<rect x="326.62" y="599.70" width="6.34" height="10.50" fill="#d0dcf0" />
<rect x="332.96" y="599.70" width="6.34" height="10.50" fill="#efdacf" />
<rect x="339.30" y="599.70" width="6.34" height="10.50" fill="#efdacf" />
<rect x="345.64" y="599.70" width="6.34" height="10.50" fill="#eb9a7c" />
<rect x="351.98" y="599.70" width="6.34" height="10.50" fill="#efdacf" />
<rect x="358.33" y="599.70" width="6.34" height="10.50" fill="#e2e2e4" />
<rect x="364.67" y="599.70" width="6.34" height="10.50" fill="#d0dcf0" />
<rect x="371.01" y="599.70" width="6.34" height="10.50" fill="#d0dcf0" />
<rect x="377.35" y="599.70" width="6.34" height="10.50" fill="#d0dcf0" />
<rect x="383.69" y="599.70" width="6.34" height="10.50" fill="#8aa2d8" />
<rect x="390.04" y="599.70" width="6.34" height="10.50" fill="#8aa2d8" />
<rect x="396.38" y="599.70" width="6.34" height="10.50" fill="#efdacf" />
<rect x="402.72" y="599.70" width="6.34" height="10.50" fill="#f1bea3" />
<rect x="409.06" y="599.70" width="6.34" height="10.50" fill="#b82230" />
<rect x="415.40" y="599.70" width="6.34" height="10.50" fill="#d65045" />
<rect x="421.75" y="599.70" width="6.34" height="10.50" fill="#e47b63" />
<rect x="428.09" y="599.70" width="6.34" height="10.50" fill="#d65045" />
<rect x="434.43" y="599.70" width="6.34" height="10.50" fill="#d0dcf0" />
<rect x="440.77" y="599.70" width="6.34" height="10.50" fill="#d0dcf0" />
<rect x="447.11" y="599.70" width="6.34" height="10.50" fill="#d0dcf0" />
<rect x="453.46" y="599.70" width="6.34" height="10.50" fill="#aec2e6" />
<rect x="459.80" y="599.70" width="6.34" height="10.50" fill="#8aa2d8" />
<rect x="466.14" y="599.70" width="6.34" height="10.50" fill="#f1bea3" />
<rect x="472.48" y="599.70" width="6.34" height="10.50" fill="#d0dcf0" />
<rect x="478.82" y="599.70" width="6.34" height="10.50" fill="#f1bea3" />
<rect x="485.17" y="599.70" width="6.34" height="10.50" fill="#eb9a7c" />
<rect x="491.51" y="599.70" width="6.34" height="10.50" fill="#eb9a7c" />
<rect x="497.85" y="599.70" width="6.34" height="10.50" fill="#5064b8" />
<rect x="504.19" y="599.70" width="6.34" height="10.50" fill="#8aa2d8" />
<rect x="510.53" y="599.70" width="6.34" height="10.50" fill="#8aa2d8" />
<rect x="516.88" y="599.70" width="6.34" height="10.50" fill="#6a80c6" />
<rect x="523.22" y="599.70" width="6.34" height="10.50" fill="#d0dcf0" />
<rect x="529.56" y="599.70" width="6.34" height="10.50" fill="#d0dcf0" />
<rect x="535.90" y="599.70" width="6.34" height="10.50" fill="#d0dcf0" />
<rect x="542.24" y="599.70" width="6.34" height="10.50" fill="#e2e2e4" />
<rect x="548.59" y="599.70" width="6.34" height="10.50" fill="#d0dcf0" />
<rect x="554.93" y="599.70" width="6.34" height="10.50" fill="#efdacf" />
<rect x="561.27" y="599.70" width="6.34" height="10.50" fill="#d0dcf0" />
<rect x="567.61" y="599.70" width="6.34" height="10.50" fill="#efdacf" />
<rect x="573.95" y="599.70" width="6.34" height="10.50" fill="#f1bea3" />
<rect x="580.30" y="599.70" width="6.34" height="10.50" fill="#e47b63" />
<rect x="586.64" y="599.70" width="6.34" height="10.50" fill="#e2e2e4" />
<rect x="592.98" y="599.70" width="6.34" height="10.50" fill="#efdacf" />
<rect x="599.32" y="599.70" width="6.34" height="10.50" fill="#e2e2e4" />
<rect x="605.66" y="599.70" width="6.34" height="10.50" fill="#d0dcf0" />
<rect x="612.01" y="599.70" width="6.34" height="10.50" fill="#e2e2e4" />
<rect x="618.35" y="599.70" width="6.34" height="10.50" fill="#eb9a7c" />
<rect x="624.69" y="599.70" width="6.34" height="10.50" fill="#eb9a7c" />
<rect x="631.03" y="599.70" width="6.34" height="10.50" fill="#eb9a7c" />
<rect x="637.37" y="599.70" width="6.34" height="10.50" fill="#e47b63" />
<rect x="22.20" y="610.20" width="6.34" height="10.50" fill="#5064b8" />
<rect x="28.54" y="610.20" width="6.34" height="10.50" fill="#5064b8" />
<rect x="34.88" y="610.20" width="6.34" height="10.50" fill="#5064b8" />
<rect x="41.23" y="610.20" width="6.34" height="10.50" fill="#6a80c6" />
<rect x="47.57" y="610.20" width="6.34" height="10.50" fill="#5064b8" />
<rect x="53.91" y="610.20" width="6.34" height="10.50" fill="#f1bea3" />
<rect x="60.25" y="610.20" width="6.34" height="10.50" fill="#e47b63" />
<rect x="66.59" y="610.20" width="6.34" height="10.50" fill="#eb9a7c" />
<rect x="72.94" y="610.20" width="6.34" height="10.50" fill="#e47b63" />
<rect x="79.28" y="610.20" width="6.34" height="10.50" fill="#e47b63" />
<rect x="85.62" y="610.20" width="6.34" height="10.50" fill="#efdacf" />
<rect x="91.96" y="610.20" width="6.34" height="10.50" fill="#d65045" />
<rect x="98.30" y="610.20" width="6.34" height="10.50" fill="#d65045" />
<rect x="104.65" y="610.20" width="6.34" height="10.50" fill="#eb9a7c" />
<rect x="110.99" y="610.20" width="6.34" height="10.50" fill="#d65045" />
<rect x="117.33" y="610.20" width="6.34" height="10.50" fill="#d65045" />
<rect x="123.67" y="610.20" width="6.34" height="10.50" fill="#d65045" />
<rect x="130.01" y="610.20" width="6.34" height="10.50" fill="#d65045" />
<rect x="136.36" y="610.20" width="6.34" height="10.50" fill="#f1bea3" />
<rect x="142.70" y="610.20" width="6.34" height="10.50" fill="#d65045" />
<rect x="149.04" y="610.20" width="6.34" height="10.50" fill="#e47b63" />
<rect x="155.38" y="610.20" width="6.34" height="10.50" fill="#d0dcf0" />
<rect x="161.72" y="610.20" width="6.34" height="10.50" fill="#8aa2d8" />
<rect x="168.07" y="610.20" width="6.34" height="10.50" fill="#aec2e6" />
<rect x="174.41" y="610.20" width="6.34" height="10.50" fill="#5064b8" />
<rect x="180.75" y="610.20" width="6.34" height="10.50" fill="#8aa2d8" />
<rect x="187.09" y="610.20" width="6.34" height="10.50" fill="#6a80c6" />
<rect x="193.43" y="610.20" width="6.34" height="10.50" fill="#5064b8" />
<rect x="199.78" y="610.20" width="6.34" height="10.50" fill="#8aa2d8" />
<rect x="206.12" y="610.20" width="6.34" height="10.50" fill="#8aa2d8" />
<rect x="212.46" y="610.20" width="6.34" height="10.50" fill="#8aa2d8" />
<rect x="218.80" y="610.20" width="6.34" height="10.50" fill="#e2e2e4" />
<rect x="225.14" y="610.20" width="6.34" height="10.50" fill="#d0dcf0" />
<rect x="231.49" y="610.20" width="6.34" height="10.50" fill="#efdacf" />
<rect x="237.83" y="610.20" width="6.34" height="10.50" fill="#d0dcf0" />
<rect x="244.17" y="610.20" width="6.34" height="10.50" fill="#d0dcf0" />
<rect x="250.51" y="610.20" width="6.34" height="10.50" fill="#8aa2d8" />
<rect x="256.85" y="610.20" width="6.34" height="10.50" fill="#aec2e6" />
<rect x="263.20" y="610.20" width="6.34" height="10.50" fill="#aec2e6" />
<rect x="269.54" y="610.20" width="6.34" height="10.50" fill="#e2e2e4" />
<rect x="275.88" y="610.20" width="6.34" height="10.50" fill="#e2e2e4" />
<rect x="282.22" y="610.20" width="6.34" height="10.50" fill="#aec2e6" />
<rect x="288.56" y="610.20" width="6.34" height="10.50" fill="#e2e2e4" />
<rect x="294.91" y="610.20" width="6.34" height="10.50" fill="#e2e2e4" />
<rect x="301.25" y="610.20" width="6.34" height="10.50" fill="#eb9a7c" />
<rect x="307.59" y="610.20" width="6.34" height="10.50" fill="#e2e2e4" />
<rect x="313.93" y="610.20" width="6.34" height="10.50" fill="#d0dcf0" />
<rect x="320.27" y="610.20" width="6.34" height="10.50" fill="#e2e2e4" />
<rect x="326.62" y="610.20" width="6.34" height="10.50" fill="#d0dcf0" />
<rect x="332.96" y="610.20" width="6.34" height="10.50" fill="#e2e2e4" />
<rect x="339.30" y="610.20" width="6.34" height="10.50" fill="#d0dcf0" />
<rect x="345.64" y="610.20" width="6.34" height="10.50" fill="#e2e2e4" />
<rect x="351.98" y="610.20" width="6.34" height="10.50" fill="#d0dcf0" />
<rect x="358.33" y="610.20" width="6.34" height="10.50" fill="#d0dcf0" />
<rect x="364.67" y="610.20" width="6.34" height="10.50" fill="#f1bea3" />
<rect x="371.01" y="610.20" width="6.34" height="10.50" fill="#f1bea3" />
<rect x="377.35" y="610.20" width="6.34" height="10.50" fill="#f1bea3" />
<rect x="383.69" y="610.20" width="6.34" height="10.50" fill="#aec2e6" />
<rect x="390.04" y="610.20" width="6.34" height="10.50" fill="#aec2e6" />
<rect x="396.38" y="610.20" width="6.34" height="10.50" fill="#e2e2e4" />
<rect x="402.72" y="610.20" width="6.34" height="10.50" fill="#e47b63" />
<rect x="409.06" y="610.20" width="6.34" height="10.50" fill="#e2e2e4" />
<rect x="415.40" y="610.20" width="6.34" height="10.50" fill="#efdacf" />
<rect x="421.75" y="610.20" width="6.34" height="10.50" fill="#f1bea3" />
<rect x="428.09" y="610.20" width="6.34" height="10.50" fill="#eb9a7c" />
<rect x="434.43" y="610.20" width="6.34" height="10.50" fill="#f1bea3" />
<rect x="440.77" y="610.20" width="6.34" height="10.50" fill="#f1bea3" />
<rect x="447.11" y="610.20" width="6.34" height="10.50" fill="#d65045" />
<rect x="453.46" y="610.20" width="6.34" height="10.50" fill="#e2e2e4" />
<rect x="459.80" y="610.20" width="6.34" height="10.50" fill="#f1bea3" />
<rect x="466.14" y="610.20" width="6.34" height="10.50" fill="#d0dcf0" />
<rect x="472.48" y="610.20" width="6.34" height="10.50" fill="#d0dcf0" />
<rect x="478.82" y="610.20" width="6.34" height="10.50" fill="#aec2e6" />
<rect x="485.17" y="610.20" width="6.34" height="10.50" fill="#f1bea3" />
<rect x="491.51" y="610.20" width="6.34" height="10.50" fill="#e47b63" />
<rect x="497.85" y="610.20" width="6.34" height="10.50" fill="#f1bea3" />
<rect x="504.19" y="610.20" width="6.34" height="10.50" fill="#efdacf" />
<rect x="510.53" y="610.20" width="6.34" height="10.50" fill="#efdacf" />
<rect x="516.88" y="610.20" width="6.34" height="10.50" fill="#f1bea3" />
<rect x="523.22" y="610.20" width="6.34" height="10.50" fill="#d65045" />
<rect x="529.56" y="610.20" width="6.34" height="10.50" fill="#efdacf" />
<rect x="535.90" y="610.20" width="6.34" height="10.50" fill="#eb9a7c" />
<rect x="542.24" y="610.20" width="6.34" height="10.50" fill="#efdacf" />
<rect x="548.59" y="610.20" width="6.34" height="10.50" fill="#f1bea3" />
<rect x="554.93" y="610.20" width="6.34" height="10.50" fill="#eb9a7c" />
<rect x="561.27" y="610.20" width="6.34" height="10.50" fill="#efdacf" />
<rect x="567.61" y="610.20" width="6.34" height="10.50" fill="#efdacf" />
<rect x="573.95" y="610.20" width="6.34" height="10.50" fill="#efdacf" />
<rect x="580.30" y="610.20" width="6.34" height="10.50" fill="#f1bea3" />
<rect x="586.64" y="610.20" width="6.34" height="10.50" fill="#8aa2d8" />
<rect x="592.98" y="610.20" width="6.34" height="10.50" fill="#efdacf" />
<rect x="599.32" y="610.20" width="6.34" height="10.50" fill="#efdacf" />
<rect x="605.66" y="610.20" width="6.34" height="10.50" fill="#d0dcf0" />
<rect x="612.01" y="610.20" width="6.34" height="10.50" fill="#aec2e6" />
<rect x="618.35" y="610.20" width="6.34" height="10.50" fill="#d0dcf0" />
<rect x="624.69" y="610.20" width="6.34" height="10.50" fill="#6a80c6" />
<rect x="631.03" y="610.20" width="6.34" height="10.50" fill="#6a80c6" />
<rect x="637.37" y="610.20" width="6.34" height="10.50" fill="#6a80c6" />
<rect x="22.20" y="620.70" width="6.34" height="10.50" fill="#8aa2d8" />
<rect x="28.54" y="620.70" width="6.34" height="10.50" fill="#5064b8" />
<rect x="34.88" y="620.70" width="6.34" height="10.50" fill="#d0dcf0" />
<rect x="41.23" y="620.70" width="6.34" height="10.50" fill="#e2e2e4" />
<rect x="47.57" y="620.70" width="6.34" height="10.50" fill="#aec2e6" />
<rect x="53.91" y="620.70" width="6.34" height="10.50" fill="#d65045" />
<rect x="60.25" y="620.70" width="6.34" height="10.50" fill="#b82230" />
<rect x="66.59" y="620.70" width="6.34" height="10.50" fill="#efdacf" />
<rect x="72.94" y="620.70" width="6.34" height="10.50" fill="#f1bea3" />
<rect x="79.28" y="620.70" width="6.34" height="10.50" fill="#e47b63" />
<rect x="85.62" y="620.70" width="6.34" height="10.50" fill="#b82230" />
<rect x="91.96" y="620.70" width="6.34" height="10.50" fill="#b82230" />
<rect x="98.30" y="620.70" width="6.34" height="10.50" fill="#eb9a7c" />
<rect x="104.65" y="620.70" width="6.34" height="10.50" fill="#eb9a7c" />
<rect x="110.99" y="620.70" width="6.34" height="10.50" fill="#f1bea3" />
<rect x="117.33" y="620.70" width="6.34" height="10.50" fill="#f1bea3" />
<rect x="123.67" y="620.70" width="6.34" height="10.50" fill="#e47b63" />
<rect x="130.01" y="620.70" width="6.34" height="10.50" fill="#e47b63" />
<rect x="136.36" y="620.70" width="6.34" height="10.50" fill="#eb9a7c" />
<rect x="142.70" y="620.70" width="6.34" height="10.50" fill="#d65045" />
<rect x="149.04" y="620.70" width="6.34" height="10.50" fill="#eb9a7c" />
<rect x="155.38" y="620.70" width="6.34" height="10.50" fill="#aec2e6" />
<rect x="161.72" y="620.70" width="6.34" height="10.50" fill="#6a80c6" />
<rect x="168.07" y="620.70" width="6.34" height="10.50" fill="#8aa2d8" />
<rect x="174.41" y="620.70" width="6.34" height="10.50" fill="#aec2e6" />
<rect x="180.75" y="620.70" width="6.34" height="10.50" fill="#f1bea3" />
<rect x="187.09" y="620.70" width="6.34" height="10.50" fill="#d0dcf0" />
<rect x="193.43" y="620.70" width="6.34" height="10.50" fill="#e2e2e4" />
<rect x="199.78" y="620.70" width="6.34" height="10.50" fill="#6a80c6" />
<rect x="206.12" y="620.70" width="6.34" height="10.50" fill="#3e50a8" />
<rect x="212.46" y="620.70" width="6.34" height="10.50" fill="#aec2e6" />
<rect x="218.80" y="620.70" width="6.34" height="10.50" fill="#6a80c6" />
<rect x="225.14" y="620.70" width="6.34" height="10.50" fill="#8aa2d8" />
<rect x="231.49" y="620.70" width="6.34" height="10.50" fill="#d65045" />
<rect x="237.83" y="620.70" width="6.34" height="10.50" fill="#aec2e6" />
<rect x="244.17" y="620.70" width="6.34" height="10.50" fill="#6a80c6" />
<rect x="250.51" y="620.70" width="6.34" height="10.50" fill="#5064b8" />
<rect x="256.85" y="620.70" width="6.34" height="10.50" fill="#aec2e6" />
<rect x="263.20" y="620.70" width="6.34" height="10.50" fill="#d0dcf0" />
<rect x="269.54" y="620.70" width="6.34" height="10.50" fill="#6a80c6" />
<rect x="275.88" y="620.70" width="6.34" height="10.50" fill="#8aa2d8" />
<rect x="282.22" y="620.70" width="6.34" height="10.50" fill="#8aa2d8" />
<rect x="288.56" y="620.70" width="6.34" height="10.50" fill="#8aa2d8" />
<rect x="294.91" y="620.70" width="6.34" height="10.50" fill="#aec2e6" />
<rect x="301.25" y="620.70" width="6.34" height="10.50" fill="#e2e2e4" />
<rect x="307.59" y="620.70" width="6.34" height="10.50" fill="#d0dcf0" />
<rect x="313.93" y="620.70" width="6.34" height="10.50" fill="#aec2e6" />
<rect x="320.27" y="620.70" width="6.34" height="10.50" fill="#aec2e6" />
<rect x="326.62" y="620.70" width="6.34" height="10.50" fill="#aec2e6" />
<rect x="332.96" y="620.70" width="6.34" height="10.50" fill="#5064b8" />
<rect x="339.30" y="620.70" width="6.34" height="10.50" fill="#6a80c6" />
<rect x="345.64" y="620.70" width="6.34" height="10.50" fill="#d0dcf0" />
<rect x="351.98" y="620.70" width="6.34" height="10.50" fill="#aec2e6" />
<rect x="358.33" y="620.70" width="6.34" height="10.50" fill="#e2e2e4" />
<rect x="364.67" y="620.70" width="6.34" height="10.50" fill="#d0dcf0" />
<rect x="371.01" y="620.70" width="6.34" height="10.50" fill="#e2e2e4" />
<rect x="377.35" y="620.70" width="6.34" height="10.50" fill="#aec2e6" />
<rect x="383.69" y="620.70" width="6.34" height="10.50" fill="#d0dcf0" />
<rect x="390.04" y="620.70" width="6.34" height="10.50" fill="#d0dcf0" />
<rect x="396.38" y="620.70" width="6.34" height="10.50" fill="#efdacf" />
<rect x="402.72" y="620.70" width="6.34" height="10.50" fill="#efdacf" />
<rect x="409.06" y="620.70" width="6.34" height="10.50" fill="#d0dcf0" />
<rect x="415.40" y="620.70" width="6.34" height="10.50" fill="#d0dcf0" />
<rect x="421.75" y="620.70" width="6.34" height="10.50" fill="#f1bea3" />
<rect x="428.09" y="620.70" width="6.34" height="10.50" fill="#eb9a7c" />
<rect x="434.43" y="620.70" width="6.34" height="10.50" fill="#f1bea3" />
<rect x="440.77" y="620.70" width="6.34" height="10.50" fill="#e2e2e4" />
<rect x="447.11" y="620.70" width="6.34" height="10.50" fill="#eb9a7c" />
<rect x="453.46" y="620.70" width="6.34" height="10.50" fill="#f1bea3" />
<rect x="459.80" y="620.70" width="6.34" height="10.50" fill="#d0dcf0" />
<rect x="466.14" y="620.70" width="6.34" height="10.50" fill="#efdacf" />
<rect x="472.48" y="620.70" width="6.34" height="10.50" fill="#f1bea3" />
<rect x="478.82" y="620.70" width="6.34" height="10.50" fill="#d0dcf0" />
<rect x="485.17" y="620.70" width="6.34" height="10.50" fill="#f1bea3" />
<rect x="491.51" y="620.70" width="6.34" height="10.50" fill="#eb9a7c" />
<rect x="497.85" y="620.70" width="6.34" height="10.50" fill="#d0dcf0" />
<rect x="504.19" y="620.70" width="6.34" height="10.50" fill="#e2e2e4" />
<rect x="510.53" y="620.70" width="6.34" height="10.50" fill="#f1bea3" />
<rect x="516.88" y="620.70" width="6.34" height="10.50" fill="#efdacf" />
<rect x="523.22" y="620.70" width="6.34" height="10.50" fill="#eb9a7c" />
<rect x="529.56" y="620.70" width="6.34" height="10.50" fill="#d0dcf0" />
<rect x="535.90" y="620.70" width="6.34" height="10.50" fill="#e2e2e4" />
<rect x="542.24" y="620.70" width="6.34" height="10.50" fill="#efdacf" />
<rect x="548.59" y="620.70" width="6.34" height="10.50" fill="#8aa2d8" />
<rect x="554.93" y="620.70" width="6.34" height="10.50" fill="#efdacf" />
<rect x="561.27" y="620.70" width="6.34" height="10.50" fill="#d0dcf0" />
<rect x="567.61" y="620.70" width="6.34" height="10.50" fill="#d0dcf0" />
<rect x="573.95" y="620.70" width="6.34" height="10.50" fill="#d0dcf0" />
<rect x="580.30" y="620.70" width="6.34" height="10.50" fill="#efdacf" />
<rect x="586.64" y="620.70" width="6.34" height="10.50" fill="#e47b63" />
<rect x="592.98" y="620.70" width="6.34" height="10.50" fill="#d65045" />
<rect x="599.32" y="620.70" width="6.34" height="10.50" fill="#d65045" />
<rect x="605.66" y="620.70" width="6.34" height="10.50" fill="#eb9a7c" />
<rect x="612.01" y="620.70" width="6.34" height="10.50" fill="#eb9a7c" />
<rect x="618.35" y="620.70" width="6.34" height="10.50" fill="#e47b63" />
<rect x="624.69" y="620.70" width="6.34" height="10.50" fill="#d0dcf0" />
<rect x="631.03" y="620.70" width="6.34" height="10.50" fill="#f1bea3" />
<rect x="637.37" y="620.70" width="6.34" height="10.50" fill="#f1bea3" />
<rect x="22.20" y="631.20" width="6.34" height="10.50" fill="#aec2e6" />
<rect x="28.54" y="631.20" width="6.34" height="10.50" fill="#5064b8" />
<rect x="34.88" y="631.20" width="6.34" height="10.50" fill="#5064b8" />
<rect x="41.23" y="631.20" width="6.34" height="10.50" fill="#d0dcf0" />
<rect x="47.57" y="631.20" width="6.34" height="10.50" fill="#aec2e6" />
<rect x="53.91" y="631.20" width="6.34" height="10.50" fill="#eb9a7c" />
<rect x="60.25" y="631.20" width="6.34" height="10.50" fill="#b82230" />
<rect x="66.59" y="631.20" width="6.34" height="10.50" fill="#f1bea3" />
<rect x="72.94" y="631.20" width="6.34" height="10.50" fill="#eb9a7c" />
<rect x="79.28" y="631.20" width="6.34" height="10.50" fill="#f1bea3" />
<rect x="85.62" y="631.20" width="6.34" height="10.50" fill="#e47b63" />
<rect x="91.96" y="631.20" width="6.34" height="10.50" fill="#e47b63" />
<rect x="98.30" y="631.20" width="6.34" height="10.50" fill="#d65045" />
<rect x="104.65" y="631.20" width="6.34" height="10.50" fill="#b82230" />
<rect x="110.99" y="631.20" width="6.34" height="10.50" fill="#d65045" />
<rect x="117.33" y="631.20" width="6.34" height="10.50" fill="#d65045" />
<rect x="123.67" y="631.20" width="6.34" height="10.50" fill="#e47b63" />
<rect x="130.01" y="631.20" width="6.34" height="10.50" fill="#d65045" />
<rect x="136.36" y="631.20" width="6.34" height="10.50" fill="#8aa2d8" />
<rect x="142.70" y="631.20" width="6.34" height="10.50" fill="#e47b63" />
<rect x="149.04" y="631.20" width="6.34" height="10.50" fill="#f1bea3" />
<rect x="155.38" y="631.20" width="6.34" height="10.50" fill="#aec2e6" />
<rect x="161.72" y="631.20" width="6.34" height="10.50" fill="#5064b8" />
<rect x="168.07" y="631.20" width="6.34" height="10.50" fill="#8aa2d8" />
<rect x="174.41" y="631.20" width="6.34" height="10.50" fill="#aec2e6" />
<rect x="180.75" y="631.20" width="6.34" height="10.50" fill="#efdacf" />
<rect x="187.09" y="631.20" width="6.34" height="10.50" fill="#8aa2d8" />
<rect x="193.43" y="631.20" width="6.34" height="10.50" fill="#8aa2d8" />
<rect x="199.78" y="631.20" width="6.34" height="10.50" fill="#8aa2d8" />
<rect x="206.12" y="631.20" width="6.34" height="10.50" fill="#6a80c6" />
<rect x="212.46" y="631.20" width="6.34" height="10.50" fill="#5064b8" />
<rect x="218.80" y="631.20" width="6.34" height="10.50" fill="#8aa2d8" />
<rect x="225.14" y="631.20" width="6.34" height="10.50" fill="#d0dcf0" />
<rect x="231.49" y="631.20" width="6.34" height="10.50" fill="#d0dcf0" />
<rect x="237.83" y="631.20" width="6.34" height="10.50" fill="#aec2e6" />
<rect x="244.17" y="631.20" width="6.34" height="10.50" fill="#8aa2d8" />
<rect x="250.51" y="631.20" width="6.34" height="10.50" fill="#6a80c6" />
<rect x="256.85" y="631.20" width="6.34" height="10.50" fill="#8aa2d8" />
<rect x="263.20" y="631.20" width="6.34" height="10.50" fill="#5064b8" />
<rect x="269.54" y="631.20" width="6.34" height="10.50" fill="#5064b8" />
<rect x="275.88" y="631.20" width="6.34" height="10.50" fill="#6a80c6" />
<rect x="282.22" y="631.20" width="6.34" height="10.50" fill="#5064b8" />
<rect x="288.56" y="631.20" width="6.34" height="10.50" fill="#f1bea3" />
<rect x="294.91" y="631.20" width="6.34" height="10.50" fill="#efdacf" />
<rect x="301.25" y="631.20" width="6.34" height="10.50" fill="#e2e2e4" />
<rect x="307.59" y="631.20" width="6.34" height="10.50" fill="#d0dcf0" />
<rect x="313.93" y="631.20" width="6.34" height="10.50" fill="#efdacf" />
<rect x="320.27" y="631.20" width="6.34" height="10.50" fill="#8aa2d8" />
<rect x="326.62" y="631.20" width="6.34" height="10.50" fill="#aec2e6" />
<rect x="332.96" y="631.20" width="6.34" height="10.50" fill="#d0dcf0" />
<rect x="339.30" y="631.20" width="6.34" height="10.50" fill="#e2e2e4" />
<rect x="345.64" y="631.20" width="6.34" height="10.50" fill="#d0dcf0" />
<rect x="351.98" y="631.20" width="6.34" height="10.50" fill="#e2e2e4" />
<rect x="358.33" y="631.20" width="6.34" height="10.50" fill="#f1bea3" />
<rect x="364.67" y="631.20" width="6.34" height="10.50" fill="#e2e2e4" />
<rect x="371.01" y="631.20" width="6.34" height="10.50" fill="#f1bea3" />
<rect x="377.35" y="631.20" width="6.34" height="10.50" fill="#e2e2e4" />
<rect x="383.69" y="631.20" width="6.34" height="10.50" fill="#efdacf" />
<rect x="390.04" y="631.20" width="6.34" height="10.50" fill="#f1bea3" />
<rect x="396.38" y="631.20" width="6.34" height="10.50" fill="#8aa2d8" />
<rect x="402.72" y="631.20" width="6.34" height="10.50" fill="#efdacf" />
<rect x="409.06" y="631.20" width="6.34" height="10.50" fill="#d0dcf0" />
<rect x="415.40" y="631.20" width="6.34" height="10.50" fill="#efdacf" />
<rect x="421.75" y="631.20" width="6.34" height="10.50" fill="#e2e2e4" />
<rect x="428.09" y="631.20" width="6.34" height="10.50" fill="#aec2e6" />
<rect x="434.43" y="631.20" width="6.34" height="10.50" fill="#efdacf" />
<rect x="440.77" y="631.20" width="6.34" height="10.50" fill="#efdacf" />
<rect x="447.11" y="631.20" width="6.34" height="10.50" fill="#efdacf" />
<rect x="453.46" y="631.20" width="6.34" height="10.50" fill="#e2e2e4" />
<rect x="459.80" y="631.20" width="6.34" height="10.50" fill="#f1bea3" />
<rect x="466.14" y="631.20" width="6.34" height="10.50" fill="#efdacf" />
<rect x="472.48" y="631.20" width="6.34" height="10.50" fill="#d0dcf0" />
<rect x="478.82" y="631.20" width="6.34" height="10.50" fill="#e47b63" />
<rect x="485.17" y="631.20" width="6.34" height="10.50" fill="#d0dcf0" />
<rect x="491.51" y="631.20" width="6.34" height="10.50" fill="#eb9a7c" />
<rect x="497.85" y="631.20" width="6.34" height="10.50" fill="#f1bea3" />
<rect x="504.19" y="631.20" width="6.34" height="10.50" fill="#e2e2e4" />
<rect x="510.53" y="631.20" width="6.34" height="10.50" fill="#f1bea3" />
<rect x="516.88" y="631.20" width="6.34" height="10.50" fill="#efdacf" />
<rect x="523.22" y="631.20" width="6.34" height="10.50" fill="#efdacf" />
<rect x="529.56" y="631.20" width="6.34" height="10.50" fill="#aec2e6" />
<rect x="535.90" y="631.20" width="6.34" height="10.50" fill="#efdacf" />
<rect x="542.24" y="631.20" width="6.34" height="10.50" fill="#d0dcf0" />
<rect x="548.59" y="631.20" width="6.34" height="10.50" fill="#e2e2e4" />
<rect x="554.93" y="631.20" width="6.34" height="10.50" fill="#f1bea3" />
<rect x="561.27" y="631.20" width="6.34" height="10.50" fill="#f1bea3" />
<rect x="567.61" y="631.20" width="6.34" height="10.50" fill="#eb9a7c" />
<rect x="573.95" y="631.20" width="6.34" height="10.50" fill="#d0dcf0" />
<rect x="580.30" y="631.20" width="6.34" height="10.50" fill="#e2e2e4" />
<rect x="586.64" y="631.20" width="6.34" height="10.50" fill="#f1bea3" />
<rect x="592.98" y="631.20" width="6.34" height="10.50" fill="#f1bea3" />
<rect x="599.32" y="631.20" width="6.34" height="10.50" fill="#d0dcf0" />
<rect x="605.66" y="631.20" width="6.34" height="10.50" fill="#efdacf" />
<rect x="612.01" y="631.20" width="6.34" height="10.50" fill="#eb9a7c" />
<rect x="618.35" y="631.20" width="6.34" height="10.50" fill="#b82230" />
<rect x="624.69" y="631.20" width="6.34" height="10.50" fill="#eb9a7c" />
<rect x="631.03" y="631.20" width="6.34" height="10.50" fill="#e47b63" />
<rect x="637.37" y="631.20" width="6.34" height="10.50" fill="#e47b63" />
<line x1="28.54" y1="528.00" x2="28.54" y2="641.70" stroke="rgba(30,30,30,0.75)" stroke-width="0.7" />
<line x1="34.88" y1="528.00" x2="34.88" y2="641.70" stroke="rgba(30,30,30,0.75)" stroke-width="0.7" />
<line x1="41.23" y1="528.00" x2="41.23" y2="641.70" stroke="rgba(30,30,30,0.75)" stroke-width="0.7" />
<line x1="47.57" y1="528.00" x2="47.57" y2="641.70" stroke="rgba(30,30,30,0.75)" stroke-width="0.7" />
<line x1="53.91" y1="528.00" x2="53.91" y2="641.70" stroke="rgba(30,30,30,0.75)" stroke-width="0.7" />
<line x1="60.25" y1="528.00" x2="60.25" y2="641.70" stroke="rgba(30,30,30,0.75)" stroke-width="0.7" />
<line x1="66.59" y1="528.00" x2="66.59" y2="641.70" stroke="rgba(30,30,30,0.75)" stroke-width="0.7" />
<line x1="72.94" y1="528.00" x2="72.94" y2="641.70" stroke="rgba(30,30,30,0.75)" stroke-width="0.7" />
<line x1="79.28" y1="528.00" x2="79.28" y2="641.70" stroke="rgba(30,30,30,0.75)" stroke-width="0.7" />
<line x1="85.62" y1="528.00" x2="85.62" y2="641.70" stroke="rgba(30,30,30,0.75)" stroke-width="0.7" />
<line x1="91.96" y1="528.00" x2="91.96" y2="641.70" stroke="rgba(30,30,30,0.75)" stroke-width="0.7" />
<line x1="98.30" y1="528.00" x2="98.30" y2="641.70" stroke="rgba(30,30,30,0.75)" stroke-width="0.7" />
<line x1="104.65" y1="528.00" x2="104.65" y2="641.70" stroke="rgba(30,30,30,0.75)" stroke-width="0.7" />
<line x1="110.99" y1="528.00" x2="110.99" y2="641.70" stroke="rgba(30,30,30,0.75)" stroke-width="0.7" />
<line x1="117.33" y1="528.00" x2="117.33" y2="641.70" stroke="rgba(30,30,30,0.75)" stroke-width="0.7" />
<line x1="123.67" y1="528.00" x2="123.67" y2="641.70" stroke="rgba(30,30,30,0.75)" stroke-width="0.7" />
<line x1="130.01" y1="528.00" x2="130.01" y2="641.70" stroke="rgba(30,30,30,0.75)" stroke-width="0.7" />
<line x1="136.36" y1="528.00" x2="136.36" y2="641.70" stroke="rgba(30,30,30,0.75)" stroke-width="0.7" />
<line x1="142.70" y1="528.00" x2="142.70" y2="641.70" stroke="rgba(30,30,30,0.75)" stroke-width="0.7" />
<line x1="149.04" y1="528.00" x2="149.04" y2="641.70" stroke="rgba(30,30,30,0.75)" stroke-width="0.7" />
<line x1="155.38" y1="528.00" x2="155.38" y2="641.70" stroke="rgba(30,30,30,0.75)" stroke-width="0.7" />
<line x1="161.72" y1="528.00" x2="161.72" y2="641.70" stroke="rgba(30,30,30,0.75)" stroke-width="0.7" />
<line x1="168.07" y1="528.00" x2="168.07" y2="641.70" stroke="rgba(30,30,30,0.75)" stroke-width="0.7" />
<line x1="174.41" y1="528.00" x2="174.41" y2="641.70" stroke="rgba(30,30,30,0.75)" stroke-width="0.7" />
<line x1="180.75" y1="528.00" x2="180.75" y2="641.70" stroke="rgba(30,30,30,0.75)" stroke-width="0.7" />
<line x1="187.09" y1="528.00" x2="187.09" y2="641.70" stroke="rgba(30,30,30,0.75)" stroke-width="0.7" />
<line x1="193.43" y1="528.00" x2="193.43" y2="641.70" stroke="rgba(30,30,30,0.75)" stroke-width="0.7" />
<line x1="199.78" y1="528.00" x2="199.78" y2="641.70" stroke="rgba(30,30,30,0.75)" stroke-width="0.7" />
<line x1="206.12" y1="528.00" x2="206.12" y2="641.70" stroke="rgba(30,30,30,0.75)" stroke-width="0.7" />
<line x1="212.46" y1="528.00" x2="212.46" y2="641.70" stroke="rgba(30,30,30,0.75)" stroke-width="0.7" />
<line x1="218.80" y1="528.00" x2="218.80" y2="641.70" stroke="rgba(30,30,30,0.75)" stroke-width="0.7" />
<line x1="225.14" y1="528.00" x2="225.14" y2="641.70" stroke="rgba(30,30,30,0.75)" stroke-width="0.7" />
<line x1="231.49" y1="528.00" x2="231.49" y2="641.70" stroke="rgba(30,30,30,0.75)" stroke-width="0.7" />
<line x1="237.83" y1="528.00" x2="237.83" y2="641.70" stroke="rgba(30,30,30,0.75)" stroke-width="0.7" />
<line x1="244.17" y1="528.00" x2="244.17" y2="641.70" stroke="rgba(30,30,30,0.75)" stroke-width="0.7" />
<line x1="250.51" y1="528.00" x2="250.51" y2="641.70" stroke="rgba(30,30,30,0.75)" stroke-width="0.7" />
<line x1="256.85" y1="528.00" x2="256.85" y2="641.70" stroke="rgba(30,30,30,0.75)" stroke-width="0.7" />
<line x1="263.20" y1="528.00" x2="263.20" y2="641.70" stroke="rgba(30,30,30,0.75)" stroke-width="0.7" />
<line x1="269.54" y1="528.00" x2="269.54" y2="641.70" stroke="rgba(30,30,30,0.75)" stroke-width="0.7" />
<line x1="275.88" y1="528.00" x2="275.88" y2="641.70" stroke="rgba(30,30,30,0.75)" stroke-width="0.7" />
<line x1="282.22" y1="528.00" x2="282.22" y2="641.70" stroke="rgba(30,30,30,0.75)" stroke-width="0.7" />
<line x1="288.56" y1="528.00" x2="288.56" y2="641.70" stroke="rgba(30,30,30,0.75)" stroke-width="0.7" />
<line x1="294.91" y1="528.00" x2="294.91" y2="641.70" stroke="rgba(30,30,30,0.75)" stroke-width="0.7" />
<line x1="301.25" y1="528.00" x2="301.25" y2="641.70" stroke="rgba(30,30,30,0.75)" stroke-width="0.7" />
<line x1="307.59" y1="528.00" x2="307.59" y2="641.70" stroke="rgba(30,30,30,0.75)" stroke-width="0.7" />
<line x1="313.93" y1="528.00" x2="313.93" y2="641.70" stroke="rgba(30,30,30,0.75)" stroke-width="0.7" />
<line x1="320.27" y1="528.00" x2="320.27" y2="641.70" stroke="rgba(30,30,30,0.75)" stroke-width="0.7" />
<line x1="326.62" y1="528.00" x2="326.62" y2="641.70" stroke="rgba(30,30,30,0.75)" stroke-width="0.7" />
<line x1="332.96" y1="528.00" x2="332.96" y2="641.70" stroke="rgba(30,30,30,0.75)" stroke-width="0.7" />
<line x1="339.30" y1="528.00" x2="339.30" y2="641.70" stroke="rgba(30,30,30,0.75)" stroke-width="0.7" />
<line x1="345.64" y1="528.00" x2="345.64" y2="641.70" stroke="rgba(30,30,30,0.75)" stroke-width="0.7" />
<line x1="351.98" y1="528.00" x2="351.98" y2="641.70" stroke="rgba(30,30,30,0.75)" stroke-width="0.7" />
<line x1="358.33" y1="528.00" x2="358.33" y2="641.70" stroke="rgba(30,30,30,0.75)" stroke-width="0.7" />
<line x1="364.67" y1="528.00" x2="364.67" y2="641.70" stroke="rgba(30,30,30,0.75)" stroke-width="0.7" />
<line x1="371.01" y1="528.00" x2="371.01" y2="641.70" stroke="rgba(30,30,30,0.75)" stroke-width="0.7" />
<line x1="377.35" y1="528.00" x2="377.35" y2="641.70" stroke="rgba(30,30,30,0.75)" stroke-width="0.7" />
<line x1="383.69" y1="528.00" x2="383.69" y2="641.70" stroke="rgba(30,30,30,0.75)" stroke-width="0.7" />
<line x1="390.04" y1="528.00" x2="390.04" y2="641.70" stroke="rgba(30,30,30,0.75)" stroke-width="0.7" />
<line x1="396.38" y1="528.00" x2="396.38" y2="641.70" stroke="rgba(30,30,30,0.75)" stroke-width="0.7" />
<line x1="402.72" y1="528.00" x2="402.72" y2="641.70" stroke="rgba(30,30,30,0.75)" stroke-width="0.7" />
<line x1="409.06" y1="528.00" x2="409.06" y2="641.70" stroke="rgba(30,30,30,0.75)" stroke-width="0.7" />
<line x1="415.40" y1="528.00" x2="415.40" y2="641.70" stroke="rgba(30,30,30,0.75)" stroke-width="0.7" />
<line x1="421.75" y1="528.00" x2="421.75" y2="641.70" stroke="rgba(30,30,30,0.75)" stroke-width="0.7" />
<line x1="428.09" y1="528.00" x2="428.09" y2="641.70" stroke="rgba(30,30,30,0.75)" stroke-width="0.7" />
<line x1="434.43" y1="528.00" x2="434.43" y2="641.70" stroke="rgba(30,30,30,0.75)" stroke-width="0.7" />
<line x1="440.77" y1="528.00" x2="440.77" y2="641.70" stroke="rgba(30,30,30,0.75)" stroke-width="0.7" />
<line x1="447.11" y1="528.00" x2="447.11" y2="641.70" stroke="rgba(30,30,30,0.75)" stroke-width="0.7" />
<line x1="453.46" y1="528.00" x2="453.46" y2="641.70" stroke="rgba(30,30,30,0.75)" stroke-width="0.7" />
<line x1="459.80" y1="528.00" x2="459.80" y2="641.70" stroke="rgba(30,30,30,0.75)" stroke-width="0.7" />
<line x1="466.14" y1="528.00" x2="466.14" y2="641.70" stroke="rgba(30,30,30,0.75)" stroke-width="0.7" />
<line x1="472.48" y1="528.00" x2="472.48" y2="641.70" stroke="rgba(30,30,30,0.75)" stroke-width="0.7" />
<line x1="478.82" y1="528.00" x2="478.82" y2="641.70" stroke="rgba(30,30,30,0.75)" stroke-width="0.7" />
<line x1="485.17" y1="528.00" x2="485.17" y2="641.70" stroke="rgba(30,30,30,0.75)" stroke-width="0.7" />
<line x1="491.51" y1="528.00" x2="491.51" y2="641.70" stroke="rgba(30,30,30,0.75)" stroke-width="0.7" />
<line x1="497.85" y1="528.00" x2="497.85" y2="641.70" stroke="rgba(30,30,30,0.75)" stroke-width="0.7" />
<line x1="504.19" y1="528.00" x2="504.19" y2="641.70" stroke="rgba(30,30,30,0.75)" stroke-width="0.7" />
<line x1="510.53" y1="528.00" x2="510.53" y2="641.70" stroke="rgba(30,30,30,0.75)" stroke-width="0.7" />
<line x1="516.88" y1="528.00" x2="516.88" y2="641.70" stroke="rgba(30,30,30,0.75)" stroke-width="0.7" />
<line x1="523.22" y1="528.00" x2="523.22" y2="641.70" stroke="rgba(30,30,30,0.75)" stroke-width="0.7" />
<line x1="529.56" y1="528.00" x2="529.56" y2="641.70" stroke="rgba(30,30,30,0.75)" stroke-width="0.7" />
<line x1="535.90" y1="528.00" x2="535.90" y2="641.70" stroke="rgba(30,30,30,0.75)" stroke-width="0.7" />
<line x1="542.24" y1="528.00" x2="542.24" y2="641.70" stroke="rgba(30,30,30,0.75)" stroke-width="0.7" />
<line x1="548.59" y1="528.00" x2="548.59" y2="641.70" stroke="rgba(30,30,30,0.75)" stroke-width="0.7" />
<line x1="554.93" y1="528.00" x2="554.93" y2="641.70" stroke="rgba(30,30,30,0.75)" stroke-width="0.7" />
<line x1="561.27" y1="528.00" x2="561.27" y2="641.70" stroke="rgba(30,30,30,0.75)" stroke-width="0.7" />
<line x1="567.61" y1="528.00" x2="567.61" y2="641.70" stroke="rgba(30,30,30,0.75)" stroke-width="0.7" />
<line x1="573.95" y1="528.00" x2="573.95" y2="641.70" stroke="rgba(30,30,30,0.75)" stroke-width="0.7" />
<line x1="580.30" y1="528.00" x2="580.30" y2="641.70" stroke="rgba(30,30,30,0.75)" stroke-width="0.7" />
<line x1="586.64" y1="528.00" x2="586.64" y2="641.70" stroke="rgba(30,30,30,0.75)" stroke-width="0.7" />
<line x1="592.98" y1="528.00" x2="592.98" y2="641.70" stroke="rgba(30,30,30,0.75)" stroke-width="0.7" />
<line x1="599.32" y1="528.00" x2="599.32" y2="641.70" stroke="rgba(30,30,30,0.75)" stroke-width="0.7" />
<line x1="605.66" y1="528.00" x2="605.66" y2="641.70" stroke="rgba(30,30,30,0.75)" stroke-width="0.7" />
<line x1="612.01" y1="528.00" x2="612.01" y2="641.70" stroke="rgba(30,30,30,0.75)" stroke-width="0.7" />
<line x1="618.35" y1="528.00" x2="618.35" y2="641.70" stroke="rgba(30,30,30,0.75)" stroke-width="0.7" />
<line x1="624.69" y1="528.00" x2="624.69" y2="641.70" stroke="rgba(30,30,30,0.75)" stroke-width="0.7" />
<line x1="631.03" y1="528.00" x2="631.03" y2="641.70" stroke="rgba(30,30,30,0.75)" stroke-width="0.7" />
<line x1="637.37" y1="528.00" x2="637.37" y2="641.70" stroke="rgba(30,30,30,0.75)" stroke-width="0.7" />
<line x1="22.20" y1="536.70" x2="643.72" y2="536.70" stroke="rgba(30,30,30,0.75)" stroke-width="0.7" />
<line x1="22.20" y1="547.20" x2="643.72" y2="547.20" stroke="rgba(30,30,30,0.75)" stroke-width="0.7" />
<line x1="22.20" y1="557.70" x2="643.72" y2="557.70" stroke="rgba(30,30,30,0.75)" stroke-width="0.7" />
<line x1="22.20" y1="568.20" x2="643.72" y2="568.20" stroke="rgba(30,30,30,0.75)" stroke-width="0.7" />
<line x1="22.20" y1="578.70" x2="643.72" y2="578.70" stroke="rgba(30,30,30,0.75)" stroke-width="0.7" />
<line x1="22.20" y1="589.20" x2="643.72" y2="589.20" stroke="rgba(30,30,30,0.75)" stroke-width="0.7" />
<line x1="22.20" y1="599.70" x2="643.72" y2="599.70" stroke="rgba(30,30,30,0.75)" stroke-width="0.7" />
<line x1="22.20" y1="610.20" x2="643.72" y2="610.20" stroke="rgba(30,30,30,0.75)" stroke-width="0.7" />
<line x1="22.20" y1="620.70" x2="643.72" y2="620.70" stroke="rgba(30,30,30,0.75)" stroke-width="0.7" />
<line x1="22.20" y1="631.20" x2="643.72" y2="631.20" stroke="rgba(30,30,30,0.75)" stroke-width="0.7" />
<text x="645.6" y="545.5" font-size="9.9" text-anchor="start" fill="#000" >HIBCH</text>
<text x="645.6" y="556.0" font-size="9.9" text-anchor="start" fill="#000" >HIBADH</text>
<text x="645.6" y="566.5" font-size="9.9" text-anchor="start" fill="#000" >MCEE</text>
<text x="645.6" y="577.0" font-size="9.9" text-anchor="start" fill="#000" >SUCLG2</text>
<text x="645.6" y="587.5" font-size="9.9" text-anchor="start" fill="#000" >PCCA</text>
<text x="645.6" y="598.0" font-size="9.9" text-anchor="start" fill="#000" >PCCB</text>
<text x="645.6" y="608.5" font-size="9.9" text-anchor="start" fill="#000" >SDHA</text>
<text x="645.6" y="619.0" font-size="9.9" text-anchor="start" fill="#000" >SDHC</text>
<text x="645.6" y="629.5" font-size="9.9" text-anchor="start" fill="#000" >SDHD</text>
<text x="645.6" y="640.0" font-size="9.9" text-anchor="start" fill="#000" >SDHB</text>
<path d="M31.3 508.0L31.3 500.3M25.4 528.0L25.4 508.0M37.3 513.5L37.3 508.0M31.7 528.0L31.7 513.5M42.8 515.6L42.8 513.5M38.1 528.0L38.1 515.6M47.6 519.5L47.6 515.6M44.4 528.0L44.4 519.5M50.7 528.0L50.7 519.5M44.4 519.5L50.7 519.5M38.1 515.6L47.6 515.6M31.7 513.5L42.8 513.5M25.4 508.0L37.3 508.0M194.0 500.4L194.0 500.3M77.3 507.9L77.3 500.4M60.3 518.6L60.3 507.9M57.1 528.0L57.1 518.6M63.4 528.0L63.4 518.6M57.1 518.6L63.4 518.6M94.3 510.5L94.3 507.9M80.1 512.2L80.1 510.5M72.9 516.3L72.9 512.2M69.8 528.0L69.8 516.3M76.1 528.0L76.1 516.3M69.8 516.3L76.1 516.3M87.2 515.5L87.2 512.2M82.4 528.0L82.4 515.5M92.0 518.5L92.0 515.5M88.8 528.0L88.8 518.5M95.1 528.0L95.1 518.5M88.8 518.5L95.1 518.5M82.4 515.5L92.0 515.5M72.9 512.2L87.2 512.2M108.6 513.5L108.6 510.5M101.5 528.0L101.5 513.5M115.7 514.6L115.7 513.5M107.8 528.0L107.8 514.6M123.7 516.7L123.7 514.6M117.3 523.1L117.3 516.7M114.2 528.0L114.2 523.1M120.5 528.0L120.5 523.1M114.2 523.1L120.5 523.1M130.0 523.1L130.0 516.7M126.8 528.0L126.8 523.1M133.2 528.0L133.2 523.1M126.8 523.1L133.2 523.1M117.3 516.7L130.0 516.7M107.8 514.6L123.7 514.6M101.5 513.5L115.7 513.5M80.1 510.5L108.6 510.5M60.3 507.9L94.3 507.9M310.8 503.6L310.8 500.4M144.3 509.9L144.3 503.6M139.5 528.0L139.5 509.9M149.0 515.5L149.0 509.9M145.9 528.0L145.9 515.5M152.2 528.0L152.2 515.5M145.9 515.5L152.2 515.5M139.5 509.9L149.0 509.9M477.2 506.3L477.2 503.6M334.9 508.2L334.9 506.3M229.0 510.3L229.0 508.2M194.8 511.3L194.8 510.3M176.4 513.7L176.4 511.3M164.1 514.7L164.1 513.7M158.6 528.0L158.6 514.7M169.7 515.3L169.7 514.7M164.9 528.0L164.9 515.3M174.4 519.2L174.4 515.3M171.2 528.0L171.2 519.2M177.6 528.0L177.6 519.2M171.2 519.2L177.6 519.2M164.9 515.3L174.4 515.3M158.6 514.7L169.7 514.7M188.7 515.7L188.7 513.7M183.9 528.0L183.9 515.7M193.4 520.7L193.4 515.7M190.3 528.0L190.3 520.7M196.6 528.0L196.6 520.7M190.3 520.7L196.6 520.7M183.9 515.7L193.4 515.7M164.1 513.7L188.7 513.7M213.3 514.7L213.3 511.3M206.1 515.8L206.1 514.7M202.9 528.0L202.9 515.8M209.3 528.0L209.3 515.8M202.9 515.8L209.3 515.8M220.4 517.6L220.4 514.7M215.6 528.0L215.6 517.6M225.1 520.8L225.1 517.6M222.0 528.0L222.0 520.8M228.3 528.0L228.3 520.8M222.0 520.8L228.3 520.8M215.6 517.6L225.1 517.6M206.1 514.7L220.4 514.7M176.4 511.3L213.3 511.3M263.1 510.4L263.1 510.3M234.7 528.0L234.7 510.4M291.6 513.4L291.6 510.4M255.9 516.1L255.9 513.4M245.8 519.3L245.8 516.1M241.0 528.0L241.0 519.3M250.5 521.1L250.5 519.3M247.3 528.0L247.3 521.1M253.7 528.0L253.7 521.1M247.3 521.1L253.7 521.1M241.0 519.3L250.5 519.3M266.0 516.7L266.0 516.1M260.0 528.0L260.0 516.7M271.9 517.9L271.9 516.7M266.4 528.0L266.4 517.9M277.5 519.9L277.5 517.9M272.7 528.0L272.7 519.9M282.2 519.9L282.2 519.9M279.1 528.0L279.1 519.9M285.4 528.0L285.4 519.9M279.1 519.9L285.4 519.9M272.7 519.9L282.2 519.9M266.4 517.9L277.5 517.9M260.0 516.7L271.9 516.7M245.8 516.1L266.0 516.1M327.3 513.4L327.3 513.4M301.2 515.1L301.2 513.4M294.9 518.7L294.9 515.1M291.7 528.0L291.7 518.7M298.1 528.0L298.1 518.7M291.7 518.7L298.1 518.7M307.6 519.8L307.6 515.1M304.4 528.0L304.4 519.8M310.8 528.0L310.8 519.8M304.4 519.8L310.8 519.8M294.9 515.1L307.6 515.1M353.4 514.2L353.4 513.4M326.6 516.2L326.6 514.2M317.1 528.0L317.1 516.2M336.1 517.4L336.1 516.2M326.6 521.6L326.6 517.4M323.4 528.0L323.4 521.6M329.8 528.0L329.8 521.6M323.4 521.6L329.8 521.6M345.6 518.8L345.6 517.4M339.3 521.8L339.3 518.8M336.1 528.0L336.1 521.8M342.5 528.0L342.5 521.8M336.1 521.8L342.5 521.8M352.0 520.5L352.0 518.8M348.8 528.0L348.8 520.5M355.2 528.0L355.2 520.5M348.8 520.5L355.2 520.5M339.3 518.8L352.0 518.8M326.6 517.4L345.6 517.4M317.1 516.2L336.1 516.2M380.1 514.3L380.1 514.2M366.3 519.6L366.3 514.3M361.5 528.0L361.5 519.6M371.0 522.9L371.0 519.6M367.8 528.0L367.8 522.9M374.2 528.0L374.2 522.9M367.8 522.9L374.2 522.9M361.5 519.6L371.0 519.6M394.0 515.9L394.0 514.3M385.3 518.2L385.3 515.9M380.5 528.0L380.5 518.2M390.0 522.1L390.0 518.2M386.9 528.0L386.9 522.1M393.2 528.0L393.2 522.1M386.9 522.1L393.2 522.1M380.5 518.2L390.0 518.2M402.7 517.7L402.7 515.9M399.5 528.0L399.5 517.7M405.9 528.0L405.9 517.7M399.5 517.7L405.9 517.7M385.3 515.9L402.7 515.9M366.3 514.3L394.0 514.3M326.6 514.2L380.1 514.2M301.2 513.4L353.4 513.4M255.9 513.4L327.3 513.4M234.7 510.4L291.6 510.4M194.8 510.3L263.1 510.3M440.9 508.2L440.9 508.2M417.8 511.0L417.8 508.2M412.2 528.0L412.2 511.0M423.3 516.9L423.3 511.0M418.6 528.0L418.6 516.9M428.1 520.7L428.1 516.9M424.9 528.0L424.9 520.7M431.3 528.0L431.3 520.7M424.9 520.7L431.3 520.7M418.6 516.9L428.1 516.9M412.2 511.0L423.3 511.0M464.0 509.5L464.0 508.2M437.6 528.0L437.6 509.5M490.4 512.4L490.4 509.5M461.0 515.6L461.0 512.4M449.5 516.4L449.5 515.6M443.9 528.0L443.9 516.4M455.0 518.0L455.0 516.4M450.3 528.0L450.3 518.0M459.8 520.3L459.8 518.0M456.6 528.0L456.6 520.3M463.0 528.0L463.0 520.3M456.6 520.3L463.0 520.3M450.3 518.0L459.8 518.0M443.9 516.4L455.0 516.4M472.5 517.1L472.5 515.6M469.3 528.0L469.3 517.1M475.7 528.0L475.7 517.1M469.3 517.1L475.7 517.1M449.5 515.6L472.5 515.6M519.8 512.4L519.8 512.4M489.9 514.3L489.9 512.4M485.2 516.0L485.2 514.3M482.0 528.0L482.0 516.0M488.3 528.0L488.3 516.0M482.0 516.0L488.3 516.0M494.7 528.0L494.7 514.3M485.2 514.3L494.7 514.3M549.8 514.0L549.8 512.4M520.0 516.3L520.0 514.0M508.2 519.5L508.2 516.3M501.0 528.0L501.0 519.5M515.3 520.5L515.3 519.5M510.5 521.2L510.5 520.5M507.4 528.0L507.4 521.2M513.7 528.0L513.7 521.2M507.4 521.2L513.7 521.2M520.0 528.0L520.0 520.5M510.5 520.5L520.0 520.5M501.0 519.5L515.3 519.5M531.9 516.3L531.9 516.3M526.4 528.0L526.4 516.3M537.5 519.0L537.5 516.3M532.7 528.0L532.7 519.0M542.2 521.2L542.2 519.0M539.1 528.0L539.1 521.2M545.4 528.0L545.4 521.2M539.1 521.2L545.4 521.2M532.7 519.0L542.2 519.0M526.4 516.3L537.5 516.3M508.2 516.3L531.9 516.3M579.5 514.4L579.5 514.0M564.4 516.3L564.4 514.4M554.9 518.9L554.9 516.3M551.8 528.0L551.8 518.9M558.1 528.0L558.1 518.9M551.8 518.9L558.1 518.9M574.0 517.7L574.0 516.3M567.6 520.0L567.6 517.7M564.4 528.0L564.4 520.0M570.8 528.0L570.8 520.0M564.4 520.0L570.8 520.0M580.3 519.8L580.3 517.7M577.1 528.0L577.1 519.8M583.5 528.0L583.5 519.8M577.1 519.8L583.5 519.8M567.6 517.7L580.3 517.7M554.9 516.3L574.0 516.3M594.6 516.0L594.6 514.4M589.8 528.0L589.8 516.0M599.3 522.0L599.3 516.0M596.2 528.0L596.2 522.0M602.5 528.0L602.5 522.0M596.2 522.0L602.5 522.0M589.8 516.0L599.3 516.0M564.4 514.4L594.6 514.4M520.0 514.0L579.5 514.0M489.9 512.4L549.8 512.4M461.0 512.4L519.8 512.4M437.6 509.5L490.4 509.5M417.8 508.2L464.0 508.2M229.0 508.2L440.9 508.2M619.5 507.9L619.5 506.3M612.0 518.3L612.0 507.9M608.8 528.0L608.8 518.3M615.2 528.0L615.2 518.3M608.8 518.3L615.2 518.3M627.1 514.9L627.1 507.9M621.5 528.0L621.5 514.9M632.6 522.1L632.6 514.9M627.9 528.0L627.9 522.1M637.4 522.8L637.4 522.1M634.2 528.0L634.2 522.8M640.5 528.0L640.5 522.8M634.2 522.8L640.5 522.8M627.9 522.1L637.4 522.1M621.5 514.9L632.6 514.9M612.0 507.9L627.1 507.9M334.9 506.3L619.5 506.3M144.3 503.6L477.2 503.6M77.3 500.4L310.8 500.4M31.3 500.3L194.0 500.3" stroke="#9a9a9a" stroke-width="0.8" fill="none"/>
<line x1="54.00" y1="645.50" x2="155.10" y2="645.50" stroke="#333" stroke-width="1" />
<text x="81.8" y="659.3" font-size="14.3">MitoS<tspan font-size="9" dy="-5">high</tspan></text>
<line x1="426.70" y1="646.50" x2="604.80" y2="646.50" stroke="#333" stroke-width="1" />
<text x="503.8" y="661.7" font-size="14">MitoS<tspan font-size="8.8" dy="-5">med</tspan></text>
<text x="7.2" y="672.1" font-size="22" text-anchor="start" fill="#000" >g</text>
<text x="73.3" y="680.8" font-size="12" text-anchor="middle" fill="#111" >HIBCH</text>
<rect x="27.40" y="718.40" width="15.20" height="27.30" fill="#9aaadb" stroke="#8a8f9a" stroke-width="0.6" />
<line x1="27.40" y1="735.20" x2="42.60" y2="735.20" stroke="#666" stroke-width="0.8" />
<rect x="45.80" y="723.10" width="15.70" height="31.50" fill="#9aaadb" stroke="#8a8f9a" stroke-width="0.6" />
<line x1="45.80" y1="742.30" x2="61.50" y2="742.30" stroke="#666" stroke-width="0.8" />
<rect x="65.00" y="742.70" width="15.40" height="23.10" fill="#9aaadb" stroke="#8a8f9a" stroke-width="0.6" />
<line x1="65.00" y1="754.20" x2="80.40" y2="754.20" stroke="#666" stroke-width="0.8" />
<rect x="84.20" y="739.80" width="15.40" height="11.50" fill="#9aaadb" stroke="#8a8f9a" stroke-width="0.6" />
<line x1="84.20" y1="743.10" x2="99.60" y2="743.10" stroke="#666" stroke-width="0.8" />
<rect x="101.90" y="727.30" width="15.80" height="21.20" fill="#9aaadb" stroke="#8a8f9a" stroke-width="0.6" />
<line x1="101.90" y1="735.40" x2="117.70" y2="735.40" stroke="#666" stroke-width="0.8" />
<circle cx="34.6" cy="690.2" r="1.45" fill="#f0922e" stroke="#5a3a1a" stroke-width="0.4"/>
<circle cx="34.6" cy="694.1" r="1.45" fill="#f0922e" stroke="#5a3a1a" stroke-width="0.4"/>
<circle cx="34.6" cy="698.0" r="1.45" fill="#f0922e" stroke="#5a3a1a" stroke-width="0.4"/>
<circle cx="30.8" cy="707.1" r="1.45" fill="#f0922e" stroke="#5a3a1a" stroke-width="0.4"/>
<circle cx="28.6" cy="709.8" r="1.45" fill="#f0922e" stroke="#5a3a1a" stroke-width="0.4"/>
<circle cx="31.8" cy="710.4" r="1.45" fill="#f0922e" stroke="#5a3a1a" stroke-width="0.4"/>
<circle cx="34.7" cy="708.9" r="1.45" fill="#f0922e" stroke="#5a3a1a" stroke-width="0.4"/>
<circle cx="37.6" cy="710.4" r="1.45" fill="#f0922e" stroke="#5a3a1a" stroke-width="0.4"/>
<circle cx="40.4" cy="708.9" r="1.45" fill="#f0922e" stroke="#5a3a1a" stroke-width="0.4"/>
<circle cx="28.2" cy="713.3" r="1.45" fill="#f0922e" stroke="#5a3a1a" stroke-width="0.4"/>
<circle cx="31.4" cy="714.3" r="1.45" fill="#f0922e" stroke="#5a3a1a" stroke-width="0.4"/>
<circle cx="34.8" cy="713.4" r="1.45" fill="#f0922e" stroke="#5a3a1a" stroke-width="0.4"/>
<circle cx="37.8" cy="714.3" r="1.45" fill="#f0922e" stroke="#5a3a1a" stroke-width="0.4"/>
<circle cx="40.6" cy="714.3" r="1.45" fill="#f0922e" stroke="#5a3a1a" stroke-width="0.4"/>
<circle cx="32.0" cy="719.7" r="1.45" fill="#c9826c" stroke="#9a6a5c" stroke-width="0.4"/>
<circle cx="34.6" cy="721.5" r="1.45" fill="#c9826c" stroke="#9a6a5c" stroke-width="0.4"/>
<circle cx="34.6" cy="725.4" r="1.45" fill="#c9826c" stroke="#9a6a5c" stroke-width="0.4"/>
<circle cx="37.9" cy="725.0" r="1.45" fill="#c9826c" stroke="#9a6a5c" stroke-width="0.4"/>
<circle cx="31.6" cy="727.9" r="1.45" fill="#c9826c" stroke="#9a6a5c" stroke-width="0.4"/>
<circle cx="34.8" cy="728.7" r="1.45" fill="#c9826c" stroke="#9a6a5c" stroke-width="0.4"/>
<circle cx="37.9" cy="728.3" r="1.45" fill="#c9826c" stroke="#9a6a5c" stroke-width="0.4"/>
<circle cx="39.7" cy="730.9" r="1.45" fill="#c9826c" stroke="#9a6a5c" stroke-width="0.4"/>
<circle cx="29.1" cy="731.9" r="1.45" fill="#c9826c" stroke="#9a6a5c" stroke-width="0.4"/>
<circle cx="32.2" cy="732.6" r="1.45" fill="#c9826c" stroke="#9a6a5c" stroke-width="0.4"/>
<circle cx="36.9" cy="732.4" r="1.45" fill="#c9826c" stroke="#9a6a5c" stroke-width="0.4"/>
<circle cx="34.6" cy="734.2" r="1.45" fill="#c9826c" stroke="#9a6a5c" stroke-width="0.4"/>
<circle cx="41.2" cy="733.8" r="1.45" fill="#c9826c" stroke="#9a6a5c" stroke-width="0.4"/>
<circle cx="28.3" cy="736.4" r="1.45" fill="#f0922e" stroke="#5a3a1a" stroke-width="0.4"/>
<circle cx="31.4" cy="736.5" r="1.45" fill="#c9826c" stroke="#9a6a5c" stroke-width="0.4"/>
<circle cx="38.9" cy="736.4" r="1.45" fill="#c9826c" stroke="#9a6a5c" stroke-width="0.4"/>
<circle cx="36.1" cy="737.9" r="1.45" fill="#c9826c" stroke="#9a6a5c" stroke-width="0.4"/>
<circle cx="33.4" cy="739.1" r="1.45" fill="#c9826c" stroke="#9a6a5c" stroke-width="0.4"/>
<circle cx="28.7" cy="741.0" r="1.45" fill="#c9826c" stroke="#9a6a5c" stroke-width="0.4"/>
<circle cx="31.4" cy="742.0" r="1.45" fill="#c9826c" stroke="#9a6a5c" stroke-width="0.4"/>
<circle cx="34.8" cy="742.0" r="1.45" fill="#c9826c" stroke="#9a6a5c" stroke-width="0.4"/>
<circle cx="37.9" cy="741.6" r="1.45" fill="#c9826c" stroke="#9a6a5c" stroke-width="0.4"/>
<circle cx="40.8" cy="740.9" r="1.45" fill="#c9826c" stroke="#9a6a5c" stroke-width="0.4"/>
<circle cx="33.2" cy="744.8" r="1.45" fill="#f0922e" stroke="#5a3a1a" stroke-width="0.4"/>
<circle cx="39.9" cy="744.6" r="1.45" fill="#c9826c" stroke="#9a6a5c" stroke-width="0.4"/>
<circle cx="26.5" cy="733.8" r="1.45" fill="#f0922e" stroke="#5a3a1a" stroke-width="0.4"/>
<circle cx="42.6" cy="731.7" r="1.45" fill="#f0922e" stroke="#5a3a1a" stroke-width="0.4"/>
<circle cx="26.5" cy="740.5" r="1.45" fill="#f0922e" stroke="#5a3a1a" stroke-width="0.4"/>
<circle cx="42.6" cy="740.3" r="1.45" fill="#f0922e" stroke="#5a3a1a" stroke-width="0.4"/>
<circle cx="26.5" cy="744.0" r="1.45" fill="#f0922e" stroke="#5a3a1a" stroke-width="0.4"/>
<circle cx="29.0" cy="746.4" r="1.45" fill="#f0922e" stroke="#5a3a1a" stroke-width="0.4"/>
<circle cx="31.9" cy="747.8" r="1.45" fill="#f0922e" stroke="#5a3a1a" stroke-width="0.4"/>
<circle cx="34.6" cy="748.4" r="1.45" fill="#f0922e" stroke="#5a3a1a" stroke-width="0.4"/>
<circle cx="37.1" cy="746.6" r="1.45" fill="#f0922e" stroke="#5a3a1a" stroke-width="0.4"/>
<circle cx="31.3" cy="751.9" r="1.45" fill="#f0922e" stroke="#5a3a1a" stroke-width="0.4"/>
<circle cx="33.6" cy="754.2" r="1.45" fill="#f0922e" stroke="#5a3a1a" stroke-width="0.4"/>
<circle cx="36.5" cy="753.6" r="1.45" fill="#f0922e" stroke="#5a3a1a" stroke-width="0.4"/>
<circle cx="29.0" cy="758.3" r="1.45" fill="#f0922e" stroke="#5a3a1a" stroke-width="0.4"/>
<circle cx="31.3" cy="760.0" r="1.45" fill="#f0922e" stroke="#5a3a1a" stroke-width="0.4"/>
<circle cx="34.6" cy="760.6" r="1.45" fill="#f0922e" stroke="#5a3a1a" stroke-width="0.4"/>
<circle cx="37.7" cy="760.0" r="1.45" fill="#f0922e" stroke="#5a3a1a" stroke-width="0.4"/>
<circle cx="40.4" cy="758.3" r="1.45" fill="#f0922e" stroke="#5a3a1a" stroke-width="0.4"/>
<circle cx="34.6" cy="757.1" r="1.45" fill="#f0922e" stroke="#5a3a1a" stroke-width="0.4"/>
<circle cx="34.6" cy="767.6" r="1.45" fill="#f0922e" stroke="#5a3a1a" stroke-width="0.4"/>
<circle cx="34.6" cy="775.9" r="1.45" fill="#f0922e" stroke="#5a3a1a" stroke-width="0.4"/>
<circle cx="53.5" cy="715.0" r="1.45" fill="#3a5db0" stroke="#5a3a1a" stroke-width="0.4"/>
<circle cx="50.4" cy="723.1" r="1.45" fill="#3a5db0" stroke="#5a3a1a" stroke-width="0.4"/>
<circle cx="55.8" cy="721.5" r="1.45" fill="#3a5db0" stroke="#5a3a1a" stroke-width="0.4"/>
<circle cx="53.5" cy="723.8" r="1.45" fill="#3a5db0" stroke="#5a3a1a" stroke-width="0.4"/>
<circle cx="50.4" cy="742.3" r="1.45" fill="#5e7ac0" stroke="#556" stroke-width="0.4"/>
<circle cx="55.8" cy="742.3" r="1.45" fill="#5e7ac0" stroke="#556" stroke-width="0.4"/>
<circle cx="53.5" cy="755.2" r="1.45" fill="#3a5db0" stroke="#5a3a1a" stroke-width="0.4"/>
<circle cx="50.4" cy="761.9" r="1.45" fill="#3a5db0" stroke="#5a3a1a" stroke-width="0.4"/>
<circle cx="54.2" cy="763.8" r="1.45" fill="#3a5db0" stroke="#5a3a1a" stroke-width="0.4"/>
<circle cx="72.5" cy="733.1" r="1.45" fill="#8e44ad" stroke="#5a3a1a" stroke-width="0.4"/>
<circle cx="71.5" cy="737.9" r="1.45" fill="#8e44ad" stroke="#5a3a1a" stroke-width="0.4"/>
<circle cx="72.5" cy="740.8" r="1.45" fill="#8e44ad" stroke="#5a3a1a" stroke-width="0.4"/>
<circle cx="72.5" cy="748.5" r="1.45" fill="#926abe" stroke="#556" stroke-width="0.4"/>
<circle cx="70.2" cy="752.3" r="1.45" fill="#926abe" stroke="#556" stroke-width="0.4"/>
<circle cx="74.0" cy="756.2" r="1.45" fill="#926abe" stroke="#556" stroke-width="0.4"/>
<circle cx="70.2" cy="768.7" r="1.45" fill="#8e44ad" stroke="#5a3a1a" stroke-width="0.4"/>
<circle cx="72.7" cy="769.2" r="1.45" fill="#8e44ad" stroke="#5a3a1a" stroke-width="0.4"/>
<circle cx="72.5" cy="783.1" r="1.45" fill="#8e44ad" stroke="#5a3a1a" stroke-width="0.4"/>
<circle cx="91.5" cy="723.5" r="1.45" fill="#2a9a4a" stroke="#5a3a1a" stroke-width="0.4"/>
<circle cx="89.4" cy="737.9" r="1.45" fill="#2a9a4a" stroke="#5a3a1a" stroke-width="0.4"/>
<circle cx="93.3" cy="738.8" r="1.45" fill="#2a9a4a" stroke="#5a3a1a" stroke-width="0.4"/>
<circle cx="89.4" cy="740.8" r="1.45" fill="#54a081" stroke="#556" stroke-width="0.4"/>
<circle cx="91.5" cy="741.7" r="1.45" fill="#54a081" stroke="#556" stroke-width="0.4"/>
<circle cx="93.3" cy="743.7" r="1.45" fill="#54a081" stroke="#556" stroke-width="0.4"/>
<circle cx="89.4" cy="745.6" r="1.45" fill="#54a081" stroke="#556" stroke-width="0.4"/>
<circle cx="91.5" cy="745.6" r="1.45" fill="#54a081" stroke="#556" stroke-width="0.4"/>
<circle cx="88.8" cy="756.2" r="1.45" fill="#2a9a4a" stroke="#5a3a1a" stroke-width="0.4"/>
<circle cx="93.3" cy="757.1" r="1.45" fill="#2a9a4a" stroke="#5a3a1a" stroke-width="0.4"/>
<circle cx="91.5" cy="761.9" r="1.45" fill="#2a9a4a" stroke="#5a3a1a" stroke-width="0.4"/>
<circle cx="108.1" cy="724.4" r="1.45" fill="#d8203a" stroke="#5a3a1a" stroke-width="0.4"/>
<circle cx="111.2" cy="725.0" r="1.45" fill="#d8203a" stroke="#5a3a1a" stroke-width="0.4"/>
<circle cx="110.6" cy="728.3" r="1.45" fill="#c05477" stroke="#556" stroke-width="0.4"/>
<circle cx="110.6" cy="733.1" r="1.45" fill="#c05477" stroke="#556" stroke-width="0.4"/>
<circle cx="110.6" cy="737.9" r="1.45" fill="#c05477" stroke="#556" stroke-width="0.4"/>
<circle cx="110.0" cy="744.6" r="1.45" fill="#c05477" stroke="#556" stroke-width="0.4"/>
<circle cx="110.6" cy="760.0" r="1.45" fill="#d8203a" stroke="#5a3a1a" stroke-width="0.4"/>
<circle cx="110.6" cy="764.8" r="1.45" fill="#d8203a" stroke="#5a3a1a" stroke-width="0.4"/>
<rect x="25.40" y="685.20" width="94.80" height="101.90" fill="none" stroke="#777" stroke-width="1.0" />
<line x1="21.00" y1="698.10" x2="25.40" y2="698.10" stroke="#666" stroke-width="0.9" />
<text x="17.4" y="700.9" font-size="8.0" text-anchor="end" fill="#444" >6</text>
<line x1="21.00" y1="720.20" x2="25.40" y2="720.20" stroke="#666" stroke-width="0.9" />
<text x="17.4" y="723.0" font-size="8.0" text-anchor="end" fill="#444" >5</text>
<line x1="21.00" y1="742.30" x2="25.40" y2="742.30" stroke="#666" stroke-width="0.9" />
<text x="17.4" y="745.1" font-size="8.0" text-anchor="end" fill="#444" >4</text>
<line x1="21.00" y1="764.40" x2="25.40" y2="764.40" stroke="#666" stroke-width="0.9" />
<text x="17.4" y="767.2" font-size="8.0" text-anchor="end" fill="#444" >3</text>
<line x1="21.00" y1="786.50" x2="25.40" y2="786.50" stroke="#666" stroke-width="0.9" />
<text x="17.4" y="789.3" font-size="8.0" text-anchor="end" fill="#444" >2</text>
<line x1="34.60" y1="787.10" x2="34.60" y2="792.10" stroke="#666" stroke-width="0.9" />
<text x="0" y="0" font-size="7.9" text-anchor="end" fill="#222" transform="translate(38.9,799.1) rotate(-45)">ARPC</text>
<line x1="53.50" y1="787.10" x2="53.50" y2="792.10" stroke="#666" stroke-width="0.9" />
<text x="0" y="0" font-size="7.9" text-anchor="end" fill="#222" transform="translate(57.8,799.1) rotate(-45)">ARLPC</text>
<line x1="72.50" y1="787.10" x2="72.50" y2="792.10" stroke="#666" stroke-width="0.9" />
<text x="0" y="0" font-size="7.9" text-anchor="end" fill="#222" transform="translate(76.8,799.1) rotate(-45)">NEPC</text>
<line x1="91.50" y1="787.10" x2="91.50" y2="792.10" stroke="#666" stroke-width="0.9" />
<text x="0" y="0" font-size="7.9" text-anchor="end" fill="#222" transform="translate(95.8,799.1) rotate(-45)">AMPC</text>
<line x1="110.60" y1="787.10" x2="110.60" y2="792.10" stroke="#666" stroke-width="0.9" />
<text x="0" y="0" font-size="7.9" text-anchor="end" fill="#222" transform="translate(114.9,799.1) rotate(-45)">DNPC</text>
<text x="0" y="0" font-size="7.6" text-anchor="middle" fill="#222" transform="translate(8.4,734.4) rotate(-90)">log2(HIBCH FPKM)</text>
<path d="M34.6 715.8 V708.5 H72.7 V735" stroke="#111" stroke-width="1.1" fill="none" />
<text x="53.7" y="709.7" font-size="14" text-anchor="middle" fill="#111" >*</text>
<text x="203.7" y="684.0" font-size="12" text-anchor="middle" fill="#111" >SUCLG2</text>
<rect x="152.60" y="705.40" width="16.30" height="17.50" fill="#9aaadb" stroke="#8a8f9a" stroke-width="0.6" />
<line x1="152.60" y1="715.00" x2="168.90" y2="715.00" stroke="#666" stroke-width="0.8" />
<rect x="171.90" y="722.00" width="15.10" height="25.40" fill="#9aaadb" stroke="#8a8f9a" stroke-width="0.6" />
<line x1="171.90" y1="731.30" x2="187.00" y2="731.30" stroke="#666" stroke-width="0.8" />
<rect x="190.50" y="732.20" width="15.20" height="14.70" fill="#9aaadb" stroke="#8a8f9a" stroke-width="0.6" />
<line x1="190.50" y1="734.30" x2="205.70" y2="734.30" stroke="#666" stroke-width="0.8" />
<rect x="209.20" y="725.20" width="15.20" height="19.30" fill="#9aaadb" stroke="#8a8f9a" stroke-width="0.6" />
<line x1="209.20" y1="731.30" x2="224.40" y2="731.30" stroke="#666" stroke-width="0.8" />
<rect x="227.60" y="724.80" width="15.40" height="20.40" fill="#9aaadb" stroke="#8a8f9a" stroke-width="0.6" />
<line x1="227.60" y1="727.00" x2="243.00" y2="727.00" stroke="#666" stroke-width="0.8" />
<circle cx="166.0" cy="691.5" r="1.45" fill="#f0922e" stroke="#5a3a1a" stroke-width="0.4"/>
<circle cx="163.3" cy="692.7" r="1.45" fill="#f0922e" stroke="#5a3a1a" stroke-width="0.4"/>
<circle cx="157.9" cy="693.3" r="1.45" fill="#f0922e" stroke="#5a3a1a" stroke-width="0.4"/>
<circle cx="160.7" cy="694.5" r="1.45" fill="#f0922e" stroke="#5a3a1a" stroke-width="0.4"/>
<circle cx="155.3" cy="696.6" r="1.45" fill="#f0922e" stroke="#5a3a1a" stroke-width="0.4"/>
<circle cx="158.6" cy="696.8" r="1.45" fill="#f0922e" stroke="#5a3a1a" stroke-width="0.4"/>
<circle cx="163.5" cy="697.8" r="1.45" fill="#f0922e" stroke="#5a3a1a" stroke-width="0.4"/>
<circle cx="153.3" cy="699.9" r="1.45" fill="#f0922e" stroke="#5a3a1a" stroke-width="0.4"/>
<circle cx="155.1" cy="701.3" r="1.45" fill="#f0922e" stroke="#5a3a1a" stroke-width="0.4"/>
<circle cx="158.1" cy="701.3" r="1.45" fill="#f0922e" stroke="#5a3a1a" stroke-width="0.4"/>
<circle cx="163.7" cy="702.4" r="1.45" fill="#f0922e" stroke="#5a3a1a" stroke-width="0.4"/>
<circle cx="166.5" cy="701.3" r="1.45" fill="#f0922e" stroke="#5a3a1a" stroke-width="0.4"/>
<circle cx="160.9" cy="702.9" r="1.45" fill="#f0922e" stroke="#5a3a1a" stroke-width="0.4"/>
<circle cx="157.9" cy="704.5" r="1.45" fill="#f0922e" stroke="#5a3a1a" stroke-width="0.4"/>
<circle cx="153.7" cy="708.0" r="1.45" fill="#f0922e" stroke="#5a3a1a" stroke-width="0.4"/>
<circle cx="160.7" cy="706.1" r="1.45" fill="#f0922e" stroke="#5a3a1a" stroke-width="0.4"/>
<circle cx="164.0" cy="705.9" r="1.45" fill="#f0922e" stroke="#5a3a1a" stroke-width="0.4"/>
<circle cx="156.0" cy="710.1" r="1.45" fill="#c9826c" stroke="#9a6a5c" stroke-width="0.4"/>
<circle cx="160.7" cy="709.4" r="1.45" fill="#c9826c" stroke="#9a6a5c" stroke-width="0.4"/>
<circle cx="165.1" cy="708.9" r="1.45" fill="#c9826c" stroke="#9a6a5c" stroke-width="0.4"/>
<circle cx="153.7" cy="712.0" r="1.45" fill="#f0922e" stroke="#5a3a1a" stroke-width="0.4"/>
<circle cx="158.4" cy="712.4" r="1.45" fill="#c9826c" stroke="#9a6a5c" stroke-width="0.4"/>
<circle cx="164.0" cy="711.7" r="1.45" fill="#c9826c" stroke="#9a6a5c" stroke-width="0.4"/>
<circle cx="155.8" cy="714.5" r="1.45" fill="#c9826c" stroke="#9a6a5c" stroke-width="0.4"/>
<circle cx="161.2" cy="713.3" r="1.45" fill="#c9826c" stroke="#9a6a5c" stroke-width="0.4"/>
<circle cx="167.2" cy="713.8" r="1.45" fill="#c9826c" stroke="#9a6a5c" stroke-width="0.4"/>
<circle cx="158.8" cy="716.1" r="1.45" fill="#c9826c" stroke="#9a6a5c" stroke-width="0.4"/>
<circle cx="162.1" cy="716.6" r="1.45" fill="#c9826c" stroke="#9a6a5c" stroke-width="0.4"/>
<circle cx="165.3" cy="715.9" r="1.45" fill="#c9826c" stroke="#9a6a5c" stroke-width="0.4"/>
<circle cx="156.0" cy="718.5" r="1.45" fill="#c9826c" stroke="#9a6a5c" stroke-width="0.4"/>
<circle cx="159.8" cy="718.7" r="1.45" fill="#c9826c" stroke="#9a6a5c" stroke-width="0.4"/>
<circle cx="163.0" cy="719.6" r="1.45" fill="#c9826c" stroke="#9a6a5c" stroke-width="0.4"/>
<circle cx="166.3" cy="718.2" r="1.45" fill="#c9826c" stroke="#9a6a5c" stroke-width="0.4"/>
<circle cx="161.2" cy="721.5" r="1.45" fill="#c9826c" stroke="#9a6a5c" stroke-width="0.4"/>
<circle cx="165.3" cy="721.5" r="1.45" fill="#c9826c" stroke="#9a6a5c" stroke-width="0.4"/>
<circle cx="168.9" cy="708.0" r="1.45" fill="#f0922e" stroke="#5a3a1a" stroke-width="0.4"/>
<circle cx="169.0" cy="711.5" r="1.45" fill="#f0922e" stroke="#5a3a1a" stroke-width="0.4"/>
<circle cx="152.6" cy="716.8" r="1.45" fill="#f0922e" stroke="#5a3a1a" stroke-width="0.4"/>
<circle cx="169.0" cy="716.8" r="1.45" fill="#f0922e" stroke="#5a3a1a" stroke-width="0.4"/>
<circle cx="152.6" cy="721.0" r="1.45" fill="#f0922e" stroke="#5a3a1a" stroke-width="0.4"/>
<circle cx="169.0" cy="721.0" r="1.45" fill="#f0922e" stroke="#5a3a1a" stroke-width="0.4"/>
<circle cx="155.6" cy="722.6" r="1.45" fill="#f0922e" stroke="#5a3a1a" stroke-width="0.4"/>
<circle cx="157.7" cy="724.0" r="1.45" fill="#f0922e" stroke="#5a3a1a" stroke-width="0.4"/>
<circle cx="160.7" cy="724.9" r="1.45" fill="#f0922e" stroke="#5a3a1a" stroke-width="0.4"/>
<circle cx="163.5" cy="723.4" r="1.45" fill="#f0922e" stroke="#5a3a1a" stroke-width="0.4"/>
<circle cx="166.3" cy="722.9" r="1.45" fill="#f0922e" stroke="#5a3a1a" stroke-width="0.4"/>
<circle cx="158.1" cy="728.0" r="1.45" fill="#f0922e" stroke="#5a3a1a" stroke-width="0.4"/>
<circle cx="163.5" cy="727.5" r="1.45" fill="#f0922e" stroke="#5a3a1a" stroke-width="0.4"/>
<circle cx="160.5" cy="729.4" r="1.45" fill="#f0922e" stroke="#5a3a1a" stroke-width="0.4"/>
<circle cx="155.5" cy="733.3" r="1.45" fill="#f0922e" stroke="#5a3a1a" stroke-width="0.4"/>
<circle cx="157.6" cy="735.3" r="1.45" fill="#f0922e" stroke="#5a3a1a" stroke-width="0.4"/>
<circle cx="160.7" cy="736.3" r="1.45" fill="#f0922e" stroke="#5a3a1a" stroke-width="0.4"/>
<circle cx="163.5" cy="734.8" r="1.45" fill="#f0922e" stroke="#5a3a1a" stroke-width="0.4"/>
<circle cx="158.6" cy="739.2" r="1.45" fill="#f0922e" stroke="#5a3a1a" stroke-width="0.4"/>
<circle cx="160.7" cy="741.8" r="1.45" fill="#f0922e" stroke="#5a3a1a" stroke-width="0.4"/>
<circle cx="160.7" cy="746.5" r="1.45" fill="#f0922e" stroke="#5a3a1a" stroke-width="0.4"/>
<circle cx="160.7" cy="758.3" r="1.45" fill="#f0922e" stroke="#5a3a1a" stroke-width="0.4"/>
<circle cx="179.4" cy="714.2" r="1.45" fill="#3a5db0" stroke="#5a3a1a" stroke-width="0.4"/>
<circle cx="176.2" cy="721.5" r="1.45" fill="#3a5db0" stroke="#5a3a1a" stroke-width="0.4"/>
<circle cx="181.3" cy="721.5" r="1.45" fill="#3a5db0" stroke="#5a3a1a" stroke-width="0.4"/>
<circle cx="179.4" cy="724.4" r="1.45" fill="#5e7ac0" stroke="#556" stroke-width="0.4"/>
<circle cx="179.4" cy="731.2" r="1.45" fill="#5e7ac0" stroke="#556" stroke-width="0.4"/>
<circle cx="179.4" cy="737.9" r="1.45" fill="#5e7ac0" stroke="#556" stroke-width="0.4"/>
<circle cx="178.5" cy="741.7" r="1.45" fill="#5e7ac0" stroke="#556" stroke-width="0.4"/>
<circle cx="177.5" cy="748.8" r="1.45" fill="#3a5db0" stroke="#5a3a1a" stroke-width="0.4"/>
<circle cx="181.3" cy="748.8" r="1.45" fill="#3a5db0" stroke="#5a3a1a" stroke-width="0.4"/>
<circle cx="179.4" cy="752.3" r="1.45" fill="#3a5db0" stroke="#5a3a1a" stroke-width="0.4"/>
<circle cx="198.1" cy="710.4" r="1.45" fill="#8e44ad" stroke="#5a3a1a" stroke-width="0.4"/>
<circle cx="198.1" cy="727.3" r="1.45" fill="#8e44ad" stroke="#5a3a1a" stroke-width="0.4"/>
<circle cx="192.9" cy="732.1" r="1.45" fill="#8e44ad" stroke="#5a3a1a" stroke-width="0.4"/>
<circle cx="195.8" cy="733.1" r="1.45" fill="#8e44ad" stroke="#5a3a1a" stroke-width="0.4"/>
<circle cx="200.6" cy="733.1" r="1.45" fill="#8e44ad" stroke="#5a3a1a" stroke-width="0.4"/>
<circle cx="198.1" cy="741.7" r="1.45" fill="#926abe" stroke="#556" stroke-width="0.4"/>
<circle cx="198.1" cy="748.5" r="1.45" fill="#8e44ad" stroke="#5a3a1a" stroke-width="0.4"/>
<circle cx="198.1" cy="752.7" r="1.45" fill="#8e44ad" stroke="#5a3a1a" stroke-width="0.4"/>
<circle cx="198.1" cy="782.7" r="1.45" fill="#8e44ad" stroke="#5a3a1a" stroke-width="0.4"/>
<circle cx="216.5" cy="703.3" r="1.45" fill="#2a9a4a" stroke="#5a3a1a" stroke-width="0.4"/>
<circle cx="216.5" cy="717.3" r="1.45" fill="#2a9a4a" stroke="#5a3a1a" stroke-width="0.4"/>
<circle cx="214.0" cy="726.3" r="1.45" fill="#54a081" stroke="#556" stroke-width="0.4"/>
<circle cx="218.8" cy="725.4" r="1.45" fill="#2a9a4a" stroke="#5a3a1a" stroke-width="0.4"/>
<circle cx="216.5" cy="727.7" r="1.45" fill="#54a081" stroke="#556" stroke-width="0.4"/>
<circle cx="216.5" cy="732.1" r="1.45" fill="#54a081" stroke="#556" stroke-width="0.4"/>
<circle cx="216.5" cy="737.3" r="1.45" fill="#54a081" stroke="#556" stroke-width="0.4"/>
<circle cx="214.0" cy="743.7" r="1.45" fill="#2a9a4a" stroke="#5a3a1a" stroke-width="0.4"/>
<circle cx="216.5" cy="745.6" r="1.45" fill="#2a9a4a" stroke="#5a3a1a" stroke-width="0.4"/>
<circle cx="216.5" cy="756.2" r="1.45" fill="#2a9a4a" stroke="#5a3a1a" stroke-width="0.4"/>
<circle cx="216.5" cy="761.9" r="1.45" fill="#2a9a4a" stroke="#5a3a1a" stroke-width="0.4"/>
<circle cx="235.2" cy="694.6" r="1.45" fill="#d8203a" stroke="#5a3a1a" stroke-width="0.4"/>
<circle cx="235.2" cy="717.7" r="1.45" fill="#d8203a" stroke="#5a3a1a" stroke-width="0.4"/>
<circle cx="233.3" cy="727.3" r="1.45" fill="#c05477" stroke="#556" stroke-width="0.4"/>
<circle cx="237.1" cy="727.3" r="1.45" fill="#c05477" stroke="#556" stroke-width="0.4"/>
<circle cx="235.2" cy="743.7" r="1.45" fill="#c05477" stroke="#556" stroke-width="0.4"/>
<circle cx="235.2" cy="748.8" r="1.45" fill="#d8203a" stroke="#5a3a1a" stroke-width="0.4"/>
<circle cx="235.2" cy="754.2" r="1.45" fill="#d8203a" stroke="#5a3a1a" stroke-width="0.4"/>
<rect x="151.40" y="687.40" width="93.40" height="99.80" fill="none" stroke="#777" stroke-width="1.0" />
<line x1="147.00" y1="695.00" x2="151.40" y2="695.00" stroke="#666" stroke-width="0.9" />
<text x="143.4" y="697.8" font-size="8.0" text-anchor="end" fill="#444" >6</text>
<line x1="147.00" y1="712.90" x2="151.40" y2="712.90" stroke="#666" stroke-width="0.9" />
<text x="143.4" y="715.7" font-size="8.0" text-anchor="end" fill="#444" >5</text>
<line x1="147.00" y1="730.60" x2="151.40" y2="730.60" stroke="#666" stroke-width="0.9" />
<text x="143.4" y="733.4" font-size="8.0" text-anchor="end" fill="#444" >4</text>
<line x1="147.00" y1="748.50" x2="151.40" y2="748.50" stroke="#666" stroke-width="0.9" />
<text x="143.4" y="751.3" font-size="8.0" text-anchor="end" fill="#444" >3</text>
<line x1="147.00" y1="766.20" x2="151.40" y2="766.20" stroke="#666" stroke-width="0.9" />
<text x="143.4" y="769.0" font-size="8.0" text-anchor="end" fill="#444" >2</text>
<line x1="147.00" y1="784.00" x2="151.40" y2="784.00" stroke="#666" stroke-width="0.9" />
<text x="143.4" y="786.8" font-size="8.0" text-anchor="end" fill="#444" >1</text>
<line x1="160.70" y1="787.20" x2="160.70" y2="792.20" stroke="#666" stroke-width="0.9" />
<text x="0" y="0" font-size="7.9" text-anchor="end" fill="#222" transform="translate(165.0,799.2) rotate(-45)">ARPC</text>
<line x1="179.40" y1="787.20" x2="179.40" y2="792.20" stroke="#666" stroke-width="0.9" />
<text x="0" y="0" font-size="7.9" text-anchor="end" fill="#222" transform="translate(183.7,799.2) rotate(-45)">ARLPC</text>
<line x1="198.20" y1="787.20" x2="198.20" y2="792.20" stroke="#666" stroke-width="0.9" />
<text x="0" y="0" font-size="7.9" text-anchor="end" fill="#222" transform="translate(202.5,799.2) rotate(-45)">NEPC</text>
<line x1="216.60" y1="787.20" x2="216.60" y2="792.20" stroke="#666" stroke-width="0.9" />
<text x="0" y="0" font-size="7.9" text-anchor="end" fill="#222" transform="translate(220.9,799.2) rotate(-45)">AMPC</text>
<line x1="235.50" y1="787.20" x2="235.50" y2="792.20" stroke="#666" stroke-width="0.9" />
<text x="0" y="0" font-size="7.9" text-anchor="end" fill="#222" transform="translate(239.8,799.2) rotate(-45)">DNPC</text>
<text x="0" y="0" font-size="7.6" text-anchor="middle" fill="#222" transform="translate(136.0,737.3) rotate(-90)">log2(SUCLG2 FPKM)</text>
<path d="M160.6 702.7 V695.6 H198.1 V723.5" stroke="#111" stroke-width="1.1" fill="none" />
<text x="179.1" y="698.6" font-size="14" text-anchor="middle" fill="#111" >*</text>
<text x="256.5" y="675.5" font-size="22" text-anchor="start" fill="#000" >h</text>
<text x="0" y="0" font-size="12.2" text-anchor="middle" fill="#111" transform="translate(279.2,735.6) rotate(-90)">Survival Probability</text>
<text x="354.5" y="681.7" font-size="12.6" text-anchor="middle" fill="#111" >MitoS</text>
<rect x="300.50" y="685.50" width="108.40" height="100.60" fill="none" stroke="#444" stroke-width="1.0" />
<line x1="297.70" y1="689.90" x2="300.50" y2="689.90" stroke="#555" stroke-width="0.9" />
<text x="296.3" y="692.7" font-size="7.9" text-anchor="end" fill="#222" >1.0</text>
<line x1="297.70" y1="736.20" x2="300.50" y2="736.20" stroke="#555" stroke-width="0.9" />
<text x="296.3" y="739.0" font-size="7.9" text-anchor="end" fill="#222" >0.5</text>
<line x1="297.70" y1="782.50" x2="300.50" y2="782.50" stroke="#555" stroke-width="0.9" />
<text x="296.3" y="785.3" font-size="7.9" text-anchor="end" fill="#222" >0.0</text>
<line x1="305.00" y1="786.10" x2="305.00" y2="789.60" stroke="#555" stroke-width="0.9" />
<text x="305.0" y="796.4" font-size="7.9" text-anchor="middle" fill="#222" >0</text>
<line x1="325.60" y1="786.10" x2="325.60" y2="789.60" stroke="#555" stroke-width="0.9" />
<text x="325.6" y="796.4" font-size="7.9" text-anchor="middle" fill="#222" >10</text>
<line x1="346.20" y1="786.10" x2="346.20" y2="789.60" stroke="#555" stroke-width="0.9" />
<text x="346.2" y="796.4" font-size="7.9" text-anchor="middle" fill="#222" >20</text>
<line x1="366.80" y1="786.10" x2="366.80" y2="789.60" stroke="#555" stroke-width="0.9" />
<text x="366.8" y="796.4" font-size="7.9" text-anchor="middle" fill="#222" >30</text>
<line x1="387.40" y1="786.10" x2="387.40" y2="789.60" stroke="#555" stroke-width="0.9" />
<text x="387.4" y="796.4" font-size="7.9" text-anchor="middle" fill="#222" >40</text>
<line x1="408.00" y1="786.10" x2="408.00" y2="789.60" stroke="#555" stroke-width="0.9" />
<text x="408.0" y="796.4" font-size="7.9" text-anchor="middle" fill="#222" >50</text>
<text x="350.6" y="811.0" font-size="11.8" text-anchor="middle" fill="#111" >Months</text>
<line x1="305.00" y1="736.20" x2="363.71" y2="736.20" stroke="#333" stroke-width="1.1" stroke-dasharray="3 2"/>
<line x1="350.73" y1="736.20" x2="350.73" y2="782.50" stroke="#333" stroke-width="1.1" stroke-dasharray="3 2"/>
<line x1="363.71" y1="736.20" x2="363.71" y2="782.50" stroke="#333" stroke-width="1.1" stroke-dasharray="3 2"/>
<path d="M305.0 689.9H313.4V692.4H317.2V696.2H324.8V699.9H330.5V704.0H331.8V707.3H336.5V712.3H337.8V714.8H342.3V719.0H343.5V723.1H351.6V728.1H353.8V732.7H364.9V738.9H365.8V746.3H366.6V751.3H374.2V759.6H398.9V770.4H404.3V782.5" stroke="#4a8fd0" stroke-width="1.1" fill="none" />
<path d="M305.0 689.9H312.2V692.9H317.8V696.2H326.0V699.9H329.7V704.8H331.0V709.8H332.0V714.8H341.9V718.1H342.9V723.1H343.9V730.6H347.8V733.1H351.1V739.7H357.3V743.0H362.9V746.3H364.5V753.8H370.9V759.6H374.2V771.2H375.2V776.5H386.8V782.5" stroke="#e8262a" stroke-width="1.1" fill="none" />
<text x="407.2" y="708.0" font-size="7.5" text-anchor="end" fill="#3a3a9a" >28.5 months</text>
<text x="302.9" y="754.5" font-size="7.5" text-anchor="start" fill="#e83030" >22.2 months</text>
<text x="305.0" y="781.7" font-size="7.5" text-anchor="start" fill="#222" >p=1.5e-09</text>
<text x="483.1" y="683.4" font-size="12.6" text-anchor="middle" fill="#111" >HIBCH</text>
<rect x="429.50" y="687.50" width="108.40" height="100.60" fill="none" stroke="#444" stroke-width="1.0" />
<line x1="426.70" y1="691.90" x2="429.50" y2="691.90" stroke="#555" stroke-width="0.9" />
<text x="425.3" y="694.7" font-size="7.9" text-anchor="end" fill="#222" >1.0</text>
<line x1="426.70" y1="738.20" x2="429.50" y2="738.20" stroke="#555" stroke-width="0.9" />
<text x="425.3" y="741.0" font-size="7.9" text-anchor="end" fill="#222" >0.5</text>
<line x1="426.70" y1="784.50" x2="429.50" y2="784.50" stroke="#555" stroke-width="0.9" />
<text x="425.3" y="787.3" font-size="7.9" text-anchor="end" fill="#222" >0.0</text>
<line x1="434.00" y1="788.10" x2="434.00" y2="791.60" stroke="#555" stroke-width="0.9" />
<text x="434.0" y="798.4" font-size="7.9" text-anchor="middle" fill="#222" >0</text>
<line x1="454.60" y1="788.10" x2="454.60" y2="791.60" stroke="#555" stroke-width="0.9" />
<text x="454.6" y="798.4" font-size="7.9" text-anchor="middle" fill="#222" >10</text>
<line x1="475.20" y1="788.10" x2="475.20" y2="791.60" stroke="#555" stroke-width="0.9" />
<text x="475.2" y="798.4" font-size="7.9" text-anchor="middle" fill="#222" >20</text>
<line x1="495.80" y1="788.10" x2="495.80" y2="791.60" stroke="#555" stroke-width="0.9" />
<text x="495.8" y="798.4" font-size="7.9" text-anchor="middle" fill="#222" >30</text>
<line x1="516.40" y1="788.10" x2="516.40" y2="791.60" stroke="#555" stroke-width="0.9" />
<text x="516.4" y="798.4" font-size="7.9" text-anchor="middle" fill="#222" >40</text>
<line x1="537.00" y1="788.10" x2="537.00" y2="791.60" stroke="#555" stroke-width="0.9" />
<text x="537.0" y="798.4" font-size="7.9" text-anchor="middle" fill="#222" >50</text>
<text x="488.2" y="809.6" font-size="11.8" text-anchor="middle" fill="#111" >Months</text>
<line x1="434.00" y1="738.20" x2="493.53" y2="738.20" stroke="#333" stroke-width="1.1" stroke-dasharray="3 2"/>
<line x1="479.53" y1="738.20" x2="479.53" y2="784.50" stroke="#333" stroke-width="1.1" stroke-dasharray="3 2"/>
<line x1="493.53" y1="738.20" x2="493.53" y2="784.50" stroke="#333" stroke-width="1.1" stroke-dasharray="3 2"/>
<path d="M434.0 691.9H442.4V694.4H447.0V698.2H453.4V701.9H459.5V706.5H461.4V713.5H465.1V717.6H466.8V721.4H472.1V725.9H482.2V729.8H493.5V734.2H494.8V739.2H498.1V750.8H499.7V756.3H503.2V767.4H527.9V775.7H533.3V784.5" stroke="#4a8fd0" stroke-width="1.1" fill="none" />
<path d="M434.0 691.9H440.0V693.6H441.2V698.2H446.2V701.9H458.7V706.0H470.9V714.8H472.1V719.3H472.9V723.8H476.8V728.4H477.3V733.4H480.1V742.6H482.2V748.3H486.3V753.3H493.9V761.6H503.2V768.2H504.2V776.5H519.9V784.5" stroke="#e8262a" stroke-width="1.1" fill="none" />
<text x="536.2" y="710.0" font-size="7.5" text-anchor="end" fill="#3a3a9a" >28.9 months</text>
<text x="431.9" y="756.5" font-size="7.5" text-anchor="start" fill="#e83030" >22.1 months</text>
<text x="434.0" y="783.7" font-size="7.5" text-anchor="start" fill="#222" >p=8.6e-09</text>
<text x="612.1" y="683.4" font-size="12.6" text-anchor="middle" fill="#111" >SDHB</text>
<rect x="558.50" y="687.50" width="108.00" height="100.60" fill="none" stroke="#444" stroke-width="1.0" />
<line x1="555.70" y1="691.90" x2="558.50" y2="691.90" stroke="#555" stroke-width="0.9" />
<text x="554.3" y="694.7" font-size="7.9" text-anchor="end" fill="#222" >1.0</text>
<line x1="555.70" y1="738.20" x2="558.50" y2="738.20" stroke="#555" stroke-width="0.9" />
<text x="554.3" y="741.0" font-size="7.9" text-anchor="end" fill="#222" >0.5</text>
<line x1="555.70" y1="784.50" x2="558.50" y2="784.50" stroke="#555" stroke-width="0.9" />
<text x="554.3" y="787.3" font-size="7.9" text-anchor="end" fill="#222" >0.0</text>
<line x1="563.00" y1="788.10" x2="563.00" y2="791.60" stroke="#555" stroke-width="0.9" />
<text x="563.0" y="798.4" font-size="7.9" text-anchor="middle" fill="#222" >0</text>
<line x1="583.60" y1="788.10" x2="583.60" y2="791.60" stroke="#555" stroke-width="0.9" />
<text x="583.6" y="798.4" font-size="7.9" text-anchor="middle" fill="#222" >10</text>
<line x1="604.20" y1="788.10" x2="604.20" y2="791.60" stroke="#555" stroke-width="0.9" />
<text x="604.2" y="798.4" font-size="7.9" text-anchor="middle" fill="#222" >20</text>
<line x1="624.80" y1="788.10" x2="624.80" y2="791.60" stroke="#555" stroke-width="0.9" />
<text x="624.8" y="798.4" font-size="7.9" text-anchor="middle" fill="#222" >30</text>
<line x1="645.40" y1="788.10" x2="645.40" y2="791.60" stroke="#555" stroke-width="0.9" />
<text x="645.4" y="798.4" font-size="7.9" text-anchor="middle" fill="#222" >40</text>
<line x1="666.00" y1="788.10" x2="666.00" y2="791.60" stroke="#555" stroke-width="0.9" />
<text x="666.0" y="798.4" font-size="7.9" text-anchor="middle" fill="#222" >50</text>
<text x="616.3" y="809.5" font-size="11.8" text-anchor="middle" fill="#111" >Months</text>
<line x1="563.00" y1="738.20" x2="621.71" y2="738.20" stroke="#333" stroke-width="1.1" stroke-dasharray="3 2"/>
<line x1="601.52" y1="738.20" x2="601.52" y2="784.50" stroke="#333" stroke-width="1.1" stroke-dasharray="3 2"/>
<line x1="621.71" y1="738.20" x2="621.71" y2="784.50" stroke="#333" stroke-width="1.1" stroke-dasharray="3 2"/>
<path d="M563.0 691.9H582.0V696.5H589.4V700.2H595.3V704.3H600.3V708.5H605.8V712.6H609.6V721.0H611.6V725.9H612.0V730.9H621.3V738.4H622.1V744.2H623.8V750.8H632.2V759.1H656.5V771.5H662.3V784.5" stroke="#4a8fd0" stroke-width="1.1" fill="none" />
<path d="M563.0 691.9H568.6V694.4H570.2V698.2H571.9V701.9H574.3V705.1H584.4V708.5H587.5V712.6H588.5V716.8H591.2V720.1H594.5V723.4H598.6V725.9H599.9V729.2H600.9V733.4H601.5V738.4H608.3V742.6H611.2V746.6H615.3V750.8H621.3V755.0H622.9V758.3H626.0V762.5H628.1V767.4H630.6V771.5H632.2V775.7H633.2V784.5" stroke="#e8262a" stroke-width="1.1" fill="none" />
<text x="664.8" y="710.0" font-size="7.5" text-anchor="end" fill="#3a3a9a" >28.5 months</text>
<text x="560.9" y="756.5" font-size="7.5" text-anchor="start" fill="#e83030" >18.7 months</text>
<text x="563.0" y="783.7" font-size="7.5" text-anchor="start" fill="#222" >p=5.9e-11</text>
<text x="684.3" y="672.4" font-size="9.6" text-anchor="end" fill="#4040a0" >Low&#160;&#160;(n=30)</text>
<text x="684.3" y="683.4" font-size="9.6" text-anchor="end" fill="#e83838" >High (n=30)</text>
</svg></body></html>
